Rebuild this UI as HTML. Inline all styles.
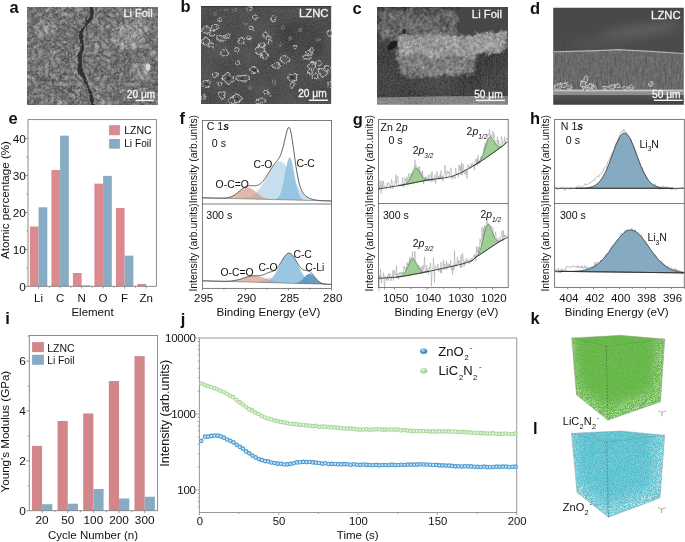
<!DOCTYPE html>
<html><head><meta charset="utf-8"><style>
html,body{margin:0;padding:0;background:#fff;width:685px;height:542px;overflow:hidden}
svg{display:block;will-change:transform}
text{font-family:"Liberation Sans",sans-serif}
</style></head><body>
<svg width="685" height="542" viewBox="0 0 685 542" font-family="Liberation Sans, sans-serif">
<defs>
<filter id="speck" x="0" y="0" width="100%" height="100%">
 <feTurbulence type="fractalNoise" baseFrequency="1.1" numOctaves="1" seed="4" result="n"/>
 <feColorMatrix in="n" type="matrix" values="0 0 0 0 1  0 0 0 0 1  0 0 0 0 1  1.6 0 0 0 -0.55" result="w"/>
 <feComposite in="w" in2="SourceGraphic" operator="in"/>
</filter>
<filter id="speck2" x="0" y="0" width="100%" height="100%">
 <feTurbulence type="fractalNoise" baseFrequency="1.3" numOctaves="1" seed="21" result="n"/>
 <feColorMatrix in="n" type="matrix" values="0 0 0 0 1  0 0 0 0 1  0 0 0 0 1  3 0 0 0 -1.25" result="w"/>
 <feComposite in="w" in2="SourceGraphic" operator="in"/>
</filter>
<linearGradient id="fadeK" x1="0" y1="0" x2="0" y2="1"><stop offset="0" stop-color="#fff" stop-opacity="0.05"/><stop offset="0.7" stop-color="#fff" stop-opacity="0.2"/><stop offset="1" stop-color="#fff" stop-opacity="0.9"/></linearGradient>
<filter id="texA" x="0" y="0" width="100%" height="100%" color-interpolation-filters="sRGB">
 <feTurbulence type="turbulence" baseFrequency="0.16" numOctaves="4" seed="3" result="n1"/>
 <feTurbulence type="fractalNoise" baseFrequency="0.5" numOctaves="2" seed="8" result="n2"/>
 <feComposite in="n1" in2="n2" operator="arithmetic" k1="0" k2="0.7" k3="0.3" k4="0" result="n"/>
 <feColorMatrix in="n" type="matrix" values="1 0 0 0 0  1 0 0 0 0  1 0 0 0 0  0 0 0 0 1" result="g"/>
 <feComposite in="SourceGraphic" in2="g" operator="arithmetic" k1="0" k2="1" k3="0.72" k4="-0.255" result="c"/>
 <feComposite in="c" in2="SourceGraphic" operator="in"/>
</filter><filter id="texB" x="0" y="0" width="100%" height="100%" color-interpolation-filters="sRGB">
 <feTurbulence type="fractalNoise" baseFrequency="0.5" numOctaves="2" seed="5" result="n1"/>
 <feTurbulence type="fractalNoise" baseFrequency="0.05" numOctaves="1" seed="6" result="n2"/>
 <feComposite in="n1" in2="n2" operator="arithmetic" k1="0" k2="0.6" k3="0.4" k4="0" result="n"/>
 <feColorMatrix in="n" type="matrix" values="1 0 0 0 0  1 0 0 0 0  1 0 0 0 0  0 0 0 0 1" result="g"/>
 <feComposite in="SourceGraphic" in2="g" operator="arithmetic" k1="0" k2="1" k3="0.22" k4="-0.1100" result="c"/>
 <feComposite in="c" in2="SourceGraphic" operator="in"/>
</filter><filter id="texC" x="0" y="0" width="100%" height="100%" color-interpolation-filters="sRGB">
 <feTurbulence type="fractalNoise" baseFrequency="0.3" numOctaves="3" seed="9" result="n1"/>
 <feTurbulence type="fractalNoise" baseFrequency="0.1" numOctaves="2" seed="12" result="n2"/>
 <feComposite in="n1" in2="n2" operator="arithmetic" k1="0" k2="0.65" k3="0.35" k4="0" result="n"/>
 <feColorMatrix in="n" type="matrix" values="1 0 0 0 0  1 0 0 0 0  1 0 0 0 0  0 0 0 0 1" result="g"/>
 <feComposite in="SourceGraphic" in2="g" operator="arithmetic" k1="0" k2="1" k3="0.55" k4="-0.2750" result="c"/>
 <feComposite in="c" in2="SourceGraphic" operator="in"/>
</filter><filter id="texCd" x="0" y="0" width="100%" height="100%" color-interpolation-filters="sRGB">
 <feTurbulence type="fractalNoise" baseFrequency="0.6" numOctaves="1" seed="13" result="n1"/>
 <feTurbulence type="fractalNoise" baseFrequency="0.03" numOctaves="1" seed="14" result="n2"/>
 <feComposite in="n1" in2="n2" operator="arithmetic" k1="0" k2="0.7" k3="0.3" k4="0" result="n"/>
 <feColorMatrix in="n" type="matrix" values="1 0 0 0 0  1 0 0 0 0  1 0 0 0 0  0 0 0 0 1" result="g"/>
 <feComposite in="SourceGraphic" in2="g" operator="arithmetic" k1="0" k2="1" k3="0.4" k4="-0.2000" result="c"/>
 <feComposite in="c" in2="SourceGraphic" operator="in"/>
</filter><filter id="texD" x="0" y="0" width="100%" height="100%" color-interpolation-filters="sRGB">
 <feTurbulence type="fractalNoise" baseFrequency="0.4" numOctaves="2" seed="11" result="n1"/>
 <feTurbulence type="fractalNoise" baseFrequency="0.08" numOctaves="2" seed="15" result="n2"/>
 <feComposite in="n1" in2="n2" operator="arithmetic" k1="0" k2="0.6" k3="0.4" k4="0" result="n"/>
 <feColorMatrix in="n" type="matrix" values="1 0 0 0 0  1 0 0 0 0  1 0 0 0 0  0 0 0 0 1" result="g"/>
 <feComposite in="SourceGraphic" in2="g" operator="arithmetic" k1="0" k2="1" k3="0.5" k4="-0.2500" result="c"/>
 <feComposite in="c" in2="SourceGraphic" operator="in"/>
</filter>
<filter id="wig" x="-5%" y="-5%" width="110%" height="110%" color-interpolation-filters="sRGB"><feTurbulence type="fractalNoise" baseFrequency="0.45" numOctaves="2" seed="17" result="t"/><feDisplacementMap in="SourceGraphic" in2="t" scale="3.2" xChannelSelector="R" yChannelSelector="G"/></filter>
<filter id="wig2" x="-5%" y="-5%" width="110%" height="110%" color-interpolation-filters="sRGB"><feTurbulence type="fractalNoise" baseFrequency="0.12" numOctaves="3" seed="23" result="t"/><feDisplacementMap in="SourceGraphic" in2="t" scale="9" xChannelSelector="R" yChannelSelector="G"/></filter>
<filter id="blur05" x="-20%" y="-20%" width="140%" height="140%"><feGaussianBlur stdDeviation="0.45"/></filter>
<filter id="blur1" x="-20%" y="-20%" width="140%" height="140%"><feGaussianBlur stdDeviation="0.8"/></filter>
<filter id="blur2" x="-30%" y="-30%" width="160%" height="160%"><feGaussianBlur stdDeviation="2"/></filter>
<filter id="blur3" x="-30%" y="-30%" width="160%" height="160%"><feGaussianBlur stdDeviation="3"/></filter>
<filter id="blur4" x="-50%" y="-50%" width="200%" height="200%"><feGaussianBlur stdDeviation="5"/></filter>
<clipPath id="cpa"><rect x="27" y="7" width="131" height="98"/></clipPath>
<clipPath id="cpb"><rect x="201" y="6" width="130.5" height="98"/></clipPath>
<clipPath id="cpc"><rect x="377" y="7" width="131" height="97.7"/></clipPath>
<clipPath id="cpd"><rect x="553.2" y="7.7" width="130.6" height="97.1"/></clipPath>
<filter id="cspk" x="0" y="0" width="100%" height="100%" color-interpolation-filters="sRGB">
 <feTurbulence type="fractalNoise" baseFrequency="0.8" numOctaves="1" seed="41" result="n"/>
 <feColorMatrix in="n" type="matrix" values="0 0 0 0 1  0 0 0 0 1  0 0 0 0 1  2.6 0 0 0 -1.35" result="w"/>
 <feComposite in="w" in2="SourceGraphic" operator="in"/>
</filter><filter id="texD2" x="0" y="0" width="100%" height="100%" color-interpolation-filters="sRGB">
 <feTurbulence type="fractalNoise" baseFrequency="0.7 0.09" numOctaves="2" seed="31" result="n1"/>
 <feTurbulence type="fractalNoise" baseFrequency="0.35" numOctaves="2" seed="32" result="n2"/>
 <feComposite in="n1" in2="n2" operator="arithmetic" k1="0" k2="0.6" k3="0.4" k4="0" result="n"/>
 <feColorMatrix in="n" type="matrix" values="1 0 0 0 0  1 0 0 0 0  1 0 0 0 0  0 0 0 0 1" result="g"/>
 <feComposite in="SourceGraphic" in2="g" operator="arithmetic" k1="0" k2="1" k3="0.3" k4="-0.15" result="c"/>
 <feComposite in="c" in2="SourceGraphic" operator="in"/>
</filter>
<linearGradient id="dtop" x1="0" y1="0" x2="0" y2="1"><stop offset="0" stop-color="#474747"/><stop offset="1" stop-color="#4b4b4b"/></linearGradient>
<linearGradient id="dbot" x1="0" y1="0" x2="0" y2="1"><stop offset="0" stop-color="#555"/><stop offset="0.5" stop-color="#474747"/><stop offset="1" stop-color="#3e3e3e"/></linearGradient></defs>
<text x="9.6" y="13" font-size="16.5" font-weight="bold" fill="#111" >a</text>
<text x="180.5" y="11.8" font-size="16.5" font-weight="bold" fill="#111" >b</text>
<text x="352.5" y="13.7" font-size="16.5" font-weight="bold" fill="#111" >c</text>
<text x="530" y="13.6" font-size="16.5" font-weight="bold" fill="#111" >d</text>
<text x="8.6" y="124.2" font-size="16.5" font-weight="bold" fill="#111" >e</text>
<text x="179.6" y="124" font-size="16.5" font-weight="bold" fill="#111" >f</text>
<text x="352.8" y="124.6" font-size="16.5" font-weight="bold" fill="#111" >g</text>
<text x="530" y="124.2" font-size="16.5" font-weight="bold" fill="#111" >h</text>
<text x="5.2" y="324.2" font-size="16.5" font-weight="bold" fill="#111" >i</text>
<text x="180.8" y="324.5" font-size="16.5" font-weight="bold" fill="#111" >j</text>
<text x="530.6" y="324" font-size="16.5" font-weight="bold" fill="#111" >k</text>
<text x="532.9" y="433.6" font-size="16.5" font-weight="bold" fill="#111" >l</text>
<rect x="29.90" y="226.48" width="8.7" height="59.82" fill="#db8a90"/>
<rect x="38.60" y="207.28" width="8.7" height="79.02" fill="#86abc3"/>
<text x="38.6" y="302" font-size="11.5" text-anchor="middle" fill="#111" >Li</text>
<line x1="38.60" y1="286.3" x2="38.60" y2="288.5" stroke="#808080" stroke-width="0.8"/>
<line x1="49.35" y1="286.3" x2="49.35" y2="287.8" stroke="#808080" stroke-width="0.8"/>
<rect x="51.40" y="169.99" width="8.7" height="116.31" fill="#db8a90"/>
<rect x="60.10" y="135.65" width="8.7" height="150.65" fill="#86abc3"/>
<text x="60.1" y="302" font-size="11.5" text-anchor="middle" fill="#111" >C</text>
<line x1="60.10" y1="286.3" x2="60.10" y2="288.5" stroke="#808080" stroke-width="0.8"/>
<line x1="70.85" y1="286.3" x2="70.85" y2="287.8" stroke="#808080" stroke-width="0.8"/>
<rect x="72.90" y="273.01" width="8.7" height="13.29" fill="#db8a90"/>
<rect x="81.60" y="285.38" width="8.7" height="0.92" fill="#86abc3"/>
<text x="81.6" y="302" font-size="11.5" text-anchor="middle" fill="#111" >N</text>
<line x1="81.60" y1="286.3" x2="81.60" y2="288.5" stroke="#808080" stroke-width="0.8"/>
<line x1="92.35" y1="286.3" x2="92.35" y2="287.8" stroke="#808080" stroke-width="0.8"/>
<rect x="94.40" y="183.65" width="8.7" height="102.65" fill="#db8a90"/>
<rect x="103.10" y="175.89" width="8.7" height="110.41" fill="#86abc3"/>
<text x="103.1" y="302" font-size="11.5" text-anchor="middle" fill="#111" >O</text>
<line x1="103.10" y1="286.3" x2="103.10" y2="288.5" stroke="#808080" stroke-width="0.8"/>
<line x1="113.85" y1="286.3" x2="113.85" y2="287.8" stroke="#808080" stroke-width="0.8"/>
<rect x="115.90" y="208.02" width="8.7" height="78.28" fill="#db8a90"/>
<rect x="124.60" y="255.65" width="8.7" height="30.65" fill="#86abc3"/>
<text x="124.6" y="302" font-size="11.5" text-anchor="middle" fill="#111" >F</text>
<line x1="124.60" y1="286.3" x2="124.60" y2="288.5" stroke="#808080" stroke-width="0.8"/>
<line x1="135.35" y1="286.3" x2="135.35" y2="287.8" stroke="#808080" stroke-width="0.8"/>
<rect x="137.40" y="283.90" width="8.7" height="2.40" fill="#db8a90"/>
<text x="146.1" y="302" font-size="11.5" text-anchor="middle" fill="#111" >Zn</text>
<line x1="146.10" y1="286.3" x2="146.10" y2="288.5" stroke="#808080" stroke-width="0.8"/>
<rect x="28" y="119.6" width="128.4" height="166.70000000000002" fill="none" stroke="#808080" stroke-width="0.9"/>
<line x1="25" y1="286.30" x2="28" y2="286.30" stroke="#808080" stroke-width="0.8"/>
<text x="25.8" y="290.5" font-size="11.8" text-anchor="end" fill="#111" >0</text>
<line x1="26.4" y1="267.84" x2="28" y2="267.84" stroke="#808080" stroke-width="0.8"/>
<line x1="25" y1="249.38" x2="28" y2="249.38" stroke="#808080" stroke-width="0.8"/>
<text x="25.8" y="253.575" font-size="11.8" text-anchor="end" fill="#111" >10</text>
<line x1="26.4" y1="230.91" x2="28" y2="230.91" stroke="#808080" stroke-width="0.8"/>
<line x1="25" y1="212.45" x2="28" y2="212.45" stroke="#808080" stroke-width="0.8"/>
<text x="25.8" y="216.64999999999998" font-size="11.8" text-anchor="end" fill="#111" >20</text>
<line x1="26.4" y1="193.99" x2="28" y2="193.99" stroke="#808080" stroke-width="0.8"/>
<line x1="25" y1="175.53" x2="28" y2="175.53" stroke="#808080" stroke-width="0.8"/>
<text x="25.8" y="179.725" font-size="11.8" text-anchor="end" fill="#111" >30</text>
<line x1="26.4" y1="157.06" x2="28" y2="157.06" stroke="#808080" stroke-width="0.8"/>
<line x1="25" y1="138.60" x2="28" y2="138.60" stroke="#808080" stroke-width="0.8"/>
<text x="25.8" y="142.79999999999998" font-size="11.8" text-anchor="end" fill="#111" >40</text>
<text x="92.5" y="316" font-size="11.5" text-anchor="middle" fill="#111" >Element</text>
<text transform="translate(8.9,200) rotate(-90)" font-size="11.6" text-anchor="middle" fill="#111">Atomic percentage (%)</text>
<rect x="109.1" y="125.2" width="10.8" height="10" fill="#db8a90"/>
<rect x="109.1" y="139" width="10.8" height="9.7" fill="#86abc3"/>
<text x="124.2" y="134.3" font-size="10.5" fill="#111" >LZNC</text>
<text x="124.2" y="146.6" font-size="10.2" fill="#111" >Li Foil</text>
<rect x="31.90" y="445.88" width="10.2" height="64.82" fill="#d3868a"/>
<rect x="42.10" y="504.22" width="10.2" height="6.48" fill="#86abc3"/>
<text x="42.1" y="524.2" font-size="11.8" text-anchor="middle" fill="#111" >20</text>
<line x1="42.10" y1="510.7" x2="42.10" y2="512.9" stroke="#808080" stroke-width="0.8"/>
<line x1="54.90" y1="510.7" x2="54.90" y2="512.2" stroke="#808080" stroke-width="0.8"/>
<rect x="57.55" y="420.95" width="10.2" height="89.75" fill="#d3868a"/>
<rect x="67.75" y="503.72" width="10.2" height="6.98" fill="#86abc3"/>
<text x="67.75" y="524.2" font-size="11.8" text-anchor="middle" fill="#111" >50</text>
<line x1="67.75" y1="510.7" x2="67.75" y2="512.9" stroke="#808080" stroke-width="0.8"/>
<line x1="80.55" y1="510.7" x2="80.55" y2="512.2" stroke="#808080" stroke-width="0.8"/>
<rect x="83.20" y="413.47" width="10.2" height="97.23" fill="#d3868a"/>
<rect x="93.40" y="489.01" width="10.2" height="21.69" fill="#86abc3"/>
<text x="93.4" y="524.2" font-size="11.8" text-anchor="middle" fill="#111" >100</text>
<line x1="93.40" y1="510.7" x2="93.40" y2="512.9" stroke="#808080" stroke-width="0.8"/>
<line x1="106.20" y1="510.7" x2="106.20" y2="512.2" stroke="#808080" stroke-width="0.8"/>
<rect x="108.85" y="381.06" width="10.2" height="129.64" fill="#d3868a"/>
<rect x="119.05" y="498.48" width="10.2" height="12.22" fill="#86abc3"/>
<text x="119.04999999999998" y="524.2" font-size="11.8" text-anchor="middle" fill="#111" >200</text>
<line x1="119.05" y1="510.7" x2="119.05" y2="512.9" stroke="#808080" stroke-width="0.8"/>
<line x1="131.85" y1="510.7" x2="131.85" y2="512.2" stroke="#808080" stroke-width="0.8"/>
<rect x="134.50" y="356.13" width="10.2" height="154.57" fill="#d3868a"/>
<rect x="144.70" y="496.74" width="10.2" height="13.96" fill="#86abc3"/>
<text x="144.7" y="524.2" font-size="11.8" text-anchor="middle" fill="#111" >300</text>
<line x1="144.70" y1="510.7" x2="144.70" y2="512.9" stroke="#808080" stroke-width="0.8"/>
<rect x="29.3" y="335.5" width="128.29999999999998" height="175.2" fill="none" stroke="#808080" stroke-width="0.9"/>
<line x1="26.3" y1="510.70" x2="29.3" y2="510.70" stroke="#808080" stroke-width="0.8"/>
<text x="25.8" y="514.9" font-size="11.8" text-anchor="end" fill="#111" >0</text>
<line x1="27.7" y1="485.77" x2="29.3" y2="485.77" stroke="#808080" stroke-width="0.8"/>
<line x1="26.3" y1="460.84" x2="29.3" y2="460.84" stroke="#808080" stroke-width="0.8"/>
<text x="25.8" y="465.03999999999996" font-size="11.8" text-anchor="end" fill="#111" >2</text>
<line x1="27.7" y1="435.91" x2="29.3" y2="435.91" stroke="#808080" stroke-width="0.8"/>
<line x1="26.3" y1="410.98" x2="29.3" y2="410.98" stroke="#808080" stroke-width="0.8"/>
<text x="25.8" y="415.18" font-size="11.8" text-anchor="end" fill="#111" >4</text>
<line x1="27.7" y1="386.05" x2="29.3" y2="386.05" stroke="#808080" stroke-width="0.8"/>
<line x1="26.3" y1="361.12" x2="29.3" y2="361.12" stroke="#808080" stroke-width="0.8"/>
<text x="25.8" y="365.32" font-size="11.8" text-anchor="end" fill="#111" >6</text>
<line x1="27.7" y1="336.19" x2="29.3" y2="336.19" stroke="#808080" stroke-width="0.8"/>
<text x="93" y="539" font-size="11.5" text-anchor="middle" fill="#111" >Cycle Number (n)</text>
<text transform="translate(8.7,431.6) rotate(-90)" font-size="11.6" text-anchor="middle" fill="#111">Young's Modulus (GPa)</text>
<rect x="32.1" y="342.1" width="11.8" height="10" fill="#d3868a"/>
<rect x="32.1" y="354.8" width="11.8" height="10" fill="#86abc3"/>
<text x="47.2" y="351.5" font-size="10.5" fill="#111" >LZNC</text>
<text x="47.2" y="363.8" font-size="10.3" fill="#111" >Li Foil</text>
<path d="M229.60,198.46 L230.10,198.47 L230.60,198.48 L231.10,198.49 L231.60,198.50 L232.10,198.51 L232.60,198.52 L233.10,198.52 L233.60,198.53 L234.10,198.53 L234.60,198.54 L235.10,198.54 L235.60,198.54 L236.10,198.55 L236.60,198.54 L237.10,198.54 L237.60,198.54 L238.10,198.53 L238.60,198.52 L239.10,198.51 L239.60,198.49 L240.10,198.47 L240.60,198.45 L241.10,198.42 L241.60,198.39 L242.10,198.36 L242.60,198.31 L243.10,198.27 L243.60,198.21 L244.10,198.15 L244.60,198.08 L245.10,198.00 L245.60,197.92 L246.10,197.82 L246.60,197.72 L247.10,197.60 L247.60,197.47 L248.10,197.32 L248.60,197.17 L249.10,197.00 L249.60,196.81 L250.10,196.61 L250.60,196.38 L251.10,196.15 L251.60,195.89 L252.10,195.61 L252.60,195.31 L253.10,194.99 L253.60,194.64 L254.10,194.28 L254.60,193.88 L255.10,193.47 L255.60,193.02 L256.10,192.55 L256.60,192.06 L257.10,191.54 L257.60,190.99 L258.10,190.41 L258.60,189.80 L259.10,189.17 L259.60,188.51 L260.10,187.83 L260.60,187.12 L261.10,186.38 L261.60,185.62 L262.10,184.83 L262.60,184.02 L263.10,183.19 L263.60,182.35 L264.10,181.48 L264.60,180.60 L265.10,179.71 L265.60,178.80 L266.10,177.89 L266.60,176.97 L267.10,176.05 L267.60,175.13 L268.10,174.21 L268.60,173.30 L269.10,172.40 L269.60,171.51 L270.10,170.64 L270.60,169.78 L271.10,168.95 L271.60,168.15 L272.10,167.37 L272.60,166.63 L273.10,165.92 L273.60,165.25 L274.10,164.63 L274.60,164.05 L275.10,163.52 L275.60,163.04 L276.10,162.61 L276.60,162.23 L277.10,161.91 L277.60,161.65 L278.10,161.45 L278.60,161.31 L279.10,161.23 L279.60,161.21 L280.10,161.26 L280.60,161.36 L281.10,161.53 L281.60,161.75 L282.10,162.04 L282.60,162.38 L283.10,162.78 L283.60,163.23 L284.10,163.74 L284.60,164.30 L285.10,164.90 L285.60,165.55 L286.10,166.24 L286.60,166.97 L287.10,167.74 L287.60,168.54 L288.10,169.37 L288.60,170.23 L289.10,171.11 L289.60,172.00 L290.10,172.92 L290.60,173.85 L291.10,174.78 L291.60,175.73 L292.10,176.67 L292.60,177.62 L293.10,178.56 L293.60,179.50 L294.10,180.43 L294.60,181.35 L295.10,182.25 L295.60,183.14 L296.10,184.01 L296.60,184.87 L297.10,185.70 L297.60,186.51 L298.10,187.29 L298.60,188.06 L299.10,188.79 L299.60,189.50 L300.10,190.19 L300.60,190.85 L301.10,191.48 L301.60,192.08 L302.10,192.65 L302.60,193.20 L303.10,193.72 L303.60,194.21 L304.10,194.68 L304.60,195.12 L305.10,195.54 L305.60,195.93 L306.10,196.30 L306.60,196.65 L307.10,196.97 L307.60,197.28 L308.10,197.56 L308.60,197.82 L309.10,198.07 L309.60,198.30 L310.10,198.51 L310.60,198.70 L311.10,198.89 L311.60,199.05 L312.10,199.21 L312.60,199.35 L313.10,199.48 L313.60,199.60 L314.10,199.71 L314.60,199.82 L315.10,199.91 L315.60,200.00 L316.10,200.08 L316.60,200.15 L317.10,200.22 L317.60,200.28 L318.10,200.33 L318.60,200.38 L319.10,200.43 L319.60,200.47 L320.10,200.52 L320.60,200.55 L321.10,200.59 L321.60,200.62 L322.10,200.65 L322.60,200.68 L323.10,200.70 L323.60,200.73 L324.10,200.75 L324.60,200.77 L325.10,200.79 L325.60,200.81 L326.10,200.83 L326.60,200.85 L327.10,200.86 L327.60,200.88 L328.10,200.90 L328.60,200.91 L329.10,200.93 L329.60,200.94 L329.60,200.95 L329.10,200.94 L328.60,200.93 L328.10,200.92 L327.60,200.90 L327.10,200.89 L326.60,200.88 L326.10,200.87 L325.60,200.85 L325.10,200.84 L324.60,200.83 L324.10,200.82 L323.60,200.80 L323.10,200.79 L322.60,200.78 L322.10,200.77 L321.60,200.75 L321.10,200.74 L320.60,200.73 L320.10,200.72 L319.60,200.71 L319.10,200.69 L318.60,200.68 L318.10,200.67 L317.60,200.66 L317.10,200.64 L316.60,200.63 L316.10,200.62 L315.60,200.61 L315.10,200.59 L314.60,200.58 L314.10,200.57 L313.60,200.56 L313.10,200.54 L312.60,200.53 L312.10,200.52 L311.60,200.51 L311.10,200.49 L310.60,200.48 L310.10,200.47 L309.60,200.46 L309.10,200.44 L308.60,200.43 L308.10,200.42 L307.60,200.41 L307.10,200.40 L306.60,200.38 L306.10,200.37 L305.60,200.36 L305.10,200.35 L304.60,200.33 L304.10,200.32 L303.60,200.31 L303.10,200.30 L302.60,200.28 L302.10,200.27 L301.60,200.26 L301.10,200.25 L300.60,200.23 L300.10,200.22 L299.60,200.21 L299.10,200.20 L298.60,200.18 L298.10,200.17 L297.60,200.16 L297.10,200.15 L296.60,200.13 L296.10,200.12 L295.60,200.11 L295.10,200.10 L294.60,200.09 L294.10,200.07 L293.60,200.06 L293.10,200.05 L292.60,200.04 L292.10,200.02 L291.60,200.01 L291.10,200.00 L290.60,199.99 L290.10,199.97 L289.60,199.96 L289.10,199.95 L288.60,199.94 L288.10,199.92 L287.60,199.91 L287.10,199.90 L286.60,199.89 L286.10,199.87 L285.60,199.86 L285.10,199.85 L284.60,199.84 L284.10,199.83 L283.60,199.81 L283.10,199.80 L282.60,199.79 L282.10,199.78 L281.60,199.76 L281.10,199.75 L280.60,199.74 L280.10,199.73 L279.60,199.71 L279.10,199.70 L278.60,199.69 L278.10,199.68 L277.60,199.66 L277.10,199.65 L276.60,199.64 L276.10,199.63 L275.60,199.61 L275.10,199.60 L274.60,199.59 L274.10,199.58 L273.60,199.56 L273.10,199.55 L272.60,199.54 L272.10,199.53 L271.60,199.52 L271.10,199.50 L270.60,199.49 L270.10,199.48 L269.60,199.47 L269.10,199.45 L268.60,199.44 L268.10,199.43 L267.60,199.42 L267.10,199.40 L266.60,199.39 L266.10,199.38 L265.60,199.37 L265.10,199.35 L264.60,199.34 L264.10,199.33 L263.60,199.32 L263.10,199.30 L262.60,199.29 L262.10,199.28 L261.60,199.27 L261.10,199.25 L260.60,199.24 L260.10,199.23 L259.60,199.22 L259.10,199.21 L258.60,199.19 L258.10,199.18 L257.60,199.17 L257.10,199.16 L256.60,199.14 L256.10,199.13 L255.60,199.12 L255.10,199.11 L254.60,199.09 L254.10,199.08 L253.60,199.07 L253.10,199.06 L252.60,199.04 L252.10,199.03 L251.60,199.02 L251.10,199.01 L250.60,198.99 L250.10,198.98 L249.60,198.97 L249.10,198.96 L248.60,198.95 L248.10,198.93 L247.60,198.92 L247.10,198.91 L246.60,198.90 L246.10,198.88 L245.60,198.87 L245.10,198.86 L244.60,198.85 L244.10,198.83 L243.60,198.82 L243.10,198.81 L242.60,198.80 L242.10,198.78 L241.60,198.77 L241.10,198.76 L240.60,198.75 L240.10,198.73 L239.60,198.72 L239.10,198.71 L238.60,198.70 L238.10,198.68 L237.60,198.67 L237.10,198.66 L236.60,198.65 L236.10,198.64 L235.60,198.62 L235.10,198.61 L234.60,198.60 L234.10,198.59 L233.60,198.57 L233.10,198.56 L232.60,198.55 L232.10,198.54 L231.60,198.52 L231.10,198.51 L230.60,198.50 L230.10,198.49 L229.60,198.47Z" fill="#c6deed" fill-opacity="1"/>
<path d="M270.90,199.48 L271.40,199.49 L271.90,199.49 L272.40,199.49 L272.90,199.48 L273.40,199.46 L273.90,199.42 L274.40,199.37 L274.90,199.30 L275.40,199.19 L275.90,199.05 L276.40,198.86 L276.90,198.60 L277.40,198.27 L277.90,197.85 L278.40,197.32 L278.90,196.66 L279.40,195.86 L279.90,194.89 L280.40,193.73 L280.90,192.38 L281.40,190.82 L281.90,189.05 L282.40,187.06 L282.90,184.87 L283.40,182.50 L283.90,179.97 L284.40,177.33 L284.90,174.62 L285.40,171.89 L285.90,169.22 L286.40,166.67 L286.90,164.31 L287.40,162.20 L287.90,160.42 L288.40,159.03 L288.90,158.06 L289.40,157.54 L289.90,157.51 L290.40,157.95 L290.90,158.86 L291.40,160.20 L291.90,161.93 L292.40,164.00 L292.90,166.34 L293.40,168.88 L293.90,171.56 L294.40,174.30 L294.90,177.05 L295.40,179.73 L295.90,182.31 L296.40,184.74 L296.90,187.00 L297.40,189.05 L297.90,190.89 L298.40,192.52 L298.90,193.93 L299.40,195.15 L299.90,196.18 L300.40,197.05 L300.90,197.76 L301.40,198.34 L301.90,198.80 L302.40,199.17 L302.90,199.47 L303.40,199.70 L303.90,199.87 L304.40,200.01 L304.90,200.11 L305.40,200.19 L305.90,200.25 L306.40,200.30 L306.90,200.34 L307.40,200.37 L307.90,200.39 L308.40,200.41 L308.40,200.43 L307.90,200.42 L307.40,200.40 L306.90,200.39 L306.40,200.38 L305.90,200.37 L305.40,200.35 L304.90,200.34 L304.40,200.33 L303.90,200.32 L303.40,200.30 L302.90,200.29 L302.40,200.28 L301.90,200.27 L301.40,200.25 L300.90,200.24 L300.40,200.23 L299.90,200.22 L299.40,200.20 L298.90,200.19 L298.40,200.18 L297.90,200.17 L297.40,200.15 L296.90,200.14 L296.40,200.13 L295.90,200.12 L295.40,200.11 L294.90,200.09 L294.40,200.08 L293.90,200.07 L293.40,200.06 L292.90,200.04 L292.40,200.03 L291.90,200.02 L291.40,200.01 L290.90,199.99 L290.40,199.98 L289.90,199.97 L289.40,199.96 L288.90,199.94 L288.40,199.93 L287.90,199.92 L287.40,199.91 L286.90,199.89 L286.40,199.88 L285.90,199.87 L285.40,199.86 L284.90,199.84 L284.40,199.83 L283.90,199.82 L283.40,199.81 L282.90,199.80 L282.40,199.78 L281.90,199.77 L281.40,199.76 L280.90,199.75 L280.40,199.73 L279.90,199.72 L279.40,199.71 L278.90,199.70 L278.40,199.68 L277.90,199.67 L277.40,199.66 L276.90,199.65 L276.40,199.63 L275.90,199.62 L275.40,199.61 L274.90,199.60 L274.40,199.58 L273.90,199.57 L273.40,199.56 L272.90,199.55 L272.40,199.54 L271.90,199.52 L271.40,199.51 L270.90,199.50Z" fill="#95c3df" fill-opacity="0.95"/>
<path d="M213.50,198.07 L214.00,198.08 L214.50,198.09 L215.00,198.10 L215.50,198.12 L216.00,198.13 L216.50,198.13 L217.00,198.14 L217.50,198.15 L218.00,198.16 L218.50,198.16 L219.00,198.17 L219.50,198.17 L220.00,198.17 L220.50,198.17 L221.00,198.17 L221.50,198.17 L222.00,198.16 L222.50,198.15 L223.00,198.13 L223.50,198.11 L224.00,198.08 L224.50,198.05 L225.00,198.01 L225.50,197.97 L226.00,197.92 L226.50,197.85 L227.00,197.78 L227.50,197.70 L228.00,197.61 L228.50,197.50 L229.00,197.38 L229.50,197.25 L230.00,197.10 L230.50,196.94 L231.00,196.76 L231.50,196.57 L232.00,196.35 L232.50,196.12 L233.00,195.87 L233.50,195.61 L234.00,195.33 L234.50,195.02 L235.00,194.71 L235.50,194.38 L236.00,194.03 L236.50,193.67 L237.00,193.30 L237.50,192.91 L238.00,192.52 L238.50,192.13 L239.00,191.73 L239.50,191.33 L240.00,190.94 L240.50,190.55 L241.00,190.17 L241.50,189.81 L242.00,189.45 L242.50,189.12 L243.00,188.81 L243.50,188.52 L244.00,188.27 L244.50,188.04 L245.00,187.84 L245.50,187.68 L246.00,187.56 L246.50,187.47 L247.00,187.43 L247.50,187.42 L248.00,187.45 L248.50,187.52 L249.00,187.63 L249.50,187.78 L250.00,187.97 L250.50,188.19 L251.00,188.44 L251.50,188.72 L252.00,189.03 L252.50,189.37 L253.00,189.73 L253.50,190.10 L254.00,190.49 L254.50,190.90 L255.00,191.31 L255.50,191.73 L256.00,192.15 L256.50,192.58 L257.00,193.00 L257.50,193.41 L258.00,193.82 L258.50,194.21 L259.00,194.60 L259.50,194.97 L260.00,195.33 L260.50,195.67 L261.00,195.99 L261.50,196.30 L262.00,196.59 L262.50,196.87 L263.00,197.12 L263.50,197.36 L264.00,197.58 L264.50,197.78 L265.00,197.97 L265.50,198.14 L266.00,198.30 L266.50,198.44 L267.00,198.57 L267.50,198.69 L268.00,198.80 L268.50,198.89 L269.00,198.98 L269.50,199.06 L270.00,199.13 L270.50,199.19 L271.00,199.25 L271.50,199.30 L272.00,199.34 L272.50,199.39 L273.00,199.42 L273.50,199.46 L274.00,199.49 L274.50,199.51 L275.00,199.54 L275.50,199.56 L276.00,199.58 L276.50,199.60 L277.00,199.62 L277.50,199.64 L278.00,199.66 L278.50,199.67 L279.00,199.69 L279.50,199.70 L280.00,199.72 L280.50,199.73 L281.00,199.74 L281.50,199.76 L281.50,199.76 L281.00,199.75 L280.50,199.74 L280.00,199.72 L279.50,199.71 L279.00,199.70 L278.50,199.69 L278.00,199.67 L277.50,199.66 L277.00,199.65 L276.50,199.64 L276.00,199.62 L275.50,199.61 L275.00,199.60 L274.50,199.59 L274.00,199.57 L273.50,199.56 L273.00,199.55 L272.50,199.54 L272.00,199.53 L271.50,199.51 L271.00,199.50 L270.50,199.49 L270.00,199.48 L269.50,199.46 L269.00,199.45 L268.50,199.44 L268.00,199.43 L267.50,199.41 L267.00,199.40 L266.50,199.39 L266.00,199.38 L265.50,199.36 L265.00,199.35 L264.50,199.34 L264.00,199.33 L263.50,199.31 L263.00,199.30 L262.50,199.29 L262.00,199.28 L261.50,199.26 L261.00,199.25 L260.50,199.24 L260.00,199.23 L259.50,199.22 L259.00,199.20 L258.50,199.19 L258.00,199.18 L257.50,199.17 L257.00,199.15 L256.50,199.14 L256.00,199.13 L255.50,199.12 L255.00,199.10 L254.50,199.09 L254.00,199.08 L253.50,199.07 L253.00,199.05 L252.50,199.04 L252.00,199.03 L251.50,199.02 L251.00,199.00 L250.50,198.99 L250.00,198.98 L249.50,198.97 L249.00,198.96 L248.50,198.94 L248.00,198.93 L247.50,198.92 L247.00,198.91 L246.50,198.89 L246.00,198.88 L245.50,198.87 L245.00,198.86 L244.50,198.84 L244.00,198.83 L243.50,198.82 L243.00,198.81 L242.50,198.79 L242.00,198.78 L241.50,198.77 L241.00,198.76 L240.50,198.74 L240.00,198.73 L239.50,198.72 L239.00,198.71 L238.50,198.69 L238.00,198.68 L237.50,198.67 L237.00,198.66 L236.50,198.65 L236.00,198.63 L235.50,198.62 L235.00,198.61 L234.50,198.60 L234.00,198.58 L233.50,198.57 L233.00,198.56 L232.50,198.55 L232.00,198.53 L231.50,198.52 L231.00,198.51 L230.50,198.50 L230.00,198.48 L229.50,198.47 L229.00,198.46 L228.50,198.45 L228.00,198.43 L227.50,198.42 L227.00,198.41 L226.50,198.40 L226.00,198.38 L225.50,198.37 L225.00,198.36 L224.50,198.35 L224.00,198.34 L223.50,198.32 L223.00,198.31 L222.50,198.30 L222.00,198.29 L221.50,198.27 L221.00,198.26 L220.50,198.25 L220.00,198.24 L219.50,198.22 L219.00,198.21 L218.50,198.20 L218.00,198.19 L217.50,198.17 L217.00,198.16 L216.50,198.15 L216.00,198.14 L215.50,198.12 L215.00,198.11 L214.50,198.10 L214.00,198.09 L213.50,198.08Z" fill="#d49a88" fill-opacity="0.7"/>
<line x1="202.4" y1="197.80" x2="331.5" y2="201.00" stroke="#555" stroke-width="0.6" opacity="0.8"/>
<path d="M202.40,197.80 L202.90,197.81 L203.40,197.82 L203.90,197.84 L204.40,197.85 L204.90,197.86 L205.40,197.87 L205.90,197.89 L206.40,197.90 L206.90,197.91 L207.40,197.92 L207.90,197.94 L208.40,197.95 L208.90,197.96 L209.40,197.97 L209.90,197.99 L210.40,198.00 L210.90,198.01 L211.40,198.02 L211.90,198.03 L212.40,198.05 L212.90,198.06 L213.40,198.07 L213.90,198.08 L214.40,198.09 L214.90,198.10 L215.40,198.11 L215.90,198.12 L216.40,198.13 L216.90,198.14 L217.40,198.15 L217.90,198.16 L218.40,198.16 L218.90,198.17 L219.40,198.17 L219.90,198.17 L220.40,198.17 L220.90,198.17 L221.40,198.17 L221.90,198.16 L222.40,198.15 L222.90,198.13 L223.40,198.11 L223.90,198.09 L224.40,198.06 L224.90,198.02 L225.40,197.98 L225.90,197.92 L226.40,197.86 L226.90,197.79 L227.40,197.71 L227.90,197.62 L228.40,197.51 L228.90,197.40 L229.40,197.27 L229.90,197.12 L230.40,196.96 L230.90,196.78 L231.40,196.58 L231.90,196.37 L232.40,196.14 L232.90,195.89 L233.40,195.62 L233.90,195.34 L234.40,195.03 L234.90,194.71 L235.40,194.37 L235.90,194.01 L236.40,193.64 L236.90,193.26 L237.40,192.86 L237.90,192.46 L238.40,192.04 L238.90,191.62 L239.40,191.20 L239.90,190.77 L240.40,190.35 L240.90,189.93 L241.40,189.52 L241.90,189.12 L242.40,188.73 L242.90,188.35 L243.40,188.00 L243.90,187.66 L244.40,187.35 L244.90,187.06 L245.40,186.80 L245.90,186.56 L246.40,186.36 L246.90,186.17 L247.40,186.02 L247.90,185.90 L248.40,185.80 L248.90,185.72 L249.40,185.67 L249.90,185.64 L250.40,185.63 L250.90,185.63 L251.40,185.64 L251.90,185.66 L252.40,185.69 L252.90,185.72 L253.40,185.75 L253.90,185.76 L254.40,185.77 L254.90,185.76 L255.40,185.74 L255.90,185.69 L256.40,185.61 L256.90,185.51 L257.40,185.37 L257.90,185.20 L258.40,185.00 L258.90,184.75 L259.40,184.46 L259.90,184.14 L260.40,183.77 L260.90,183.36 L261.40,182.90 L261.90,182.41 L262.40,181.87 L262.90,181.30 L263.40,180.69 L263.90,180.04 L264.40,179.36 L264.90,178.65 L265.40,177.91 L265.90,177.15 L266.40,176.37 L266.90,175.57 L267.40,174.76 L267.90,173.93 L268.40,173.10 L268.90,172.27 L269.40,171.44 L269.90,170.62 L270.40,169.81 L270.90,169.01 L271.40,168.22 L271.90,167.46 L272.40,166.71 L272.90,166.00 L273.40,165.30 L273.90,164.63 L274.40,163.99 L274.90,163.36 L275.40,162.75 L275.90,162.16 L276.40,161.56 L276.90,160.96 L277.40,160.34 L277.90,159.69 L278.40,158.98 L278.90,158.21 L279.40,157.35 L279.90,156.39 L280.40,155.31 L280.90,154.08 L281.40,152.71 L281.90,151.19 L282.40,149.51 L282.90,147.69 L283.40,145.74 L283.90,143.68 L284.40,141.56 L284.90,139.41 L285.40,137.27 L285.90,135.19 L286.40,133.18 L286.90,131.30 L287.40,129.65 L287.90,128.35 L288.40,127.57 L288.90,127.37 L289.40,127.75 L289.90,128.66 L290.40,130.11 L290.90,132.11 L291.40,134.65 L291.90,137.63 L292.40,140.89 L292.90,144.34 L293.40,147.90 L293.90,151.53 L294.40,155.20 L294.90,158.84 L295.40,162.42 L295.90,165.86 L296.40,169.14 L296.90,172.22 L297.40,175.08 L297.90,177.71 L298.40,180.09 L298.90,182.25 L299.40,184.17 L299.90,185.89 L300.40,187.40 L300.90,188.74 L301.40,189.92 L301.90,190.96 L302.40,191.88 L302.90,192.69 L303.40,193.41 L303.90,194.05 L304.40,194.63 L304.90,195.15 L305.40,195.62 L305.90,196.04 L306.40,196.43 L306.90,196.79 L307.40,197.12 L307.90,197.42 L308.40,197.70 L308.90,197.96 L309.40,198.20 L309.90,198.42 L310.40,198.62 L310.90,198.81 L311.40,198.99 L311.90,199.15 L312.40,199.30 L312.90,199.43 L313.40,199.56 L313.90,199.67 L314.40,199.78 L314.90,199.87 L315.40,199.96 L315.90,200.05 L316.40,200.12 L316.90,200.19 L317.40,200.25 L317.90,200.31 L318.40,200.36 L318.90,200.41 L319.40,200.46 L319.90,200.50 L320.40,200.54 L320.90,200.57 L321.40,200.61 L321.90,200.64 L322.40,200.66 L322.90,200.69 L323.40,200.72 L323.90,200.74 L324.40,200.76 L324.90,200.78 L325.40,200.80 L325.90,200.82 L326.40,200.84 L326.90,200.86 L327.40,200.87 L327.90,200.89 L328.40,200.90 L328.90,200.92 L329.40,200.93 L329.90,200.95 L330.40,200.96 L330.90,200.98 L331.40,200.99" fill="none" stroke="#2a2a2a" stroke-width="0.75"/>
<path d="M249.40,282.11 L249.90,282.12 L250.40,282.13 L250.90,282.15 L251.40,282.16 L251.90,282.17 L252.40,282.18 L252.90,282.19 L253.40,282.19 L253.90,282.20 L254.40,282.19 L254.90,282.19 L255.40,282.18 L255.90,282.16 L256.40,282.14 L256.90,282.10 L257.40,282.05 L257.90,281.99 L258.40,281.92 L258.90,281.82 L259.40,281.71 L259.90,281.58 L260.40,281.43 L260.90,281.25 L261.40,281.06 L261.90,280.84 L262.40,280.60 L262.90,280.34 L263.40,280.07 L263.90,279.78 L264.40,279.50 L264.90,279.21 L265.40,278.93 L265.90,278.66 L266.40,278.41 L266.90,278.19 L267.40,278.00 L267.90,277.85 L268.40,277.74 L268.90,277.68 L269.40,277.67 L269.90,277.71 L270.40,277.80 L270.90,277.93 L271.40,278.11 L271.90,278.33 L272.40,278.58 L272.90,278.85 L273.40,279.15 L273.90,279.46 L274.40,279.78 L274.90,280.09 L275.40,280.40 L275.90,280.70 L276.40,280.99 L276.90,281.25 L277.40,281.50 L277.90,281.73 L278.40,281.93 L278.90,282.11 L279.40,282.27 L279.90,282.41 L280.40,282.53 L280.90,282.63 L281.40,282.72 L281.90,282.80 L282.40,282.86 L282.90,282.91 L283.40,282.96 L283.90,283.00 L284.40,283.03 L284.90,283.06 L285.40,283.08 L285.90,283.11 L286.40,283.13 L286.90,283.15 L287.40,283.16 L287.90,283.18 L288.40,283.19 L288.90,283.21 L289.40,283.22 L289.40,283.23 L288.90,283.21 L288.40,283.20 L287.90,283.18 L287.40,283.17 L286.90,283.16 L286.40,283.14 L285.90,283.13 L285.40,283.11 L284.90,283.10 L284.40,283.09 L283.90,283.07 L283.40,283.06 L282.90,283.04 L282.40,283.03 L281.90,283.02 L281.40,283.00 L280.90,282.99 L280.40,282.98 L279.90,282.96 L279.40,282.95 L278.90,282.93 L278.40,282.92 L277.90,282.91 L277.40,282.89 L276.90,282.88 L276.40,282.86 L275.90,282.85 L275.40,282.84 L274.90,282.82 L274.40,282.81 L273.90,282.79 L273.40,282.78 L272.90,282.77 L272.40,282.75 L271.90,282.74 L271.40,282.72 L270.90,282.71 L270.40,282.70 L269.90,282.68 L269.40,282.67 L268.90,282.65 L268.40,282.64 L267.90,282.63 L267.40,282.61 L266.90,282.60 L266.40,282.58 L265.90,282.57 L265.40,282.56 L264.90,282.54 L264.40,282.53 L263.90,282.51 L263.40,282.50 L262.90,282.49 L262.40,282.47 L261.90,282.46 L261.40,282.45 L260.90,282.43 L260.40,282.42 L259.90,282.40 L259.40,282.39 L258.90,282.38 L258.40,282.36 L257.90,282.35 L257.40,282.33 L256.90,282.32 L256.40,282.31 L255.90,282.29 L255.40,282.28 L254.90,282.26 L254.40,282.25 L253.90,282.24 L253.40,282.22 L252.90,282.21 L252.40,282.19 L251.90,282.18 L251.40,282.17 L250.90,282.15 L250.40,282.14 L249.90,282.12 L249.40,282.11Z" fill="#c6deed" fill-opacity="1"/>
<path d="M253.10,282.20 L253.60,282.22 L254.10,282.23 L254.60,282.24 L255.10,282.25 L255.60,282.25 L256.10,282.26 L256.60,282.27 L257.10,282.27 L257.60,282.27 L258.10,282.27 L258.60,282.27 L259.10,282.27 L259.60,282.26 L260.10,282.24 L260.60,282.22 L261.10,282.20 L261.60,282.17 L262.10,282.13 L262.60,282.09 L263.10,282.03 L263.60,281.96 L264.10,281.89 L264.60,281.80 L265.10,281.69 L265.60,281.57 L266.10,281.43 L266.60,281.27 L267.10,281.09 L267.60,280.89 L268.10,280.66 L268.60,280.40 L269.10,280.12 L269.60,279.80 L270.10,279.46 L270.60,279.07 L271.10,278.66 L271.60,278.20 L272.10,277.70 L272.60,277.17 L273.10,276.59 L273.60,275.98 L274.10,275.32 L274.60,274.62 L275.10,273.88 L275.60,273.10 L276.10,272.29 L276.60,271.43 L277.10,270.55 L277.60,269.64 L278.10,268.70 L278.60,267.73 L279.10,266.76 L279.60,265.77 L280.10,264.77 L280.60,263.77 L281.10,262.79 L281.60,261.81 L282.10,260.85 L282.60,259.92 L283.10,259.03 L283.60,258.17 L284.10,257.37 L284.60,256.62 L285.10,255.93 L285.60,255.30 L286.10,254.76 L286.60,254.28 L287.10,253.89 L287.60,253.59 L288.10,253.37 L288.60,253.25 L289.10,253.22 L289.60,253.28 L290.10,253.43 L290.60,253.67 L291.10,254.01 L291.60,254.42 L292.10,254.92 L292.60,255.50 L293.10,256.15 L293.60,256.87 L294.10,257.65 L294.60,258.48 L295.10,259.36 L295.60,260.29 L296.10,261.24 L296.60,262.23 L297.10,263.23 L297.60,264.25 L298.10,265.27 L298.60,266.30 L299.10,267.31 L299.60,268.32 L300.10,269.31 L300.60,270.28 L301.10,271.22 L301.60,272.13 L302.10,273.01 L302.60,273.85 L303.10,274.66 L303.60,275.43 L304.10,276.16 L304.60,276.84 L305.10,277.49 L305.60,278.09 L306.10,278.65 L306.60,279.18 L307.10,279.66 L307.60,280.11 L308.10,280.52 L308.60,280.89 L309.10,281.24 L309.60,281.55 L310.10,281.83 L310.60,282.09 L311.10,282.32 L311.60,282.53 L312.10,282.71 L312.60,282.88 L313.10,283.03 L313.60,283.16 L314.10,283.28 L314.60,283.39 L315.10,283.48 L315.60,283.56 L316.10,283.64 L316.60,283.70 L317.10,283.76 L317.60,283.81 L318.10,283.86 L318.60,283.90 L319.10,283.94 L319.60,283.97 L320.10,284.00 L320.60,284.03 L321.10,284.06 L321.60,284.08 L322.10,284.10 L322.60,284.12 L323.10,284.14 L323.60,284.16 L324.10,284.18 L324.60,284.20 L325.10,284.21 L325.10,284.22 L324.60,284.21 L324.10,284.19 L323.60,284.18 L323.10,284.17 L322.60,284.15 L322.10,284.14 L321.60,284.12 L321.10,284.11 L320.60,284.10 L320.10,284.08 L319.60,284.07 L319.10,284.05 L318.60,284.04 L318.10,284.03 L317.60,284.01 L317.10,284.00 L316.60,283.98 L316.10,283.97 L315.60,283.96 L315.10,283.94 L314.60,283.93 L314.10,283.91 L313.60,283.90 L313.10,283.89 L312.60,283.87 L312.10,283.86 L311.60,283.85 L311.10,283.83 L310.60,283.82 L310.10,283.80 L309.60,283.79 L309.10,283.78 L308.60,283.76 L308.10,283.75 L307.60,283.73 L307.10,283.72 L306.60,283.71 L306.10,283.69 L305.60,283.68 L305.10,283.66 L304.60,283.65 L304.10,283.64 L303.60,283.62 L303.10,283.61 L302.60,283.59 L302.10,283.58 L301.60,283.57 L301.10,283.55 L300.60,283.54 L300.10,283.52 L299.60,283.51 L299.10,283.50 L298.60,283.48 L298.10,283.47 L297.60,283.45 L297.10,283.44 L296.60,283.43 L296.10,283.41 L295.60,283.40 L295.10,283.38 L294.60,283.37 L294.10,283.36 L293.60,283.34 L293.10,283.33 L292.60,283.32 L292.10,283.30 L291.60,283.29 L291.10,283.27 L290.60,283.26 L290.10,283.25 L289.60,283.23 L289.10,283.22 L288.60,283.20 L288.10,283.19 L287.60,283.18 L287.10,283.16 L286.60,283.15 L286.10,283.13 L285.60,283.12 L285.10,283.11 L284.60,283.09 L284.10,283.08 L283.60,283.06 L283.10,283.05 L282.60,283.04 L282.10,283.02 L281.60,283.01 L281.10,282.99 L280.60,282.98 L280.10,282.97 L279.60,282.95 L279.10,282.94 L278.60,282.92 L278.10,282.91 L277.60,282.90 L277.10,282.88 L276.60,282.87 L276.10,282.86 L275.60,282.84 L275.10,282.83 L274.60,282.81 L274.10,282.80 L273.60,282.79 L273.10,282.77 L272.60,282.76 L272.10,282.74 L271.60,282.73 L271.10,282.72 L270.60,282.70 L270.10,282.69 L269.60,282.67 L269.10,282.66 L268.60,282.65 L268.10,282.63 L267.60,282.62 L267.10,282.60 L266.60,282.59 L266.10,282.58 L265.60,282.56 L265.10,282.55 L264.60,282.53 L264.10,282.52 L263.60,282.51 L263.10,282.49 L262.60,282.48 L262.10,282.46 L261.60,282.45 L261.10,282.44 L260.60,282.42 L260.10,282.41 L259.60,282.40 L259.10,282.38 L258.60,282.37 L258.10,282.35 L257.60,282.34 L257.10,282.33 L256.60,282.31 L256.10,282.30 L255.60,282.28 L255.10,282.27 L254.60,282.26 L254.10,282.24 L253.60,282.23 L253.10,282.21Z" fill="#95c3df" fill-opacity="0.95"/>
<path d="M287.60,283.17 L288.10,283.18 L288.60,283.20 L289.10,283.21 L289.60,283.22 L290.10,283.23 L290.60,283.23 L291.10,283.24 L291.60,283.24 L292.10,283.24 L292.60,283.23 L293.10,283.22 L293.60,283.20 L294.10,283.17 L294.60,283.13 L295.10,283.08 L295.60,283.01 L296.10,282.92 L296.60,282.81 L297.10,282.69 L297.60,282.53 L298.10,282.34 L298.60,282.13 L299.10,281.88 L299.60,281.60 L300.10,281.27 L300.60,280.92 L301.10,280.52 L301.60,280.09 L302.10,279.63 L302.60,279.15 L303.10,278.63 L303.60,278.11 L304.10,277.57 L304.60,277.03 L305.10,276.51 L305.60,276.00 L306.10,275.52 L306.60,275.09 L307.10,274.70 L307.60,274.37 L308.10,274.11 L308.60,273.93 L309.10,273.82 L309.60,273.79 L310.10,273.84 L310.60,273.98 L311.10,274.20 L311.60,274.48 L312.10,274.84 L312.60,275.26 L313.10,275.72 L313.60,276.22 L314.10,276.76 L314.60,277.31 L315.10,277.88 L315.60,278.44 L316.10,279.00 L316.60,279.54 L317.10,280.05 L317.60,280.54 L318.10,281.00 L318.60,281.42 L319.10,281.80 L319.60,282.15 L320.10,282.47 L320.60,282.74 L321.10,282.99 L321.60,283.20 L322.10,283.38 L322.60,283.54 L323.10,283.67 L323.60,283.79 L324.10,283.88 L324.60,283.97 L325.10,284.03 L325.60,284.09 L326.10,284.14 L326.60,284.18 L327.10,284.21 L327.60,284.24 L328.10,284.27 L328.60,284.29 L329.10,284.31 L329.60,284.33 L330.10,284.35 L330.60,284.37 L331.10,284.38 L331.10,284.39 L330.60,284.37 L330.10,284.36 L329.60,284.35 L329.10,284.33 L328.60,284.32 L328.10,284.31 L327.60,284.29 L327.10,284.28 L326.60,284.26 L326.10,284.25 L325.60,284.24 L325.10,284.22 L324.60,284.21 L324.10,284.19 L323.60,284.18 L323.10,284.17 L322.60,284.15 L322.10,284.14 L321.60,284.12 L321.10,284.11 L320.60,284.10 L320.10,284.08 L319.60,284.07 L319.10,284.05 L318.60,284.04 L318.10,284.03 L317.60,284.01 L317.10,284.00 L316.60,283.98 L316.10,283.97 L315.60,283.96 L315.10,283.94 L314.60,283.93 L314.10,283.91 L313.60,283.90 L313.10,283.89 L312.60,283.87 L312.10,283.86 L311.60,283.85 L311.10,283.83 L310.60,283.82 L310.10,283.80 L309.60,283.79 L309.10,283.78 L308.60,283.76 L308.10,283.75 L307.60,283.73 L307.10,283.72 L306.60,283.71 L306.10,283.69 L305.60,283.68 L305.10,283.66 L304.60,283.65 L304.10,283.64 L303.60,283.62 L303.10,283.61 L302.60,283.59 L302.10,283.58 L301.60,283.57 L301.10,283.55 L300.60,283.54 L300.10,283.52 L299.60,283.51 L299.10,283.50 L298.60,283.48 L298.10,283.47 L297.60,283.45 L297.10,283.44 L296.60,283.43 L296.10,283.41 L295.60,283.40 L295.10,283.38 L294.60,283.37 L294.10,283.36 L293.60,283.34 L293.10,283.33 L292.60,283.32 L292.10,283.30 L291.60,283.29 L291.10,283.27 L290.60,283.26 L290.10,283.25 L289.60,283.23 L289.10,283.22 L288.60,283.20 L288.10,283.19 L287.60,283.18Z" fill="#5f97c2" fill-opacity="0.95"/>
<path d="M210.80,281.03 L211.30,281.05 L211.80,281.06 L212.30,281.07 L212.80,281.09 L213.30,281.10 L213.80,281.11 L214.30,281.12 L214.80,281.14 L215.30,281.15 L215.80,281.16 L216.30,281.17 L216.80,281.18 L217.30,281.20 L217.80,281.21 L218.30,281.22 L218.80,281.23 L219.30,281.24 L219.80,281.24 L220.30,281.25 L220.80,281.26 L221.30,281.26 L221.80,281.27 L222.30,281.27 L222.80,281.27 L223.30,281.28 L223.80,281.27 L224.30,281.27 L224.80,281.27 L225.30,281.26 L225.80,281.25 L226.30,281.24 L226.80,281.23 L227.30,281.21 L227.80,281.19 L228.30,281.17 L228.80,281.14 L229.30,281.11 L229.80,281.07 L230.30,281.03 L230.80,280.99 L231.30,280.94 L231.80,280.89 L232.30,280.83 L232.80,280.77 L233.30,280.70 L233.80,280.62 L234.30,280.54 L234.80,280.46 L235.30,280.37 L235.80,280.27 L236.30,280.17 L236.80,280.06 L237.30,279.94 L237.80,279.82 L238.30,279.69 L238.80,279.56 L239.30,279.42 L239.80,279.28 L240.30,279.13 L240.80,278.98 L241.30,278.82 L241.80,278.67 L242.30,278.50 L242.80,278.34 L243.30,278.18 L243.80,278.01 L244.30,277.85 L244.80,277.68 L245.30,277.52 L245.80,277.36 L246.30,277.20 L246.80,277.05 L247.30,276.90 L247.80,276.76 L248.30,276.62 L248.80,276.49 L249.30,276.37 L249.80,276.26 L250.30,276.16 L250.80,276.07 L251.30,275.98 L251.80,275.91 L252.30,275.86 L252.80,275.81 L253.30,275.78 L253.80,275.76 L254.30,275.75 L254.80,275.76 L255.30,275.78 L255.80,275.82 L256.30,275.86 L256.80,275.92 L257.30,276.00 L257.80,276.08 L258.30,276.18 L258.80,276.29 L259.30,276.41 L259.80,276.54 L260.30,276.68 L260.80,276.83 L261.30,276.98 L261.80,277.15 L262.30,277.32 L262.80,277.49 L263.30,277.68 L263.80,277.86 L264.30,278.05 L264.80,278.24 L265.30,278.43 L265.80,278.63 L266.30,278.82 L266.80,279.01 L267.30,279.20 L267.80,279.39 L268.30,279.58 L268.80,279.76 L269.30,279.94 L269.80,280.11 L270.30,280.28 L270.80,280.45 L271.30,280.61 L271.80,280.77 L272.30,280.92 L272.80,281.06 L273.30,281.20 L273.80,281.33 L274.30,281.45 L274.80,281.57 L275.30,281.69 L275.80,281.80 L276.30,281.90 L276.80,281.99 L277.30,282.09 L277.80,282.17 L278.30,282.25 L278.80,282.33 L279.30,282.40 L279.80,282.47 L280.30,282.53 L280.80,282.59 L281.30,282.64 L281.80,282.69 L282.30,282.74 L282.80,282.79 L283.30,282.83 L283.80,282.87 L284.30,282.91 L284.80,282.94 L285.30,282.97 L285.80,283.00 L286.30,283.03 L286.80,283.06 L287.30,283.08 L287.80,283.11 L288.30,283.13 L288.80,283.15 L289.30,283.18 L289.80,283.20 L290.30,283.22 L290.80,283.23 L291.30,283.25 L291.80,283.27 L292.30,283.29 L292.80,283.30 L293.30,283.32 L293.80,283.34 L294.30,283.35 L294.80,283.37 L295.30,283.38 L295.80,283.40 L296.30,283.41 L296.80,283.43 L297.30,283.44 L297.80,283.46 L298.30,283.47 L298.80,283.49 L298.80,283.49 L298.30,283.47 L297.80,283.46 L297.30,283.45 L296.80,283.43 L296.30,283.42 L295.80,283.40 L295.30,283.39 L294.80,283.38 L294.30,283.36 L293.80,283.35 L293.30,283.33 L292.80,283.32 L292.30,283.31 L291.80,283.29 L291.30,283.28 L290.80,283.27 L290.30,283.25 L289.80,283.24 L289.30,283.22 L288.80,283.21 L288.30,283.20 L287.80,283.18 L287.30,283.17 L286.80,283.15 L286.30,283.14 L285.80,283.13 L285.30,283.11 L284.80,283.10 L284.30,283.08 L283.80,283.07 L283.30,283.06 L282.80,283.04 L282.30,283.03 L281.80,283.01 L281.30,283.00 L280.80,282.99 L280.30,282.97 L279.80,282.96 L279.30,282.94 L278.80,282.93 L278.30,282.92 L277.80,282.90 L277.30,282.89 L276.80,282.87 L276.30,282.86 L275.80,282.85 L275.30,282.83 L274.80,282.82 L274.30,282.80 L273.80,282.79 L273.30,282.78 L272.80,282.76 L272.30,282.75 L271.80,282.74 L271.30,282.72 L270.80,282.71 L270.30,282.69 L269.80,282.68 L269.30,282.67 L268.80,282.65 L268.30,282.64 L267.80,282.62 L267.30,282.61 L266.80,282.60 L266.30,282.58 L265.80,282.57 L265.30,282.55 L264.80,282.54 L264.30,282.53 L263.80,282.51 L263.30,282.50 L262.80,282.48 L262.30,282.47 L261.80,282.46 L261.30,282.44 L260.80,282.43 L260.30,282.41 L259.80,282.40 L259.30,282.39 L258.80,282.37 L258.30,282.36 L257.80,282.34 L257.30,282.33 L256.80,282.32 L256.30,282.30 L255.80,282.29 L255.30,282.28 L254.80,282.26 L254.30,282.25 L253.80,282.23 L253.30,282.22 L252.80,282.21 L252.30,282.19 L251.80,282.18 L251.30,282.16 L250.80,282.15 L250.30,282.14 L249.80,282.12 L249.30,282.11 L248.80,282.09 L248.30,282.08 L247.80,282.07 L247.30,282.05 L246.80,282.04 L246.30,282.02 L245.80,282.01 L245.30,282.00 L244.80,281.98 L244.30,281.97 L243.80,281.95 L243.30,281.94 L242.80,281.93 L242.30,281.91 L241.80,281.90 L241.30,281.88 L240.80,281.87 L240.30,281.86 L239.80,281.84 L239.30,281.83 L238.80,281.82 L238.30,281.80 L237.80,281.79 L237.30,281.77 L236.80,281.76 L236.30,281.75 L235.80,281.73 L235.30,281.72 L234.80,281.70 L234.30,281.69 L233.80,281.68 L233.30,281.66 L232.80,281.65 L232.30,281.63 L231.80,281.62 L231.30,281.61 L230.80,281.59 L230.30,281.58 L229.80,281.56 L229.30,281.55 L228.80,281.54 L228.30,281.52 L227.80,281.51 L227.30,281.49 L226.80,281.48 L226.30,281.47 L225.80,281.45 L225.30,281.44 L224.80,281.42 L224.30,281.41 L223.80,281.40 L223.30,281.38 L222.80,281.37 L222.30,281.35 L221.80,281.34 L221.30,281.33 L220.80,281.31 L220.30,281.30 L219.80,281.29 L219.30,281.27 L218.80,281.26 L218.30,281.24 L217.80,281.23 L217.30,281.22 L216.80,281.20 L216.30,281.19 L215.80,281.17 L215.30,281.16 L214.80,281.15 L214.30,281.13 L213.80,281.12 L213.30,281.10 L212.80,281.09 L212.30,281.08 L211.80,281.06 L211.30,281.05 L210.80,281.03Z" fill="#d49a88" fill-opacity="0.7"/>
<line x1="202.4" y1="280.80" x2="331.5" y2="284.40" stroke="#555" stroke-width="0.6" opacity="0.8"/>
<path d="M202.40,280.80 L202.90,280.81 L203.40,280.83 L203.90,280.84 L204.40,280.86 L204.90,280.87 L205.40,280.88 L205.90,280.90 L206.40,280.91 L206.90,280.92 L207.40,280.94 L207.90,280.95 L208.40,280.97 L208.90,280.98 L209.40,280.99 L209.90,281.01 L210.40,281.02 L210.90,281.03 L211.40,281.05 L211.90,281.06 L212.40,281.07 L212.90,281.09 L213.40,281.10 L213.90,281.11 L214.40,281.13 L214.90,281.14 L215.40,281.15 L215.90,281.16 L216.40,281.18 L216.90,281.19 L217.40,281.20 L217.90,281.21 L218.40,281.22 L218.90,281.23 L219.40,281.24 L219.90,281.25 L220.40,281.25 L220.90,281.26 L221.40,281.27 L221.90,281.27 L222.40,281.27 L222.90,281.27 L223.40,281.28 L223.90,281.27 L224.40,281.27 L224.90,281.27 L225.40,281.26 L225.90,281.25 L226.40,281.24 L226.90,281.22 L227.40,281.20 L227.90,281.18 L228.40,281.16 L228.90,281.13 L229.40,281.10 L229.90,281.07 L230.40,281.03 L230.90,280.98 L231.40,280.93 L231.90,280.88 L232.40,280.82 L232.90,280.75 L233.40,280.68 L233.90,280.61 L234.40,280.53 L234.90,280.44 L235.40,280.35 L235.90,280.25 L236.40,280.14 L236.90,280.03 L237.40,279.92 L237.90,279.79 L238.40,279.66 L238.90,279.53 L239.40,279.39 L239.90,279.25 L240.40,279.10 L240.90,278.95 L241.40,278.79 L241.90,278.63 L242.40,278.47 L242.90,278.31 L243.40,278.14 L243.90,277.98 L244.40,277.81 L244.90,277.65 L245.40,277.49 L245.90,277.33 L246.40,277.17 L246.90,277.02 L247.40,276.87 L247.90,276.73 L248.40,276.59 L248.90,276.47 L249.40,276.35 L249.90,276.23 L250.40,276.13 L250.90,276.04 L251.40,275.96 L251.90,275.89 L252.40,275.82 L252.90,275.77 L253.40,275.73 L253.90,275.70 L254.40,275.68 L254.90,275.67 L255.40,275.66 L255.90,275.66 L256.40,275.66 L256.90,275.67 L257.40,275.67 L257.90,275.67 L258.40,275.67 L258.90,275.65 L259.40,275.63 L259.90,275.59 L260.40,275.53 L260.90,275.46 L261.40,275.36 L261.90,275.25 L262.40,275.11 L262.90,274.95 L263.40,274.77 L263.90,274.57 L264.40,274.36 L264.90,274.14 L265.40,273.90 L265.90,273.67 L266.40,273.43 L266.90,273.20 L267.40,272.98 L267.90,272.78 L268.40,272.58 L268.90,272.40 L269.40,272.24 L269.90,272.09 L270.40,271.95 L270.90,271.82 L271.40,271.69 L271.90,271.55 L272.40,271.40 L272.90,271.24 L273.40,271.04 L273.90,270.81 L274.40,270.54 L274.90,270.23 L275.40,269.86 L275.90,269.44 L276.40,268.96 L276.90,268.42 L277.40,267.83 L277.90,267.18 L278.40,266.48 L278.90,265.74 L279.40,264.95 L279.90,264.14 L280.40,263.29 L280.90,262.44 L281.40,261.57 L281.90,260.70 L282.40,259.84 L282.90,259.00 L283.40,258.19 L283.90,257.41 L284.40,256.68 L284.90,256.00 L285.40,255.38 L285.90,254.82 L286.40,254.34 L286.90,253.93 L287.40,253.61 L287.90,253.37 L288.40,253.22 L288.90,253.16 L289.40,253.18 L289.90,253.30 L290.40,253.51 L290.90,253.80 L291.40,254.18 L291.90,254.63 L292.40,255.17 L292.90,255.77 L293.40,256.43 L293.90,257.15 L294.40,257.91 L294.90,258.72 L295.40,259.55 L295.90,260.40 L296.40,261.26 L296.90,262.13 L297.40,262.98 L297.90,263.82 L298.40,264.63 L298.90,265.40 L299.40,266.13 L299.90,266.80 L300.40,267.42 L300.90,267.98 L301.40,268.48 L301.90,268.91 L302.40,269.28 L302.90,269.58 L303.40,269.83 L303.90,270.02 L304.40,270.18 L304.90,270.29 L305.40,270.38 L305.90,270.46 L306.40,270.53 L306.90,270.61 L307.40,270.70 L307.90,270.82 L308.40,270.98 L308.90,271.18 L309.40,271.43 L309.90,271.74 L310.40,272.09 L310.90,272.50 L311.40,272.97 L311.90,273.48 L312.40,274.03 L312.90,274.62 L313.40,275.23 L313.90,275.87 L314.40,276.51 L314.90,277.16 L315.40,277.80 L315.90,278.42 L316.40,279.02 L316.90,279.59 L317.40,280.13 L317.90,280.64 L318.40,281.10 L318.90,281.53 L319.40,281.91 L319.90,282.26 L320.40,282.57 L320.90,282.83 L321.40,283.07 L321.90,283.27 L322.40,283.45 L322.90,283.60 L323.40,283.72 L323.90,283.83 L324.40,283.92 L324.90,284.00 L325.40,284.06 L325.90,284.11 L326.40,284.16 L326.90,284.20 L327.40,284.23 L327.90,284.26 L328.40,284.28 L328.90,284.30 L329.40,284.32 L329.90,284.34 L330.40,284.36 L330.90,284.38 L331.40,284.39" fill="none" stroke="#2a2a2a" stroke-width="0.75"/>
<rect x="202.4" y="120.5" width="129.10" height="167.90" fill="none" stroke="#6e6e6e" stroke-width="0.9"/>
<line x1="202.4" y1="204" x2="331.5" y2="204" stroke="#6e6e6e" stroke-width="0.9"/>
<line x1="202.40" y1="288.4" x2="202.40" y2="290.4" stroke="#6e6e6e" stroke-width="0.8"/>
<text x="203.6" y="301.6" font-size="11.5" text-anchor="middle" fill="#111" >295</text>
<line x1="245.43" y1="288.4" x2="245.43" y2="290.4" stroke="#6e6e6e" stroke-width="0.8"/>
<text x="246.63" y="301.6" font-size="11.5" text-anchor="middle" fill="#111" >290</text>
<line x1="288.47" y1="288.4" x2="288.47" y2="290.4" stroke="#6e6e6e" stroke-width="0.8"/>
<text x="289.67" y="301.6" font-size="11.5" text-anchor="middle" fill="#111" >285</text>
<line x1="331.50" y1="288.4" x2="331.50" y2="290.4" stroke="#6e6e6e" stroke-width="0.8"/>
<text x="332.7" y="301.6" font-size="11.5" text-anchor="middle" fill="#111" >280</text>
<line x1="223.92" y1="288.4" x2="223.92" y2="289.7" stroke="#6e6e6e" stroke-width="0.8"/>
<line x1="266.95" y1="288.4" x2="266.95" y2="289.7" stroke="#6e6e6e" stroke-width="0.8"/>
<line x1="309.98" y1="288.4" x2="309.98" y2="289.7" stroke="#6e6e6e" stroke-width="0.8"/>
<text x="268.4" y="315.7" font-size="11.6" text-anchor="middle" fill="#111" >Binding Energy (eV)</text>
<text transform="translate(196.80,159.10) rotate(-90)" font-size="10.4" text-anchor="middle" fill="#111">Intensity (arb.units)</text>
<text transform="translate(196.80,247.40) rotate(-90)" font-size="10.4" text-anchor="middle" fill="#111">Intensity (arb.units)</text>
<text x="206.7" y="129.9" font-size="10.6" fill="#111">C 1<tspan font-weight="bold" font-style="italic">s</tspan></text>
<text x="211.8" y="147" font-size="10.6" fill="#111" >0 s</text>
<text x="206.3" y="218.7" font-size="10.6" fill="#111" >300 s</text>
<text x="215.6" y="187.5" font-size="10.4" fill="#111" >O-C=O</text>
<text x="253.4" y="168.2" font-size="10.4" fill="#111" >C-O</text>
<text x="296.4" y="166.6" font-size="10.4" fill="#111" >C-C</text>
<text x="220.5" y="275.9" font-size="10.4" fill="#111" >O-C=O</text>
<text x="258.5" y="270.6" font-size="10.4" fill="#111" >C-O</text>
<text x="293.4" y="258.1" font-size="10.4" fill="#111" >C-C</text>
<text x="305.2" y="271" font-size="10.4" fill="#111" >C-Li</text>
<path d="M379.00,186.04 L379.50,190.10 L380.00,180.51 L380.50,185.93 L381.00,193.33 L381.50,188.06 L382.00,181.34 L382.50,188.82 L383.00,181.11 L383.50,180.87 L384.00,186.94 L384.50,185.81 L385.00,186.80 L385.50,186.98 L386.00,187.39 L386.50,189.23 L387.00,183.29 L387.50,185.16 L388.00,184.06 L388.50,182.45 L389.00,182.82 L389.50,185.90 L390.00,185.23 L390.50,188.93 L391.00,184.61 L391.50,179.46 L392.00,180.38 L392.50,187.18 L393.00,188.93 L393.50,185.62 L394.00,186.30 L394.50,182.53 L395.00,181.38 L395.50,182.61 L396.00,174.50 L396.50,184.76 L397.00,178.26 L397.50,176.32 L398.00,176.40 L398.50,186.64 L399.00,185.24 L399.50,184.84 L400.00,185.00 L400.50,184.99 L401.00,186.12 L401.50,184.74 L402.00,185.58 L402.50,177.50 L403.00,178.88 L403.50,187.50 L404.00,183.48 L404.50,184.27 L405.00,177.74 L405.50,180.62 L406.00,178.92 L406.50,184.05 L407.00,176.65 L407.50,179.41 L408.00,183.95 L408.50,176.01 L409.00,173.16 L409.50,179.42 L410.00,177.65 L410.50,176.07 L411.00,173.44 L411.50,174.35 L412.00,177.47 L412.50,173.04 L413.00,169.02 L413.50,168.21 L414.00,167.46 L414.50,168.90 L415.00,159.76 L415.50,168.39 L416.00,165.29 L416.50,168.55 L417.00,174.06 L417.50,168.20 L418.00,166.98 L418.50,168.13 L419.00,172.11 L419.50,166.42 L420.00,173.38 L420.50,176.18 L421.00,171.56 L421.50,175.30 L422.00,177.47 L422.50,170.57 L423.00,176.07 L423.50,183.97 L424.00,178.93 L424.50,177.34 L425.00,180.35 L425.50,176.55 L426.00,180.34 L426.50,176.91 L427.00,178.44 L427.50,179.72 L428.00,179.65 L428.50,174.90 L429.00,181.56 L429.50,179.95 L430.00,177.66 L430.50,174.17 L431.00,174.86 L431.50,182.14 L432.00,171.48 L432.50,181.56 L433.00,178.47 L433.50,178.44 L434.00,180.56 L434.50,181.55 L435.00,174.79 L435.50,183.69 L436.00,181.18 L436.50,176.06 L437.00,171.23 L437.50,179.19 L438.00,176.65 L438.50,179.12 L439.00,176.38 L439.50,179.62 L440.00,174.43 L440.50,179.02 L441.00,170.44 L441.50,179.47 L442.00,175.62 L442.50,176.04 L443.00,181.43 L443.50,176.12 L444.00,175.33 L444.50,172.07 L445.00,164.90 L445.50,173.88 L446.00,175.61 L446.50,177.92 L447.00,170.73 L447.50,173.42 L448.00,172.52 L448.50,172.80 L449.00,171.46 L449.50,175.98 L450.00,172.85 L450.50,168.84 L451.00,167.84 L451.50,171.76 L452.00,179.38 L452.50,176.33 L453.00,177.94 L453.50,175.77 L454.00,176.31 L454.50,177.37 L455.00,179.07 L455.50,167.79 L456.00,170.10 L456.50,174.76 L457.00,174.18 L457.50,174.99 L458.00,172.94 L458.50,177.29 L459.00,164.92 L459.50,170.33 L460.00,165.55 L460.50,168.41 L461.00,174.90 L461.50,162.66 L462.00,175.25 L462.50,171.24 L463.00,163.87 L463.50,172.54 L464.00,173.15 L464.50,174.33 L465.00,169.51 L465.50,168.92 L466.00,174.46 L466.50,170.92 L467.00,178.77 L467.50,170.21 L468.00,164.34 L468.50,167.46 L469.00,166.21 L469.50,167.66 L470.00,168.82 L470.50,166.63 L471.00,164.23 L471.50,167.28 L472.00,162.73 L472.50,164.30 L473.00,164.00 L473.50,164.22 L474.00,164.65 L474.50,170.03 L475.00,164.09 L475.50,159.53 L476.00,159.30 L476.50,163.96 L477.00,158.25 L477.50,165.71 L478.00,155.50 L478.50,161.63 L479.00,164.00 L479.50,161.09 L480.00,163.28 L480.50,160.50 L481.00,156.31 L481.50,158.02 L482.00,156.58 L482.50,156.37 L483.00,156.11 L483.50,150.38 L484.00,147.30 L484.50,150.65 L485.00,142.92 L485.50,145.37 L486.00,148.35 L486.50,141.69 L487.00,140.74 L487.50,138.91 L488.00,134.37 L488.50,134.62 L489.00,134.40 L489.50,129.11 L490.00,136.51 L490.50,134.57 L491.00,140.37 L491.50,136.80 L492.00,135.25 L492.50,131.05 L493.00,131.63 L493.50,138.06 L494.00,133.66 L494.50,136.87 L495.00,141.06 L495.50,142.55 L496.00,147.06 L496.50,146.70 L497.00,140.58 L497.50,137.09 L498.00,146.00 L498.50,139.99 L499.00,144.28 L499.50,143.98 L500.00,146.97 L500.50,145.82 L501.00,144.07 L501.50,136.19 L502.00,139.57 L502.50,144.38 L503.00,142.69 L503.50,142.14 L504.00,142.59 L504.50,136.68 L505.00,144.08 L505.50,142.33 L506.00,139.89 L506.50,138.34 L507.00,138.64 L507.50,140.00" fill="none" stroke="#a2a2a2" stroke-width="0.55"/>
<path d="M399.20,185.59 L399.70,185.50 L400.20,185.41 L400.70,185.31 L401.20,185.22 L401.70,185.11 L402.20,185.01 L402.70,184.89 L403.20,184.76 L403.70,184.61 L404.20,184.44 L404.70,184.24 L405.20,184.02 L405.70,183.75 L406.20,183.43 L406.70,183.05 L407.20,182.60 L407.70,182.08 L408.20,181.49 L408.70,180.80 L409.20,180.03 L409.70,179.17 L410.20,178.23 L410.70,177.23 L411.20,176.17 L411.70,175.08 L412.20,173.99 L412.70,172.92 L413.20,171.90 L413.70,170.97 L414.20,170.16 L414.70,169.49 L415.20,169.00 L415.70,168.68 L416.20,168.56 L416.70,168.63 L417.20,168.89 L417.70,169.33 L418.20,169.91 L418.70,170.62 L419.20,171.42 L419.70,172.28 L420.20,173.17 L420.70,174.06 L421.20,174.93 L421.70,175.75 L422.20,176.50 L422.70,177.18 L423.20,177.77 L423.70,178.28 L424.20,178.70 L424.70,179.04 L425.20,179.31 L425.70,179.51 L426.20,179.65 L426.70,179.74 L427.20,179.79 L427.70,179.81 L428.20,179.80 L428.70,179.78 L429.20,179.74 L429.70,179.69 L430.20,179.63 L430.70,179.57 L431.20,179.50 L431.70,179.43 L432.20,179.37 L432.70,179.31 L432.70,179.32 L432.20,179.38 L431.70,179.45 L431.20,179.52 L430.70,179.60 L430.20,179.68 L429.70,179.76 L429.20,179.84 L428.70,179.92 L428.20,180.00 L427.70,180.09 L427.20,180.19 L426.70,180.28 L426.20,180.37 L425.70,180.47 L425.20,180.56 L424.70,180.66 L424.20,180.75 L423.70,180.85 L423.20,180.95 L422.70,181.04 L422.20,181.14 L421.70,181.24 L421.20,181.34 L420.70,181.44 L420.20,181.54 L419.70,181.64 L419.20,181.74 L418.70,181.84 L418.20,181.94 L417.70,182.04 L417.20,182.14 L416.70,182.24 L416.20,182.35 L415.70,182.45 L415.20,182.55 L414.70,182.65 L414.20,182.75 L413.70,182.85 L413.20,182.95 L412.70,183.05 L412.20,183.15 L411.70,183.25 L411.20,183.35 L410.70,183.45 L410.20,183.55 L409.70,183.65 L409.20,183.75 L408.70,183.85 L408.20,183.95 L407.70,184.04 L407.20,184.14 L406.70,184.24 L406.20,184.33 L405.70,184.43 L405.20,184.52 L404.70,184.61 L404.20,184.71 L403.70,184.80 L403.20,184.89 L402.70,184.98 L402.20,185.07 L401.70,185.16 L401.20,185.24 L400.70,185.33 L400.20,185.42 L399.70,185.50 L399.20,185.59Z" fill="#9fce93" fill-opacity="1" stroke="#2f4f2f" stroke-width="0.5"/>
<path d="M472.50,166.31 L473.00,166.00 L473.50,165.70 L474.00,165.39 L474.50,165.07 L475.00,164.75 L475.50,164.43 L476.00,164.09 L476.50,163.74 L477.00,163.37 L477.50,162.97 L478.00,162.54 L478.50,162.07 L479.00,161.55 L479.50,160.97 L480.00,160.32 L480.50,159.59 L481.00,158.76 L481.50,157.83 L482.00,156.79 L482.50,155.65 L483.00,154.39 L483.50,153.03 L484.00,151.56 L484.50,150.02 L485.00,148.43 L485.50,146.80 L486.00,145.19 L486.50,143.61 L487.00,142.12 L487.50,140.74 L488.00,139.53 L488.50,138.51 L489.00,137.71 L489.50,137.14 L490.00,136.81 L490.50,136.73 L491.00,136.88 L491.50,137.25 L492.00,137.80 L492.50,138.51 L493.00,139.32 L493.50,140.21 L494.00,141.14 L494.50,142.07 L495.00,142.96 L495.50,143.80 L496.00,144.55 L496.50,145.21 L497.00,145.76 L497.50,146.20 L498.00,146.53 L498.50,146.75 L499.00,146.88 L499.50,146.92 L500.00,146.87 L500.50,146.76 L501.00,146.59 L501.50,146.36 L502.00,146.09 L502.50,145.78 L503.00,145.44 L503.50,145.08 L504.00,144.70 L504.50,144.29 L505.00,143.88 L505.50,143.45 L506.00,143.00 L506.50,142.56 L506.50,142.57 L506.00,143.02 L505.50,143.47 L505.00,143.91 L504.50,144.34 L504.00,144.77 L503.50,145.19 L503.00,145.60 L502.50,146.00 L502.00,146.39 L501.50,146.78 L501.00,147.17 L500.50,147.54 L500.00,147.91 L499.50,148.28 L499.00,148.64 L498.50,149.01 L498.00,149.37 L497.50,149.73 L497.00,150.09 L496.50,150.45 L496.00,150.81 L495.50,151.17 L495.00,151.53 L494.50,151.88 L494.00,152.24 L493.50,152.60 L493.00,152.95 L492.50,153.31 L492.00,153.66 L491.50,154.02 L491.00,154.37 L490.50,154.72 L490.00,155.07 L489.50,155.42 L489.00,155.77 L488.50,156.11 L488.00,156.46 L487.50,156.80 L487.00,157.14 L486.50,157.49 L486.00,157.83 L485.50,158.16 L485.00,158.50 L484.50,158.83 L484.00,159.17 L483.50,159.50 L483.00,159.83 L482.50,160.15 L482.00,160.47 L481.50,160.80 L481.00,161.12 L480.50,161.45 L480.00,161.76 L479.50,162.07 L479.00,162.37 L478.50,162.68 L478.00,162.99 L477.50,163.30 L477.00,163.60 L476.50,163.90 L476.00,164.20 L475.50,164.51 L475.00,164.81 L474.50,165.11 L474.00,165.41 L473.50,165.71 L473.00,166.01 L472.50,166.31Z" fill="#9fce93" fill-opacity="1" stroke="#2f4f2f" stroke-width="0.5"/>
<path d="M378.40,188.90 L380.26,188.61 L382.72,188.22 L385.64,187.77 L388.90,187.26 L392.36,186.71 L395.88,186.14 L399.34,185.57 L402.60,185.00 L405.73,184.42 L408.90,183.81 L412.10,183.17 L415.31,182.53 L418.54,181.87 L421.77,181.23 L424.99,180.60 L428.20,180.00 L431.41,179.48 L434.64,179.07 L437.88,178.69 L441.12,178.31 L444.34,177.88 L447.53,177.33 L450.69,176.62 L453.80,175.70 L456.87,174.55 L459.91,173.23 L462.91,171.75 L465.89,170.16 L468.84,168.48 L471.76,166.76 L474.65,165.02 L477.50,163.30 L480.40,161.51 L483.38,159.58 L486.37,157.58 L489.31,155.56 L492.12,153.58 L494.76,151.70 L497.14,149.99 L499.20,148.50 L500.94,147.21 L502.43,146.06 L503.69,145.03 L504.76,144.12 L505.65,143.33 L506.40,142.65 L507.04,142.08 L507.60,141.60" fill="none" stroke="#222" stroke-width="0.8"/>
<path d="M379.00,291.51 L379.50,275.18 L380.00,279.47 L380.50,268.98 L381.00,277.89 L381.50,283.08 L382.00,278.35 L382.50,278.87 L383.00,277.54 L383.50,272.76 L384.00,276.72 L384.50,289.95 L385.00,279.43 L385.50,275.99 L386.00,277.64 L386.50,278.00 L387.00,280.85 L387.50,275.88 L388.00,280.04 L388.50,273.66 L389.00,273.66 L389.50,277.88 L390.00,273.66 L390.50,281.01 L391.00,280.19 L391.50,278.98 L392.00,275.56 L392.50,277.88 L393.00,270.23 L393.50,280.79 L394.00,270.87 L394.50,270.48 L395.00,275.11 L395.50,274.31 L396.00,275.26 L396.50,265.63 L397.00,276.46 L397.50,274.29 L398.00,273.46 L398.50,279.52 L399.00,273.31 L399.50,272.49 L400.00,275.34 L400.50,275.84 L401.00,271.98 L401.50,273.90 L402.00,272.01 L402.50,274.35 L403.00,272.11 L403.50,273.44 L404.00,266.11 L404.50,268.48 L405.00,267.25 L405.50,271.42 L406.00,270.84 L406.50,268.50 L407.00,262.26 L407.50,265.25 L408.00,263.85 L408.50,265.21 L409.00,267.38 L409.50,257.02 L410.00,264.28 L410.50,259.72 L411.00,257.98 L411.50,257.44 L412.00,259.80 L412.50,251.69 L413.00,258.34 L413.50,258.35 L414.00,262.18 L414.50,256.60 L415.00,251.03 L415.50,260.97 L416.00,261.65 L416.50,268.61 L417.00,264.50 L417.50,265.55 L418.00,265.73 L418.50,266.48 L419.00,264.91 L419.50,270.29 L420.00,266.82 L420.50,271.57 L421.00,271.38 L421.50,266.92 L422.00,274.01 L422.50,267.15 L423.00,265.32 L423.50,269.95 L424.00,266.55 L424.50,256.90 L425.00,268.29 L425.50,272.56 L426.00,271.27 L426.50,265.06 L427.00,272.23 L427.50,269.11 L428.00,270.41 L428.50,274.40 L429.00,267.38 L429.50,269.26 L430.00,265.39 L430.50,262.70 L431.00,270.77 L431.50,286.15 L432.00,271.48 L432.50,269.69 L433.00,267.35 L433.50,258.04 L434.00,271.04 L434.50,282.38 L435.00,266.56 L435.50,265.44 L436.00,267.96 L436.50,267.94 L437.00,269.12 L437.50,267.11 L438.00,263.97 L438.50,271.69 L439.00,270.45 L439.50,268.14 L440.00,268.00 L440.50,272.78 L441.00,262.15 L441.50,273.10 L442.00,267.63 L442.50,266.70 L443.00,266.25 L443.50,259.83 L444.00,270.15 L444.50,264.94 L445.00,263.77 L445.50,268.02 L446.00,269.39 L446.50,260.91 L447.00,265.83 L447.50,268.77 L448.00,263.54 L448.50,266.65 L449.00,266.76 L449.50,264.10 L450.00,267.10 L450.50,260.07 L451.00,263.39 L451.50,270.15 L452.00,266.00 L452.50,274.70 L453.00,267.87 L453.50,264.83 L454.00,270.54 L454.50,250.70 L455.00,266.58 L455.50,265.57 L456.00,263.75 L456.50,266.43 L457.00,263.13 L457.50,257.28 L458.00,264.33 L458.50,260.75 L459.00,262.58 L459.50,260.61 L460.00,266.03 L460.50,267.46 L461.00,254.77 L461.50,267.79 L462.00,263.54 L462.50,252.88 L463.00,256.24 L463.50,262.45 L464.00,266.76 L464.50,261.92 L465.00,265.06 L465.50,260.34 L466.00,263.05 L466.50,258.29 L467.00,261.91 L467.50,259.93 L468.00,260.82 L468.50,262.89 L469.00,259.78 L469.50,263.79 L470.00,262.19 L470.50,259.51 L471.00,258.35 L471.50,260.73 L472.00,259.86 L472.50,258.81 L473.00,257.04 L473.50,256.41 L474.00,254.82 L474.50,257.64 L475.00,254.31 L475.50,258.84 L476.00,261.37 L476.50,246.54 L477.00,252.94 L477.50,250.87 L478.00,247.20 L478.50,253.85 L479.00,246.51 L479.50,249.67 L480.00,238.82 L480.50,241.53 L481.00,242.64 L481.50,245.99 L482.00,226.69 L482.50,238.77 L483.00,240.31 L483.50,228.23 L484.00,241.18 L484.50,225.20 L485.00,232.21 L485.50,226.43 L486.00,226.95 L486.50,223.21 L487.00,218.93 L487.50,226.23 L488.00,223.12 L488.50,225.38 L489.00,224.25 L489.50,224.73 L490.00,227.67 L490.50,227.12 L491.00,226.94 L491.50,226.18 L492.00,227.05 L492.50,228.41 L493.00,227.70 L493.50,234.92 L494.00,238.28 L494.50,235.86 L495.00,236.65 L495.50,231.81 L496.00,236.27 L496.50,238.43 L497.00,241.29 L497.50,242.73 L498.00,238.19 L498.50,238.12 L499.00,238.05 L499.50,238.90 L500.00,240.39 L500.50,238.18 L501.00,237.85 L501.50,232.78 L502.00,230.52 L502.50,238.16 L503.00,241.18 L503.50,230.56 L504.00,237.12 L504.50,235.05 L505.00,237.25 L505.50,234.82 L506.00,236.74 L506.50,238.17 L507.00,237.54 L507.50,235.88" fill="none" stroke="#a2a2a2" stroke-width="0.55"/>
<path d="M395.20,277.28 L395.70,277.23 L396.20,277.16 L396.70,277.10 L397.20,277.03 L397.70,276.96 L398.20,276.88 L398.70,276.79 L399.20,276.68 L399.70,276.55 L400.20,276.40 L400.70,276.22 L401.20,276.01 L401.70,275.76 L402.20,275.45 L402.70,275.08 L403.20,274.64 L403.70,274.13 L404.20,273.53 L404.70,272.85 L405.20,272.06 L405.70,271.17 L406.20,270.20 L406.70,269.15 L407.20,268.03 L407.70,266.87 L408.20,265.67 L408.70,264.49 L409.20,263.34 L409.70,262.26 L410.20,261.29 L410.70,260.45 L411.20,259.78 L411.70,259.29 L412.20,259.01 L412.70,258.94 L413.20,259.08 L413.70,259.41 L414.20,259.94 L414.70,260.62 L415.20,261.42 L415.70,262.33 L416.20,263.30 L416.70,264.31 L417.20,265.31 L417.70,266.29 L418.20,267.22 L418.70,268.07 L419.20,268.84 L419.70,269.52 L420.20,270.10 L420.70,270.59 L421.20,271.00 L421.70,271.32 L422.20,271.56 L422.70,271.73 L423.20,271.85 L423.70,271.92 L424.20,271.95 L424.70,271.95 L425.20,271.92 L425.70,271.87 L426.20,271.81 L426.70,271.73 L427.20,271.65 L427.70,271.56 L428.20,271.46 L428.70,271.37 L429.20,271.27 L429.20,271.27 L428.70,271.38 L428.20,271.48 L427.70,271.59 L427.20,271.69 L426.70,271.80 L426.20,271.90 L425.70,272.00 L425.20,272.11 L424.70,272.21 L424.20,272.31 L423.70,272.42 L423.20,272.52 L422.70,272.62 L422.20,272.73 L421.70,272.83 L421.20,272.93 L420.70,273.03 L420.20,273.13 L419.70,273.23 L419.20,273.34 L418.70,273.44 L418.20,273.54 L417.70,273.64 L417.20,273.73 L416.70,273.83 L416.20,273.93 L415.70,274.03 L415.20,274.13 L414.70,274.22 L414.20,274.32 L413.70,274.41 L413.20,274.51 L412.70,274.60 L412.20,274.69 L411.70,274.79 L411.20,274.88 L410.70,274.97 L410.20,275.06 L409.70,275.15 L409.20,275.24 L408.70,275.33 L408.20,275.42 L407.70,275.50 L407.20,275.59 L406.70,275.67 L406.20,275.76 L405.70,275.84 L405.20,275.92 L404.70,276.01 L404.20,276.08 L403.70,276.16 L403.20,276.24 L402.70,276.31 L402.20,276.39 L401.70,276.47 L401.20,276.54 L400.70,276.61 L400.20,276.68 L399.70,276.75 L399.20,276.82 L398.70,276.89 L398.20,276.95 L397.70,277.00 L397.20,277.06 L396.70,277.12 L396.20,277.18 L395.70,277.23 L395.20,277.28Z" fill="#9fce93" fill-opacity="1" stroke="#2f4f2f" stroke-width="0.5"/>
<path d="M470.70,261.24 L471.20,261.03 L471.70,260.75 L472.20,260.47 L472.70,260.12 L473.20,259.72 L473.70,259.20 L474.20,258.66 L474.70,258.10 L475.20,257.58 L475.70,257.03 L476.20,256.50 L476.70,255.93 L477.20,255.29 L477.70,254.59 L478.20,253.80 L478.70,252.91 L479.20,251.90 L479.70,250.76 L480.20,249.46 L480.70,248.02 L481.20,246.43 L481.70,244.70 L482.20,242.85 L482.70,240.88 L483.20,238.84 L483.70,236.77 L484.20,234.71 L484.70,232.70 L485.20,230.81 L485.70,229.09 L486.20,227.58 L486.70,226.33 L487.20,225.37 L487.70,224.74 L488.20,224.43 L488.70,224.46 L489.20,224.81 L489.70,225.44 L490.20,226.32 L490.70,227.41 L491.20,228.66 L491.70,230.01 L492.20,231.41 L492.70,232.81 L493.20,234.17 L493.70,235.44 L494.20,236.61 L494.70,237.65 L495.20,238.55 L495.70,239.30 L496.20,239.90 L496.70,240.36 L497.20,240.70 L497.70,240.92 L498.20,241.04 L498.70,241.07 L499.20,241.02 L499.70,240.92 L500.20,240.78 L500.70,240.60 L501.20,240.39 L501.70,240.17 L502.20,239.93 L502.70,239.69 L503.20,239.44 L503.70,239.19 L504.20,238.96 L504.70,238.72 L504.70,238.73 L504.20,238.97 L503.70,239.22 L503.20,239.49 L502.70,239.75 L502.20,240.03 L501.70,240.31 L501.20,240.60 L500.70,240.89 L500.20,241.19 L499.70,241.50 L499.20,241.80 L498.70,242.12 L498.20,242.44 L497.70,242.76 L497.20,243.08 L496.70,243.41 L496.20,243.73 L495.70,244.06 L495.20,244.39 L494.70,244.72 L494.20,245.05 L493.70,245.39 L493.20,245.72 L492.70,246.06 L492.20,246.39 L491.70,246.72 L491.20,247.06 L490.70,247.39 L490.20,247.73 L489.70,248.07 L489.20,248.40 L488.70,248.74 L488.20,249.07 L487.70,249.41 L487.20,249.75 L486.70,250.08 L486.20,250.42 L485.70,250.76 L485.20,251.09 L484.70,251.43 L484.20,251.77 L483.70,252.10 L483.20,252.44 L482.70,252.77 L482.20,253.11 L481.70,253.44 L481.20,253.77 L480.70,254.10 L480.20,254.43 L479.70,254.77 L479.20,255.09 L478.70,255.42 L478.20,255.74 L477.70,256.07 L477.20,256.41 L476.70,256.76 L476.20,257.11 L475.70,257.48 L475.20,257.90 L474.70,258.32 L474.20,258.82 L473.70,259.31 L473.20,259.79 L472.70,260.17 L472.20,260.50 L471.70,260.77 L471.20,261.04 L470.70,261.25Z" fill="#9fce93" fill-opacity="1" stroke="#2f4f2f" stroke-width="0.5"/>
<path d="M378.40,278.20 L379.91,278.12 L381.86,278.05 L384.17,277.97 L386.77,277.86 L389.60,277.72 L392.56,277.52 L395.58,277.25 L398.60,276.90 L401.61,276.48 L404.68,276.01 L407.85,275.48 L411.14,274.89 L414.59,274.25 L418.23,273.53 L422.09,272.75 L426.20,271.90 L430.84,270.93 L436.09,269.83 L441.71,268.64 L447.44,267.39 L453.05,266.14 L458.27,264.91 L462.87,263.75 L466.60,262.70 L469.30,261.81 L471.15,261.07 L472.37,260.41 L473.22,259.77 L473.92,259.10 L474.71,258.32 L475.82,257.37 L477.50,256.20 L479.79,254.71 L482.48,252.92 L485.43,250.94 L488.51,248.87 L491.56,246.81 L494.46,244.88 L497.05,243.18 L499.20,241.80 L500.94,240.74 L502.43,239.89 L503.69,239.22 L504.76,238.70 L505.65,238.29 L506.40,237.96 L507.04,237.67 L507.60,237.40" fill="none" stroke="#222" stroke-width="0.8"/>
<rect x="378.5" y="119.5" width="129.70" height="168.10" fill="none" stroke="#6e6e6e" stroke-width="0.9"/>
<line x1="378.5" y1="203.5" x2="508.2" y2="203.5" stroke="#6e6e6e" stroke-width="0.9"/>
<line x1="394.50" y1="287.6" x2="394.50" y2="289.6" stroke="#6e6e6e" stroke-width="0.8"/>
<text x="395.7" y="301.6" font-size="11.5" text-anchor="middle" fill="#111" >1050</text>
<line x1="427.20" y1="287.6" x2="427.20" y2="289.6" stroke="#6e6e6e" stroke-width="0.8"/>
<text x="428.4" y="301.6" font-size="11.5" text-anchor="middle" fill="#111" >1040</text>
<line x1="459.90" y1="287.6" x2="459.90" y2="289.6" stroke="#6e6e6e" stroke-width="0.8"/>
<text x="461.1" y="301.6" font-size="11.5" text-anchor="middle" fill="#111" >1030</text>
<line x1="492.60" y1="287.6" x2="492.60" y2="289.6" stroke="#6e6e6e" stroke-width="0.8"/>
<text x="493.8" y="301.6" font-size="11.5" text-anchor="middle" fill="#111" >1020</text>
<line x1="410.85" y1="287.6" x2="410.85" y2="288.90000000000003" stroke="#6e6e6e" stroke-width="0.8"/>
<line x1="443.55" y1="287.6" x2="443.55" y2="288.90000000000003" stroke="#6e6e6e" stroke-width="0.8"/>
<line x1="476.25" y1="287.6" x2="476.25" y2="288.90000000000003" stroke="#6e6e6e" stroke-width="0.8"/>
<text x="446.5" y="315.7" font-size="11.6" text-anchor="middle" fill="#111" >Binding Energy (eV)</text>
<text transform="translate(372.90,159.10) rotate(-90)" font-size="10.4" text-anchor="middle" fill="#111">Intensity (arb.units)</text>
<text transform="translate(372.90,247.40) rotate(-90)" font-size="10.4" text-anchor="middle" fill="#111">Intensity (arb.units)</text>
<text x="380.5" y="130.8" font-size="10.6" fill="#111">Zn 2<tspan font-style="italic">p</tspan></text>
<text x="388.4" y="143.6" font-size="10.6" fill="#111" >0 s</text>
<text x="382.9" y="218.7" font-size="10.6" fill="#111" >300 s</text>
<text x="412.8" y="154.4" font-size="10.4" fill="#111">2<tspan font-style="italic">p</tspan><tspan font-size="6.6" font-style="italic" dy="3.9">3/2</tspan></text>
<text x="466.6" y="135.1" font-size="10.4" fill="#111">2<tspan font-style="italic">p</tspan><tspan font-size="6.6" font-style="italic" dy="3.9">1/2</tspan></text>
<text x="412.8" y="247.3" font-size="10.4" fill="#111">2<tspan font-style="italic">p</tspan><tspan font-size="6.6" font-style="italic" dy="3.9">3/2</tspan></text>
<text x="480.4" y="217.7" font-size="10.4" fill="#111">2<tspan font-style="italic">p</tspan><tspan font-size="6.6" font-style="italic" dy="3.9">1/2</tspan></text>
<path d="M555.10,187.48 L555.90,186.57 L556.70,189.07 L557.50,189.68 L558.30,189.13 L559.10,189.03 L559.90,187.74 L560.70,187.66 L561.50,189.10 L562.30,187.48 L563.10,186.66 L563.90,187.40 L564.70,190.54 L565.50,190.02 L566.30,187.67 L567.10,187.62 L567.90,188.48 L568.70,187.59 L569.50,189.43 L570.30,188.17 L571.10,187.24 L571.90,189.37 L572.70,187.63 L573.50,188.32 L574.30,188.06 L575.10,187.73 L575.90,188.23 L576.70,187.23 L577.50,186.08 L578.30,185.63 L579.10,186.33 L579.90,186.62 L580.70,187.09 L581.50,186.94 L582.30,187.13 L583.10,186.46 L583.90,185.32 L584.70,185.04 L585.50,183.39 L586.30,184.73 L587.10,184.87 L587.90,184.43 L588.70,183.34 L589.50,182.76 L590.30,183.20 L591.10,181.79 L591.90,181.85 L592.70,181.09 L593.50,180.13 L594.30,180.46 L595.10,178.11 L595.90,177.63 L596.70,176.53 L597.50,175.82 L598.30,177.20 L599.10,176.62 L599.90,174.25 L600.70,173.89 L601.50,173.53 L602.30,172.24 L603.10,171.57 L603.90,168.25 L604.70,167.63 L605.50,167.34 L606.30,166.87 L607.10,164.23 L607.90,161.83 L608.70,160.66 L609.50,158.69 L610.30,156.74 L611.10,157.02 L611.90,153.22 L612.70,151.87 L613.50,151.84 L614.30,148.98 L615.10,146.22 L615.90,143.34 L616.70,142.23 L617.50,141.29 L618.30,138.40 L619.10,137.06 L619.90,134.27 L620.70,133.16 L621.50,131.37 L622.30,131.21 L623.10,131.68 L623.90,129.31 L624.70,130.96 L625.50,131.92 L626.30,132.06 L627.10,133.32 L627.90,135.45 L628.70,137.81 L629.50,137.97 L630.30,139.22 L631.10,139.18 L631.90,144.09 L632.70,144.32 L633.50,146.21 L634.30,147.31 L635.10,150.40 L635.90,151.64 L636.70,154.88 L637.50,157.43 L638.30,159.21 L639.10,161.58 L639.90,162.65 L640.70,166.73 L641.50,166.80 L642.30,167.62 L643.10,170.86 L643.90,172.02 L644.70,173.37 L645.50,175.43 L646.30,177.38 L647.10,177.31 L647.90,179.40 L648.70,181.87 L649.50,182.15 L650.30,182.26 L651.10,183.29 L651.90,183.76 L652.70,184.44 L653.50,185.69 L654.30,185.42 L655.10,183.76 L655.90,186.27 L656.70,185.80 L657.50,187.46 L658.30,186.56 L659.10,187.44 L659.90,189.44 L660.70,186.68 L661.50,186.73 L662.30,186.58 L663.10,185.77 L663.90,186.31 L664.70,188.39 L665.50,187.53 L666.30,186.46 L667.10,186.84 L667.90,188.76 L668.70,187.52 L669.50,187.91 L670.30,188.55 L671.10,189.48 L671.90,190.02 L672.70,189.21 L673.50,188.41 L674.30,188.45 L675.10,189.91 L675.90,189.58 L676.70,188.01 L677.50,188.71 L678.30,188.55 L679.10,188.34 L679.90,187.85 L680.70,187.10 L681.50,187.82 L682.30,186.91 L683.10,189.40" fill="none" stroke="#8c8c8c" stroke-width="0.55"/>
<path d="M575.70,188.28 L576.20,188.28 L576.70,188.27 L577.20,188.27 L577.70,188.26 L578.20,188.26 L578.70,188.25 L579.20,188.24 L579.70,188.23 L580.20,188.22 L580.70,188.21 L581.20,188.20 L581.70,188.18 L582.20,188.16 L582.70,188.14 L583.20,188.12 L583.70,188.09 L584.20,188.06 L584.70,188.03 L585.20,187.99 L585.70,187.95 L586.20,187.90 L586.70,187.85 L587.20,187.78 L587.70,187.72 L588.20,187.64 L588.70,187.56 L589.20,187.46 L589.70,187.36 L590.20,187.24 L590.70,187.11 L591.20,186.97 L591.70,186.81 L592.20,186.64 L592.70,186.45 L593.20,186.25 L593.70,186.02 L594.20,185.77 L594.70,185.51 L595.20,185.21 L595.70,184.90 L596.20,184.55 L596.70,184.18 L597.20,183.79 L597.70,183.36 L598.20,182.89 L598.70,182.40 L599.20,181.87 L599.70,181.31 L600.20,180.71 L600.70,180.07 L601.20,179.39 L601.70,178.67 L602.20,177.91 L602.70,177.12 L603.20,176.28 L603.70,175.40 L604.20,174.47 L604.70,173.51 L605.20,172.51 L605.70,171.46 L606.20,170.38 L606.70,169.26 L607.20,168.10 L607.70,166.91 L608.20,165.69 L608.70,164.44 L609.20,163.16 L609.70,161.85 L610.20,160.53 L610.70,159.19 L611.20,157.83 L611.70,156.46 L612.20,155.09 L612.70,153.72 L613.20,152.35 L613.70,150.99 L614.20,149.65 L614.70,148.32 L615.20,147.02 L615.70,145.74 L616.20,144.50 L616.70,143.30 L617.20,142.15 L617.70,141.04 L618.20,139.99 L618.70,139.00 L619.20,138.07 L619.70,137.21 L620.20,136.42 L620.70,135.71 L621.20,135.08 L621.70,134.53 L622.20,134.07 L622.70,133.70 L623.20,133.41 L623.70,133.22 L624.20,133.12 L624.70,133.11 L625.20,133.19 L625.70,133.37 L626.20,133.63 L626.70,133.99 L627.20,134.44 L627.70,134.97 L628.20,135.58 L628.70,136.28 L629.20,137.05 L629.70,137.89 L630.20,138.81 L630.70,139.79 L631.20,140.83 L631.70,141.92 L632.20,143.07 L632.70,144.26 L633.20,145.49 L633.70,146.76 L634.20,148.06 L634.70,149.38 L635.20,150.72 L635.70,152.08 L636.20,153.45 L636.70,154.82 L637.20,156.19 L637.70,157.56 L638.20,158.92 L638.70,160.26 L639.20,161.59 L639.70,162.90 L640.20,164.18 L640.70,165.44 L641.20,166.67 L641.70,167.87 L642.20,169.03 L642.70,170.16 L643.20,171.25 L643.70,172.30 L644.20,173.31 L644.70,174.28 L645.20,175.21 L645.70,176.10 L646.20,176.95 L646.70,177.76 L647.20,178.52 L647.70,179.25 L648.20,179.93 L648.70,180.58 L649.20,181.19 L649.70,181.76 L650.20,182.30 L650.70,182.80 L651.20,183.27 L651.70,183.70 L652.20,184.11 L652.70,184.48 L653.20,184.83 L653.70,185.15 L654.20,185.45 L654.70,185.72 L655.20,185.97 L655.70,186.20 L656.20,186.41 L656.70,186.60 L657.20,186.78 L657.70,186.94 L658.20,187.08 L658.70,187.21 L659.20,187.33 L659.70,187.44 L660.20,187.54 L660.70,187.62 L661.20,187.70 L661.70,187.77 L662.20,187.83 L662.70,187.89 L663.20,187.94 L663.70,187.98 L664.20,188.02 L664.70,188.06 L665.20,188.09 L665.70,188.12 L666.20,188.14 L666.70,188.16 L667.20,188.18 L667.70,188.20 L668.20,188.21 L668.70,188.22 L669.20,188.23 L669.70,188.24 L670.20,188.25 L670.70,188.26 L671.20,188.26 L671.70,188.27 L672.20,188.27 L672.70,188.28 L673.20,188.28 L673.20,188.30 L672.70,188.30 L672.20,188.30 L671.70,188.30 L671.20,188.30 L670.70,188.30 L670.20,188.30 L669.70,188.30 L669.20,188.30 L668.70,188.30 L668.20,188.30 L667.70,188.30 L667.20,188.30 L666.70,188.30 L666.20,188.30 L665.70,188.30 L665.20,188.30 L664.70,188.30 L664.20,188.30 L663.70,188.30 L663.20,188.30 L662.70,188.30 L662.20,188.30 L661.70,188.30 L661.20,188.30 L660.70,188.30 L660.20,188.30 L659.70,188.30 L659.20,188.30 L658.70,188.30 L658.20,188.30 L657.70,188.30 L657.20,188.30 L656.70,188.30 L656.20,188.30 L655.70,188.30 L655.20,188.30 L654.70,188.30 L654.20,188.30 L653.70,188.30 L653.20,188.30 L652.70,188.30 L652.20,188.30 L651.70,188.30 L651.20,188.30 L650.70,188.30 L650.20,188.30 L649.70,188.30 L649.20,188.30 L648.70,188.30 L648.20,188.30 L647.70,188.30 L647.20,188.30 L646.70,188.30 L646.20,188.30 L645.70,188.30 L645.20,188.30 L644.70,188.30 L644.20,188.30 L643.70,188.30 L643.20,188.30 L642.70,188.30 L642.20,188.30 L641.70,188.30 L641.20,188.30 L640.70,188.30 L640.20,188.30 L639.70,188.30 L639.20,188.30 L638.70,188.30 L638.20,188.30 L637.70,188.30 L637.20,188.30 L636.70,188.30 L636.20,188.30 L635.70,188.30 L635.20,188.30 L634.70,188.30 L634.20,188.30 L633.70,188.30 L633.20,188.30 L632.70,188.30 L632.20,188.30 L631.70,188.30 L631.20,188.30 L630.70,188.30 L630.20,188.30 L629.70,188.30 L629.20,188.30 L628.70,188.30 L628.20,188.30 L627.70,188.30 L627.20,188.30 L626.70,188.30 L626.20,188.30 L625.70,188.30 L625.20,188.30 L624.70,188.30 L624.20,188.30 L623.70,188.30 L623.20,188.30 L622.70,188.30 L622.20,188.30 L621.70,188.30 L621.20,188.30 L620.70,188.30 L620.20,188.30 L619.70,188.30 L619.20,188.30 L618.70,188.30 L618.20,188.30 L617.70,188.30 L617.20,188.30 L616.70,188.30 L616.20,188.30 L615.70,188.30 L615.20,188.30 L614.70,188.30 L614.20,188.30 L613.70,188.30 L613.20,188.30 L612.70,188.30 L612.20,188.30 L611.70,188.30 L611.20,188.30 L610.70,188.30 L610.20,188.30 L609.70,188.30 L609.20,188.30 L608.70,188.30 L608.20,188.30 L607.70,188.30 L607.20,188.30 L606.70,188.30 L606.20,188.30 L605.70,188.30 L605.20,188.30 L604.70,188.30 L604.20,188.30 L603.70,188.30 L603.20,188.30 L602.70,188.30 L602.20,188.30 L601.70,188.30 L601.20,188.30 L600.70,188.30 L600.20,188.30 L599.70,188.30 L599.20,188.30 L598.70,188.30 L598.20,188.30 L597.70,188.30 L597.20,188.30 L596.70,188.30 L596.20,188.30 L595.70,188.30 L595.20,188.30 L594.70,188.30 L594.20,188.30 L593.70,188.30 L593.20,188.30 L592.70,188.30 L592.20,188.30 L591.70,188.30 L591.20,188.30 L590.70,188.30 L590.20,188.30 L589.70,188.30 L589.20,188.30 L588.70,188.30 L588.20,188.30 L587.70,188.30 L587.20,188.30 L586.70,188.30 L586.20,188.30 L585.70,188.30 L585.20,188.30 L584.70,188.30 L584.20,188.30 L583.70,188.30 L583.20,188.30 L582.70,188.30 L582.20,188.30 L581.70,188.30 L581.20,188.30 L580.70,188.30 L580.20,188.30 L579.70,188.30 L579.20,188.30 L578.70,188.30 L578.20,188.30 L577.70,188.30 L577.20,188.30 L576.70,188.30 L576.20,188.30 L575.70,188.30Z" fill="#85aac2" fill-opacity="1" stroke="#2a2a2a" stroke-width="0.8"/>
<line x1="554.6" y1="188.3" x2="684.3" y2="188.3" stroke="#2a2a2a" stroke-width="0.8"/>
<path d="M555.10,271.77 L555.90,269.45 L556.70,272.77 L557.50,272.03 L558.30,268.29 L559.10,273.04 L559.90,271.56 L560.70,273.03 L561.50,268.56 L562.30,270.64 L563.10,270.27 L563.90,269.73 L564.70,269.41 L565.50,270.27 L566.30,266.66 L567.10,266.69 L567.90,266.19 L568.70,266.97 L569.50,266.62 L570.30,267.62 L571.10,267.24 L571.90,266.72 L572.70,265.62 L573.50,265.78 L574.30,267.49 L575.10,267.19 L575.90,266.32 L576.70,265.80 L577.50,268.31 L578.30,265.63 L579.10,267.38 L579.90,268.19 L580.70,266.52 L581.50,268.12 L582.30,265.78 L583.10,268.71 L583.90,267.81 L584.70,265.62 L585.50,268.66 L586.30,266.70 L587.10,269.56 L587.90,267.00 L588.70,267.61 L589.50,268.10 L590.30,267.15 L591.10,267.72 L591.90,266.42 L592.70,267.72 L593.50,266.51 L594.30,266.39 L595.10,262.10 L595.90,266.71 L596.70,264.72 L597.50,261.79 L598.30,263.62 L599.10,263.45 L599.90,263.54 L600.70,260.01 L601.50,262.65 L602.30,259.62 L603.10,262.09 L603.90,257.90 L604.70,258.05 L605.50,255.73 L606.30,253.77 L607.10,255.64 L607.90,254.35 L608.70,254.11 L609.50,252.14 L610.30,249.18 L611.10,246.65 L611.90,246.84 L612.70,245.69 L613.50,244.38 L614.30,245.07 L615.10,243.62 L615.90,241.75 L616.70,241.24 L617.50,239.77 L618.30,239.20 L619.10,238.91 L619.90,238.22 L620.70,235.17 L621.50,233.24 L622.30,236.24 L623.10,233.78 L623.90,234.38 L624.70,230.18 L625.50,231.34 L626.30,231.32 L627.10,229.00 L627.90,229.88 L628.70,231.24 L629.50,231.54 L630.30,232.12 L631.10,228.93 L631.90,228.31 L632.70,230.97 L633.50,231.77 L634.30,231.12 L635.10,229.59 L635.90,232.78 L636.70,233.35 L637.50,233.67 L638.30,233.01 L639.10,234.79 L639.90,236.24 L640.70,235.36 L641.50,234.61 L642.30,238.40 L643.10,239.60 L643.90,240.04 L644.70,242.25 L645.50,241.43 L646.30,243.20 L647.10,244.04 L647.90,246.32 L648.70,248.80 L649.50,247.54 L650.30,251.68 L651.10,252.14 L651.90,252.30 L652.70,253.14 L653.50,255.77 L654.30,254.30 L655.10,255.43 L655.90,255.21 L656.70,258.19 L657.50,260.27 L658.30,260.14 L659.10,260.88 L659.90,260.92 L660.70,262.21 L661.50,260.91 L662.30,264.87 L663.10,263.67 L663.90,263.43 L664.70,264.52 L665.50,265.01 L666.30,267.75 L667.10,268.54 L667.90,265.89 L668.70,269.31 L669.50,269.69 L670.30,268.18 L671.10,267.36 L671.90,268.66 L672.70,269.12 L673.50,270.68 L674.30,270.04 L675.10,268.11 L675.90,271.27 L676.70,269.18 L677.50,272.54 L678.30,269.96 L679.10,270.78 L679.90,270.71 L680.70,271.25 L681.50,273.75 L682.30,273.28 L683.10,273.05" fill="none" stroke="#8c8c8c" stroke-width="0.55"/>
<path d="M558.80,271.34 L559.30,271.34 L559.80,271.35 L560.30,271.35 L560.80,271.35 L561.30,271.36 L561.80,271.36 L562.30,271.36 L562.80,271.37 L563.30,271.37 L563.80,271.37 L564.30,271.37 L564.80,271.38 L565.30,271.38 L565.80,271.38 L566.30,271.38 L566.80,271.37 L567.30,271.37 L567.80,271.37 L568.30,271.37 L568.80,271.36 L569.30,271.36 L569.80,271.35 L570.30,271.35 L570.80,271.34 L571.30,271.33 L571.80,271.32 L572.30,271.30 L572.80,271.29 L573.30,271.27 L573.80,271.26 L574.30,271.24 L574.80,271.22 L575.30,271.19 L575.80,271.17 L576.30,271.14 L576.80,271.11 L577.30,271.07 L577.80,271.03 L578.30,270.99 L578.80,270.95 L579.30,270.90 L579.80,270.85 L580.30,270.79 L580.80,270.73 L581.30,270.67 L581.80,270.60 L582.30,270.52 L582.80,270.44 L583.30,270.36 L583.80,270.26 L584.30,270.17 L584.80,270.06 L585.30,269.95 L585.80,269.83 L586.30,269.70 L586.80,269.57 L587.30,269.43 L587.80,269.28 L588.30,269.12 L588.80,268.95 L589.30,268.77 L589.80,268.58 L590.30,268.38 L590.80,268.17 L591.30,267.95 L591.80,267.72 L592.30,267.48 L592.80,267.23 L593.30,266.96 L593.80,266.68 L594.30,266.39 L594.80,266.08 L595.30,265.77 L595.80,265.44 L596.30,265.09 L596.80,264.73 L597.30,264.36 L597.80,263.97 L598.30,263.57 L598.80,263.16 L599.30,262.73 L599.80,262.28 L600.30,261.82 L600.80,261.35 L601.30,260.86 L601.80,260.36 L602.30,259.84 L602.80,259.31 L603.30,258.76 L603.80,258.21 L604.30,257.64 L604.80,257.05 L605.30,256.45 L605.80,255.85 L606.30,255.23 L606.80,254.60 L607.30,253.95 L607.80,253.30 L608.30,252.64 L608.80,251.97 L609.30,251.30 L609.80,250.61 L610.30,249.92 L610.80,249.23 L611.30,248.53 L611.80,247.83 L612.30,247.13 L612.80,246.42 L613.30,245.72 L613.80,245.01 L614.30,244.31 L614.80,243.62 L615.30,242.92 L615.80,242.23 L616.30,241.55 L616.80,240.88 L617.30,240.22 L617.80,239.57 L618.30,238.93 L618.80,238.30 L619.30,237.69 L619.80,237.09 L620.30,236.51 L620.80,235.95 L621.30,235.41 L621.80,234.89 L622.30,234.39 L622.80,233.91 L623.30,233.46 L623.80,233.03 L624.30,232.62 L624.80,232.25 L625.30,231.90 L625.80,231.58 L626.30,231.28 L626.80,231.02 L627.30,230.79 L627.80,230.59 L628.30,230.41 L628.80,230.28 L629.30,230.17 L629.80,230.09 L630.30,230.05 L630.80,230.04 L631.30,230.06 L631.80,230.12 L632.30,230.20 L632.80,230.32 L633.30,230.48 L633.80,230.66 L634.30,230.87 L634.80,231.12 L635.30,231.39 L635.80,231.70 L636.30,232.03 L636.80,232.39 L637.30,232.78 L637.80,233.20 L638.30,233.64 L638.80,234.11 L639.30,234.60 L639.80,235.11 L640.30,235.64 L640.80,236.20 L641.30,236.77 L641.80,237.36 L642.30,237.97 L642.80,238.60 L643.30,239.24 L643.80,239.89 L644.30,240.55 L644.80,241.23 L645.30,241.91 L645.80,242.60 L646.30,243.30 L646.80,244.01 L647.30,244.72 L647.80,245.43 L648.30,246.15 L648.80,246.87 L649.30,247.58 L649.80,248.30 L650.30,249.01 L650.80,249.72 L651.30,250.43 L651.80,251.13 L652.30,251.83 L652.80,252.52 L653.30,253.20 L653.80,253.87 L654.30,254.53 L654.80,255.19 L655.30,255.83 L655.80,256.46 L656.30,257.08 L656.80,257.69 L657.30,258.29 L657.80,258.87 L658.30,259.44 L658.80,260.00 L659.30,260.54 L659.80,261.07 L660.30,261.59 L660.80,262.09 L661.30,262.57 L661.80,263.05 L662.30,263.50 L662.80,263.94 L663.30,264.37 L663.80,264.79 L664.30,265.19 L664.80,265.57 L665.30,265.94 L665.80,266.30 L666.30,266.64 L666.80,266.97 L667.30,267.29 L667.80,267.59 L668.30,267.88 L668.80,268.16 L669.30,268.43 L669.80,268.69 L670.30,268.93 L670.80,269.16 L671.30,269.38 L671.80,269.59 L672.30,269.79 L672.80,269.98 L673.30,270.17 L673.80,270.34 L674.30,270.50 L674.80,270.66 L675.30,270.80 L675.80,270.94 L676.30,271.07 L676.80,271.20 L677.30,271.31 L677.80,271.42 L678.30,271.53 L678.80,271.63 L679.30,271.72 L679.80,271.81 L680.30,271.89 L680.80,271.97 L681.30,272.04 L681.80,272.11 L682.30,272.17 L682.80,272.23 L683.30,272.29 L683.80,272.34 L684.30,272.39 L684.30,272.90 L683.80,272.89 L683.30,272.89 L682.80,272.88 L682.30,272.88 L681.80,272.87 L681.30,272.86 L680.80,272.86 L680.30,272.85 L679.80,272.84 L679.30,272.84 L678.80,272.83 L678.30,272.83 L677.80,272.82 L677.30,272.81 L676.80,272.81 L676.30,272.80 L675.80,272.80 L675.30,272.79 L674.80,272.78 L674.30,272.78 L673.80,272.77 L673.30,272.76 L672.80,272.76 L672.30,272.75 L671.80,272.75 L671.30,272.74 L670.80,272.73 L670.30,272.73 L669.80,272.72 L669.30,272.71 L668.80,272.71 L668.30,272.70 L667.80,272.70 L667.30,272.69 L666.80,272.68 L666.30,272.68 L665.80,272.67 L665.30,272.67 L664.80,272.66 L664.30,272.65 L663.80,272.65 L663.30,272.64 L662.80,272.63 L662.30,272.63 L661.80,272.62 L661.30,272.62 L660.80,272.61 L660.30,272.60 L659.80,272.60 L659.30,272.59 L658.80,272.59 L658.30,272.58 L657.80,272.57 L657.30,272.57 L656.80,272.56 L656.30,272.55 L655.80,272.55 L655.30,272.54 L654.80,272.54 L654.30,272.53 L653.80,272.52 L653.30,272.52 L652.80,272.51 L652.30,272.51 L651.80,272.50 L651.30,272.49 L650.80,272.49 L650.30,272.48 L649.80,272.47 L649.30,272.47 L648.80,272.46 L648.30,272.46 L647.80,272.45 L647.30,272.44 L646.80,272.44 L646.30,272.43 L645.80,272.43 L645.30,272.42 L644.80,272.41 L644.30,272.41 L643.80,272.40 L643.30,272.39 L642.80,272.39 L642.30,272.38 L641.80,272.38 L641.30,272.37 L640.80,272.36 L640.30,272.36 L639.80,272.35 L639.30,272.34 L638.80,272.34 L638.30,272.33 L637.80,272.33 L637.30,272.32 L636.80,272.31 L636.30,272.31 L635.80,272.30 L635.30,272.30 L634.80,272.29 L634.30,272.28 L633.80,272.28 L633.30,272.27 L632.80,272.26 L632.30,272.26 L631.80,272.25 L631.30,272.25 L630.80,272.24 L630.30,272.23 L629.80,272.23 L629.30,272.22 L628.80,272.22 L628.30,272.21 L627.80,272.20 L627.30,272.20 L626.80,272.19 L626.30,272.18 L625.80,272.18 L625.30,272.17 L624.80,272.17 L624.30,272.16 L623.80,272.15 L623.30,272.15 L622.80,272.14 L622.30,272.14 L621.80,272.13 L621.30,272.12 L620.80,272.12 L620.30,272.11 L619.80,272.10 L619.30,272.10 L618.80,272.09 L618.30,272.09 L617.80,272.08 L617.30,272.07 L616.80,272.07 L616.30,272.06 L615.80,272.05 L615.30,272.05 L614.80,272.04 L614.30,272.04 L613.80,272.03 L613.30,272.02 L612.80,272.02 L612.30,272.01 L611.80,272.01 L611.30,272.00 L610.80,271.99 L610.30,271.99 L609.80,271.98 L609.30,271.97 L608.80,271.97 L608.30,271.96 L607.80,271.96 L607.30,271.95 L606.80,271.94 L606.30,271.94 L605.80,271.93 L605.30,271.93 L604.80,271.92 L604.30,271.91 L603.80,271.91 L603.30,271.90 L602.80,271.89 L602.30,271.89 L601.80,271.88 L601.30,271.88 L600.80,271.87 L600.30,271.86 L599.80,271.86 L599.30,271.85 L598.80,271.85 L598.30,271.84 L597.80,271.83 L597.30,271.83 L596.80,271.82 L596.30,271.81 L595.80,271.81 L595.30,271.80 L594.80,271.80 L594.30,271.79 L593.80,271.78 L593.30,271.78 L592.80,271.77 L592.30,271.77 L591.80,271.76 L591.30,271.75 L590.80,271.75 L590.30,271.74 L589.80,271.73 L589.30,271.73 L588.80,271.72 L588.30,271.72 L587.80,271.71 L587.30,271.70 L586.80,271.70 L586.30,271.69 L585.80,271.68 L585.30,271.68 L584.80,271.67 L584.30,271.67 L583.80,271.66 L583.30,271.65 L582.80,271.65 L582.30,271.64 L581.80,271.64 L581.30,271.63 L580.80,271.62 L580.30,271.62 L579.80,271.61 L579.30,271.60 L578.80,271.60 L578.30,271.59 L577.80,271.59 L577.30,271.58 L576.80,271.57 L576.30,271.57 L575.80,271.56 L575.30,271.56 L574.80,271.55 L574.30,271.54 L573.80,271.54 L573.30,271.53 L572.80,271.52 L572.30,271.52 L571.80,271.51 L571.30,271.51 L570.80,271.50 L570.30,271.49 L569.80,271.49 L569.30,271.48 L568.80,271.48 L568.30,271.47 L567.80,271.46 L567.30,271.46 L566.80,271.45 L566.30,271.44 L565.80,271.44 L565.30,271.43 L564.80,271.43 L564.30,271.42 L563.80,271.41 L563.30,271.41 L562.80,271.40 L562.30,271.39 L561.80,271.39 L561.30,271.38 L560.80,271.38 L560.30,271.37 L559.80,271.36 L559.30,271.36 L558.80,271.35Z" fill="#85aac2" fill-opacity="1" stroke="#2a2a2a" stroke-width="0.8"/>
<line x1="554.6" y1="271.3" x2="684.3" y2="272.9" stroke="#2a2a2a" stroke-width="0.8"/>
<rect x="554.6" y="119.4" width="129.70" height="168.00" fill="none" stroke="#6e6e6e" stroke-width="0.9"/>
<line x1="554.6" y1="203.5" x2="684.3" y2="203.5" stroke="#6e6e6e" stroke-width="0.9"/>
<line x1="567.70" y1="287.4" x2="567.70" y2="289.4" stroke="#6e6e6e" stroke-width="0.8"/>
<text x="568.9" y="301.6" font-size="11.5" text-anchor="middle" fill="#111" >404</text>
<line x1="593.60" y1="287.4" x2="593.60" y2="289.4" stroke="#6e6e6e" stroke-width="0.8"/>
<text x="594.8" y="301.6" font-size="11.5" text-anchor="middle" fill="#111" >402</text>
<line x1="619.50" y1="287.4" x2="619.50" y2="289.4" stroke="#6e6e6e" stroke-width="0.8"/>
<text x="620.7" y="301.6" font-size="11.5" text-anchor="middle" fill="#111" >400</text>
<line x1="645.40" y1="287.4" x2="645.40" y2="289.4" stroke="#6e6e6e" stroke-width="0.8"/>
<text x="646.6" y="301.6" font-size="11.5" text-anchor="middle" fill="#111" >398</text>
<line x1="671.30" y1="287.4" x2="671.30" y2="289.4" stroke="#6e6e6e" stroke-width="0.8"/>
<text x="672.5" y="301.6" font-size="11.5" text-anchor="middle" fill="#111" >396</text>
<line x1="580.65" y1="287.4" x2="580.65" y2="288.7" stroke="#6e6e6e" stroke-width="0.8"/>
<line x1="606.55" y1="287.4" x2="606.55" y2="288.7" stroke="#6e6e6e" stroke-width="0.8"/>
<line x1="632.45" y1="287.4" x2="632.45" y2="288.7" stroke="#6e6e6e" stroke-width="0.8"/>
<line x1="658.35" y1="287.4" x2="658.35" y2="288.7" stroke="#6e6e6e" stroke-width="0.8"/>
<line x1="684.25" y1="287.4" x2="684.25" y2="288.7" stroke="#6e6e6e" stroke-width="0.8"/>
<text x="616.7" y="315.7" font-size="11.6" text-anchor="middle" fill="#111" >Binding Energy (eV)</text>
<text transform="translate(549.00,159.10) rotate(-90)" font-size="10.4" text-anchor="middle" fill="#111">Intensity (arb.units)</text>
<text transform="translate(549.00,247.40) rotate(-90)" font-size="10.4" text-anchor="middle" fill="#111">Intensity (arb.units)</text>
<text x="560.8" y="129.8" font-size="10.6" fill="#111">N 1<tspan font-weight="bold" font-style="italic">s</tspan></text>
<text x="565.8" y="144.2" font-size="10.6" fill="#111" >0 s</text>
<text x="559.9" y="218.7" font-size="10.6" fill="#111" >300 s</text>
<text x="639.5" y="147.5" font-size="10.5" fill="#111">Li<tspan font-size="6.6" dy="3.1">3</tspan><tspan dy="-3.1">N</tspan></text>
<text x="647.4" y="241.4" font-size="10.5" fill="#111">Li<tspan font-size="6.6" dy="3.1">3</tspan><tspan dy="-3.1">N</tspan></text>
<rect x="199.4" y="338" width="317.30" height="174.50" fill="none" stroke="#9a9a9a" stroke-width="1"/>
<line x1="197.6" y1="506.86" x2="199.4" y2="506.86" stroke="#9a9a9a" stroke-width="0.9"/>
<line x1="197.6" y1="501.77" x2="199.4" y2="501.77" stroke="#9a9a9a" stroke-width="0.9"/>
<line x1="197.6" y1="497.37" x2="199.4" y2="497.37" stroke="#9a9a9a" stroke-width="0.9"/>
<line x1="197.6" y1="493.48" x2="199.4" y2="493.48" stroke="#9a9a9a" stroke-width="0.9"/>
<line x1="196.20000000000002" y1="490.00" x2="199.4" y2="490.00" stroke="#9a9a9a" stroke-width="0.9"/>
<line x1="197.6" y1="467.12" x2="199.4" y2="467.12" stroke="#9a9a9a" stroke-width="0.9"/>
<line x1="197.6" y1="453.74" x2="199.4" y2="453.74" stroke="#9a9a9a" stroke-width="0.9"/>
<line x1="197.6" y1="444.24" x2="199.4" y2="444.24" stroke="#9a9a9a" stroke-width="0.9"/>
<line x1="197.6" y1="436.88" x2="199.4" y2="436.88" stroke="#9a9a9a" stroke-width="0.9"/>
<line x1="197.6" y1="430.86" x2="199.4" y2="430.86" stroke="#9a9a9a" stroke-width="0.9"/>
<line x1="197.6" y1="425.77" x2="199.4" y2="425.77" stroke="#9a9a9a" stroke-width="0.9"/>
<line x1="197.6" y1="421.37" x2="199.4" y2="421.37" stroke="#9a9a9a" stroke-width="0.9"/>
<line x1="197.6" y1="417.48" x2="199.4" y2="417.48" stroke="#9a9a9a" stroke-width="0.9"/>
<line x1="196.20000000000002" y1="414.00" x2="199.4" y2="414.00" stroke="#9a9a9a" stroke-width="0.9"/>
<line x1="197.6" y1="391.12" x2="199.4" y2="391.12" stroke="#9a9a9a" stroke-width="0.9"/>
<line x1="197.6" y1="377.74" x2="199.4" y2="377.74" stroke="#9a9a9a" stroke-width="0.9"/>
<line x1="197.6" y1="368.24" x2="199.4" y2="368.24" stroke="#9a9a9a" stroke-width="0.9"/>
<line x1="197.6" y1="360.88" x2="199.4" y2="360.88" stroke="#9a9a9a" stroke-width="0.9"/>
<line x1="197.6" y1="354.86" x2="199.4" y2="354.86" stroke="#9a9a9a" stroke-width="0.9"/>
<line x1="197.6" y1="349.77" x2="199.4" y2="349.77" stroke="#9a9a9a" stroke-width="0.9"/>
<line x1="197.6" y1="345.37" x2="199.4" y2="345.37" stroke="#9a9a9a" stroke-width="0.9"/>
<line x1="197.6" y1="341.48" x2="199.4" y2="341.48" stroke="#9a9a9a" stroke-width="0.9"/>
<line x1="196.20000000000002" y1="338.00" x2="199.4" y2="338.00" stroke="#9a9a9a" stroke-width="0.9"/>
<text x="195.6" y="342.1" font-size="11.5" text-anchor="end" fill="#111" letter-spacing="-0.3">10000</text>
<text x="195.6" y="418.1" font-size="11.5" text-anchor="end" fill="#111" letter-spacing="-0.3">1000</text>
<text x="195.6" y="494.1" font-size="11.5" text-anchor="end" fill="#111" letter-spacing="-0.3">100</text>
<line x1="199.40" y1="512.5" x2="199.40" y2="515.1" stroke="#9a9a9a" stroke-width="0.9"/>
<text x="199.8" y="525.3" font-size="11.3" text-anchor="middle" fill="#111" >0</text>
<line x1="239.06" y1="512.5" x2="239.06" y2="514.0" stroke="#9a9a9a" stroke-width="0.9"/>
<line x1="278.73" y1="512.5" x2="278.73" y2="515.1" stroke="#9a9a9a" stroke-width="0.9"/>
<text x="279.13" y="525.3" font-size="11.3" text-anchor="middle" fill="#111" >50</text>
<line x1="318.39" y1="512.5" x2="318.39" y2="514.0" stroke="#9a9a9a" stroke-width="0.9"/>
<line x1="358.05" y1="512.5" x2="358.05" y2="515.1" stroke="#9a9a9a" stroke-width="0.9"/>
<text x="358.45" y="525.3" font-size="11.3" text-anchor="middle" fill="#111" >100</text>
<line x1="397.71" y1="512.5" x2="397.71" y2="514.0" stroke="#9a9a9a" stroke-width="0.9"/>
<line x1="437.38" y1="512.5" x2="437.38" y2="515.1" stroke="#9a9a9a" stroke-width="0.9"/>
<text x="437.78" y="525.3" font-size="11.3" text-anchor="middle" fill="#111" >150</text>
<line x1="477.04" y1="512.5" x2="477.04" y2="514.0" stroke="#9a9a9a" stroke-width="0.9"/>
<line x1="516.70" y1="512.5" x2="516.70" y2="515.1" stroke="#9a9a9a" stroke-width="0.9"/>
<text x="517.1" y="525.3" font-size="11.3" text-anchor="middle" fill="#111" >200</text>
<text x="357.7" y="539.2" font-size="11.5" text-anchor="middle" fill="#111" >Time (s)</text>
<text transform="translate(169.2,413.3) rotate(-90)" font-size="12.6" text-anchor="middle" fill="#111">Intensity (arb.units)</text>
<g fill="#e6f3e0" stroke="#a9d99b" stroke-width="1.15"><circle cx="201.50" cy="383.52" r="1.75"/><circle cx="204.67" cy="384.82" r="1.75"/><circle cx="207.84" cy="386.08" r="1.75"/><circle cx="211.01" cy="387.03" r="1.75"/><circle cx="214.18" cy="388.18" r="1.75"/><circle cx="217.35" cy="389.28" r="1.75"/><circle cx="220.52" cy="390.71" r="1.75"/><circle cx="223.69" cy="392.03" r="1.75"/><circle cx="226.86" cy="393.79" r="1.75"/><circle cx="230.03" cy="395.70" r="1.75"/><circle cx="233.20" cy="397.13" r="1.75"/><circle cx="236.37" cy="399.76" r="1.75"/><circle cx="239.54" cy="402.32" r="1.75"/><circle cx="242.71" cy="404.48" r="1.75"/><circle cx="245.88" cy="406.75" r="1.75"/><circle cx="249.05" cy="409.13" r="1.75"/><circle cx="252.22" cy="410.40" r="1.75"/><circle cx="255.39" cy="412.56" r="1.75"/><circle cx="258.56" cy="413.97" r="1.75"/><circle cx="261.73" cy="415.97" r="1.75"/><circle cx="264.90" cy="417.52" r="1.75"/><circle cx="268.07" cy="418.50" r="1.75"/><circle cx="271.24" cy="419.28" r="1.75"/><circle cx="274.41" cy="420.47" r="1.75"/><circle cx="277.58" cy="421.16" r="1.75"/><circle cx="280.75" cy="421.92" r="1.75"/><circle cx="283.92" cy="422.41" r="1.75"/><circle cx="287.09" cy="423.09" r="1.75"/><circle cx="290.26" cy="423.71" r="1.75"/><circle cx="293.43" cy="423.91" r="1.75"/><circle cx="296.60" cy="424.21" r="1.75"/><circle cx="299.77" cy="424.93" r="1.75"/><circle cx="302.94" cy="424.75" r="1.75"/><circle cx="306.11" cy="425.41" r="1.75"/><circle cx="309.28" cy="425.52" r="1.75"/><circle cx="312.45" cy="426.08" r="1.75"/><circle cx="315.62" cy="425.93" r="1.75"/><circle cx="318.79" cy="426.81" r="1.75"/><circle cx="321.96" cy="426.64" r="1.75"/><circle cx="325.13" cy="426.68" r="1.75"/><circle cx="328.30" cy="427.07" r="1.75"/><circle cx="331.47" cy="427.39" r="1.75"/><circle cx="334.64" cy="427.34" r="1.75"/><circle cx="337.81" cy="427.84" r="1.75"/><circle cx="340.98" cy="428.05" r="1.75"/><circle cx="344.15" cy="428.46" r="1.75"/><circle cx="347.32" cy="428.44" r="1.75"/><circle cx="350.49" cy="428.62" r="1.75"/><circle cx="353.66" cy="428.82" r="1.75"/><circle cx="356.83" cy="429.38" r="1.75"/><circle cx="360.00" cy="429.68" r="1.75"/><circle cx="363.17" cy="429.50" r="1.75"/><circle cx="366.34" cy="429.35" r="1.75"/><circle cx="369.51" cy="429.76" r="1.75"/><circle cx="372.68" cy="429.46" r="1.75"/><circle cx="375.85" cy="429.30" r="1.75"/><circle cx="379.02" cy="429.21" r="1.75"/><circle cx="382.19" cy="429.63" r="1.75"/><circle cx="385.36" cy="429.64" r="1.75"/><circle cx="388.53" cy="429.53" r="1.75"/><circle cx="391.70" cy="429.47" r="1.75"/><circle cx="394.87" cy="429.64" r="1.75"/><circle cx="398.04" cy="429.58" r="1.75"/><circle cx="401.21" cy="430.31" r="1.75"/><circle cx="404.38" cy="430.12" r="1.75"/><circle cx="407.55" cy="430.56" r="1.75"/><circle cx="410.72" cy="430.91" r="1.75"/><circle cx="413.89" cy="431.09" r="1.75"/><circle cx="417.06" cy="430.98" r="1.75"/><circle cx="420.23" cy="430.96" r="1.75"/><circle cx="423.40" cy="431.22" r="1.75"/><circle cx="426.57" cy="430.99" r="1.75"/><circle cx="429.74" cy="431.55" r="1.75"/><circle cx="432.91" cy="431.27" r="1.75"/><circle cx="436.08" cy="431.67" r="1.75"/><circle cx="439.25" cy="431.31" r="1.75"/><circle cx="442.42" cy="431.45" r="1.75"/><circle cx="445.59" cy="431.42" r="1.75"/><circle cx="448.76" cy="431.60" r="1.75"/><circle cx="451.93" cy="431.51" r="1.75"/><circle cx="455.10" cy="431.48" r="1.75"/><circle cx="458.27" cy="432.10" r="1.75"/><circle cx="461.44" cy="431.94" r="1.75"/><circle cx="464.61" cy="432.09" r="1.75"/><circle cx="467.78" cy="432.31" r="1.75"/><circle cx="470.95" cy="432.62" r="1.75"/><circle cx="474.12" cy="432.74" r="1.75"/><circle cx="477.29" cy="433.03" r="1.75"/><circle cx="480.46" cy="433.16" r="1.75"/><circle cx="483.63" cy="433.05" r="1.75"/><circle cx="486.80" cy="433.54" r="1.75"/><circle cx="489.97" cy="433.57" r="1.75"/><circle cx="493.14" cy="433.10" r="1.75"/><circle cx="496.31" cy="433.72" r="1.75"/><circle cx="499.48" cy="433.86" r="1.75"/><circle cx="502.65" cy="433.85" r="1.75"/><circle cx="505.82" cy="433.48" r="1.75"/><circle cx="508.99" cy="434.04" r="1.75"/><circle cx="512.16" cy="433.97" r="1.75"/><circle cx="515.33" cy="433.62" r="1.75"/></g>
<g fill="#cfe3f3" stroke="#4a9bd5" stroke-width="1.15"><circle cx="201.3" cy="440.8" r="1.75"/><circle cx="204.90" cy="436.66" r="1.75"/><circle cx="208.07" cy="436.65" r="1.75"/><circle cx="211.24" cy="435.91" r="1.75"/><circle cx="214.41" cy="435.51" r="1.75"/><circle cx="217.58" cy="435.68" r="1.75"/><circle cx="220.75" cy="436.41" r="1.75"/><circle cx="223.92" cy="437.64" r="1.75"/><circle cx="227.09" cy="439.49" r="1.75"/><circle cx="230.26" cy="440.80" r="1.75"/><circle cx="233.43" cy="442.41" r="1.75"/><circle cx="236.60" cy="444.81" r="1.75"/><circle cx="239.77" cy="446.82" r="1.75"/><circle cx="242.94" cy="448.65" r="1.75"/><circle cx="246.11" cy="451.41" r="1.75"/><circle cx="249.28" cy="453.34" r="1.75"/><circle cx="252.45" cy="455.58" r="1.75"/><circle cx="255.62" cy="457.41" r="1.75"/><circle cx="258.79" cy="459.07" r="1.75"/><circle cx="261.96" cy="460.12" r="1.75"/><circle cx="265.13" cy="461.06" r="1.75"/><circle cx="268.30" cy="461.41" r="1.75"/><circle cx="271.47" cy="462.46" r="1.75"/><circle cx="274.64" cy="462.97" r="1.75"/><circle cx="277.81" cy="463.64" r="1.75"/><circle cx="280.98" cy="463.85" r="1.75"/><circle cx="284.15" cy="464.46" r="1.75"/><circle cx="287.32" cy="464.32" r="1.75"/><circle cx="290.49" cy="463.90" r="1.75"/><circle cx="293.66" cy="463.20" r="1.75"/><circle cx="296.83" cy="462.39" r="1.75"/><circle cx="300.00" cy="462.24" r="1.75"/><circle cx="303.17" cy="461.80" r="1.75"/><circle cx="306.34" cy="462.08" r="1.75"/><circle cx="309.51" cy="461.95" r="1.75"/><circle cx="312.68" cy="462.36" r="1.75"/><circle cx="315.85" cy="462.64" r="1.75"/><circle cx="319.02" cy="463.02" r="1.75"/><circle cx="322.19" cy="463.60" r="1.75"/><circle cx="325.36" cy="463.28" r="1.75"/><circle cx="328.53" cy="464.04" r="1.75"/><circle cx="331.70" cy="463.90" r="1.75"/><circle cx="334.87" cy="464.04" r="1.75"/><circle cx="338.04" cy="464.18" r="1.75"/><circle cx="341.21" cy="464.37" r="1.75"/><circle cx="344.38" cy="464.13" r="1.75"/><circle cx="347.55" cy="464.26" r="1.75"/><circle cx="350.72" cy="464.75" r="1.75"/><circle cx="353.89" cy="464.25" r="1.75"/><circle cx="357.06" cy="464.74" r="1.75"/><circle cx="360.23" cy="464.82" r="1.75"/><circle cx="363.40" cy="464.46" r="1.75"/><circle cx="366.57" cy="464.92" r="1.75"/><circle cx="369.74" cy="465.02" r="1.75"/><circle cx="372.91" cy="465.23" r="1.75"/><circle cx="376.08" cy="464.84" r="1.75"/><circle cx="379.25" cy="465.32" r="1.75"/><circle cx="382.42" cy="465.01" r="1.75"/><circle cx="385.59" cy="465.00" r="1.75"/><circle cx="388.76" cy="465.29" r="1.75"/><circle cx="391.93" cy="464.67" r="1.75"/><circle cx="395.10" cy="465.12" r="1.75"/><circle cx="398.27" cy="465.00" r="1.75"/><circle cx="401.44" cy="464.73" r="1.75"/><circle cx="404.61" cy="465.02" r="1.75"/><circle cx="407.78" cy="464.59" r="1.75"/><circle cx="410.95" cy="464.59" r="1.75"/><circle cx="414.12" cy="464.56" r="1.75"/><circle cx="417.29" cy="464.68" r="1.75"/><circle cx="420.46" cy="464.27" r="1.75"/><circle cx="423.63" cy="464.45" r="1.75"/><circle cx="426.80" cy="464.50" r="1.75"/><circle cx="429.97" cy="464.70" r="1.75"/><circle cx="433.14" cy="465.04" r="1.75"/><circle cx="436.31" cy="464.84" r="1.75"/><circle cx="439.48" cy="465.41" r="1.75"/><circle cx="442.65" cy="465.32" r="1.75"/><circle cx="445.82" cy="465.58" r="1.75"/><circle cx="448.99" cy="465.60" r="1.75"/><circle cx="452.16" cy="465.91" r="1.75"/><circle cx="455.33" cy="466.37" r="1.75"/><circle cx="458.50" cy="466.26" r="1.75"/><circle cx="461.67" cy="466.47" r="1.75"/><circle cx="464.84" cy="466.25" r="1.75"/><circle cx="468.01" cy="466.34" r="1.75"/><circle cx="471.18" cy="466.43" r="1.75"/><circle cx="474.35" cy="466.72" r="1.75"/><circle cx="477.52" cy="466.84" r="1.75"/><circle cx="480.69" cy="467.02" r="1.75"/><circle cx="483.86" cy="466.56" r="1.75"/><circle cx="487.03" cy="467.10" r="1.75"/><circle cx="490.20" cy="467.26" r="1.75"/><circle cx="493.37" cy="467.04" r="1.75"/><circle cx="496.54" cy="466.68" r="1.75"/><circle cx="499.71" cy="466.82" r="1.75"/><circle cx="502.88" cy="466.56" r="1.75"/><circle cx="506.05" cy="466.61" r="1.75"/><circle cx="509.22" cy="467.03" r="1.75"/><circle cx="512.39" cy="466.71" r="1.75"/><circle cx="515.56" cy="466.65" r="1.75"/></g>
<defs><radialGradient id="gb" cx="0.4" cy="0.35" r="0.7"><stop offset="0" stop-color="#bfe0f6"/><stop offset="0.5" stop-color="#4a9bd5"/><stop offset="1" stop-color="#2f7fbf"/></radialGradient><radialGradient id="gg" cx="0.4" cy="0.35" r="0.7"><stop offset="0" stop-color="#eef8ea"/><stop offset="0.5" stop-color="#aedb9f"/><stop offset="1" stop-color="#94c985"/></radialGradient></defs>
<ellipse cx="423.7" cy="351.2" rx="3.6" ry="2.7" fill="url(#gb)"/>
<ellipse cx="423.7" cy="370.7" rx="3.6" ry="2.7" fill="url(#gg)"/>
<text x="438.3" y="355.5" font-size="13" fill="#111">ZnO<tspan font-size="7.6" dx="0.9" dy="4.2">2</tspan><tspan font-size="8" dx="0.9" dy="-10.2">-</tspan></text>
<text x="438.6" y="375.3" font-size="13" fill="#111">LiC<tspan font-size="7.6" dx="0.8" dy="4.2">2</tspan><tspan dy="-4.2">N</tspan><tspan font-size="7.6" dx="0.5" dy="4.2">2</tspan><tspan font-size="8" dx="1.8" dy="-10.2">-</tspan></text>
<mask id="mk" maskUnits="userSpaceOnUse" x="540" y="300" width="145" height="242"><polygon points="571.7,337.9 621,335.3 664.8,339.1 660.5,401.8 607.9,420.2 576.4,394.8" fill="#fff"/><polygon points="574.1,329.6 617.5,327.1 656.1,330.7 652.3,390.3 606.0,407.8 578.3,383.6" fill="#000" filter="url(#blur4)"/></mask>
<polygon points="571.7,337.9 621,335.3 664.8,339.1 660.5,401.8 607.9,420.2 576.4,394.8" fill="#5fb43f"/>
<g opacity="0.25"><polygon points="571.7,337.9 621,335.3 664.8,339.1 660.5,401.8 607.9,420.2 576.4,394.8" fill="#000" filter="url(#speck)"/></g>
<g mask="url(#mk)" opacity="0.75"><polygon points="571.7,337.9 621,335.3 664.8,339.1 660.5,401.8 607.9,420.2 576.4,394.8" fill="#000" filter="url(#speck2)"/></g>
<polyline points="571.7,337.9 621,335.3 664.8,339.1 660.5,401.8 607.9,420.2 576.4,394.8 571.7,337.9" fill="none" stroke="#9a9a9a" stroke-width="0.5" opacity="0.8"/>
<polyline points="571.7,337.9 606.2,346.2 664.8,339.1" fill="none" stroke="#555" stroke-width="0.5" stroke-dasharray="1.5,1.5" opacity="0.7"/>
<line x1="606.2" y1="346.2" x2="607.9" y2="420.2" stroke="#444" stroke-width="0.55" stroke-dasharray="2,1.2" opacity="0.8"/>
<g stroke-width="0.6"><line x1="662.2" y1="412.3" x2="658.2" y2="410.8" stroke="#5a5"/><line x1="662.2" y1="412.3" x2="666.2" y2="410.8" stroke="#d55"/><line x1="662.2" y1="412.3" x2="661.7" y2="416.3" stroke="#55d"/></g>
<text x="562.8" y="424.6" font-size="11" fill="#111">LiC<tspan font-size="7.4" dx="0.3" dy="3.9">2</tspan><tspan dy="-3.9">N</tspan><tspan font-size="7.4" dx="0.2" dy="3.9">2</tspan><tspan font-size="7" dx="0.8" dy="-9">-</tspan></text>
<mask id="ml" maskUnits="userSpaceOnUse" x="540" y="300" width="145" height="242"><polygon points="571.5,433.3 620.4,430.9 664.7,435.2 660,497.9 608.4,517.3 577,492.4" fill="#fff"/><polygon points="574.0,425.0 617.0,422.7 656.0,426.8 651.8,486.4 606.4,504.8 578.8,481.2" fill="#000" filter="url(#blur4)"/></mask>
<polygon points="571.5,433.3 620.4,430.9 664.7,435.2 660,497.9 608.4,517.3 577,492.4" fill="#4cbbcc"/>
<g opacity="0.55"><polygon points="571.5,433.3 620.4,430.9 664.7,435.2 660,497.9 608.4,517.3 577,492.4" fill="#000" filter="url(#speck)"/></g>
<g mask="url(#ml)" opacity="0.8"><polygon points="571.5,433.3 620.4,430.9 664.7,435.2 660,497.9 608.4,517.3 577,492.4" fill="#000" filter="url(#speck2)"/></g>
<polyline points="571.5,433.3 620.4,430.9 664.7,435.2 660,497.9 608.4,517.3 577,492.4 571.5,433.3" fill="none" stroke="#9a9a9a" stroke-width="0.5" opacity="0.8"/>
<polyline points="571.5,433.3 606.7,442.1 664.7,435.2" fill="none" stroke="#555" stroke-width="0.5" stroke-dasharray="1.5,1.5" opacity="0.7"/>
<line x1="606.7" y1="442.1" x2="608.4" y2="517.3" stroke="#444" stroke-width="0.55" stroke-dasharray="2,1.2" opacity="0.8"/>
<g stroke-width="0.6"><line x1="661.9" y1="509" x2="657.9" y2="507.5" stroke="#5a5"/><line x1="661.9" y1="509" x2="665.9" y2="507.5" stroke="#d55"/><line x1="661.9" y1="509" x2="661.4" y2="513" stroke="#55d"/></g>
<text x="562.8" y="510.8" font-size="11" fill="#111">ZnO<tspan font-size="7.4" dx="0.3" dy="3.9">2</tspan><tspan font-size="7" dx="0.8" dy="-9">-</tspan></text>
<g clip-path="url(#cpa)">
<g filter="url(#texA)"><rect x="27" y="7" width="131" height="98" fill="#6c6c6c"/>
<ellipse cx="128" cy="38" rx="16" ry="10" fill="#8a8a8a" filter="url(#blur3)"/>
<ellipse cx="140" cy="25" rx="10" ry="8" fill="#858585" filter="url(#blur3)"/>
<ellipse cx="45" cy="30" rx="14" ry="10" fill="#7a7a7a" filter="url(#blur3)"/>
<ellipse cx="142" cy="72" rx="10" ry="8" fill="#7e7e7e" filter="url(#blur3)"/>
<ellipse cx="60" cy="88" rx="16" ry="10" fill="#6a6a6a" filter="url(#blur3)"/>
<ellipse cx="110" cy="60" rx="12" ry="10" fill="#6c6c6c" filter="url(#blur3)"/>
<ellipse cx="40" cy="60" rx="10" ry="12" fill="#707070" filter="url(#blur3)"/>
<ellipse cx="100" cy="95" rx="14" ry="8" fill="#6e6e6e" filter="url(#blur3)"/>
</g>
<g filter="url(#wig)"><path d="M88.00,6.00 L88.51,7.51 L89.26,9.69 L89.96,12.02 L90.30,14.00 L90.18,15.46 L89.76,16.69 L89.17,17.82 L88.50,19.00 L87.75,20.25 L86.88,21.50 L85.94,22.75 L85.00,24.00 L84.02,25.24 L82.98,26.47 L81.97,27.71 L81.10,29.00 L80.33,30.29 L79.62,31.59 L79.08,32.97 L78.80,34.50 L78.91,36.25 L79.32,38.16 L79.83,40.11 L80.20,42.00 L80.47,43.81 L80.71,45.59 L80.83,47.33 L80.70,49.00 L80.15,50.50 L79.30,51.88 L78.45,53.31 L77.90,55.00 L77.83,57.07 L78.04,59.40 L78.30,61.78 L78.40,64.00 L78.11,66.03 L77.61,67.96 L77.26,69.82 L77.40,71.60 L78.27,73.26 L79.64,74.81 L81.17,76.36 L82.50,78.00 L83.59,79.76 L84.61,81.58 L85.54,83.46 L86.40,85.40 L87.16,87.32 L87.83,89.24 L88.44,91.32 L89.00,93.70 L89.55,96.78 L90.06,100.37 L90.50,103.70 L90.80,106.00 L94.50,106.00 L94.21,103.70 L93.82,100.37 L93.29,96.78 L92.60,93.70 L91.64,91.32 L90.46,89.24 L89.28,87.32 L88.30,85.40 L87.63,83.46 L87.14,81.58 L86.71,79.76 L86.20,78.00 L85.56,76.36 L84.87,74.81 L84.19,73.26 L83.60,71.60 L83.09,69.82 L82.64,67.96 L82.26,66.03 L82.00,64.00 L81.84,61.78 L81.78,59.40 L81.83,57.07 L82.00,55.00 L82.40,53.31 L82.98,51.88 L83.55,50.50 L83.90,49.00 L83.94,47.33 L83.79,45.59 L83.57,43.81 L83.40,42.00 L83.25,40.11 L83.08,38.16 L82.97,36.25 L83.00,34.50 L83.17,32.97 L83.44,31.59 L83.84,30.29 L84.40,29.00 L85.17,27.71 L86.11,26.47 L87.15,25.24 L88.20,24.00 L89.34,22.75 L90.58,21.50 L91.72,20.25 L92.60,19.00 L93.14,17.82 L93.44,16.69 L93.57,15.46 L93.60,14.00 L93.47,12.02 L93.16,9.69 L92.83,7.51 L92.60,6.00Z" fill="#333" filter="url(#blur05)"/></g>
<path d="M85.8,17 L86.5,24 L86.8,31" stroke="#3a3a3a" stroke-width="1.6" fill="none" filter="url(#blur05)"/>
<path d="M93.60,6.00 L93.83,7.51 L94.16,9.69 L94.47,12.02 L94.60,14.00 L94.57,15.46 L94.44,16.69 L94.14,17.82 L93.60,19.00 L92.72,20.25 L91.58,21.50 L90.34,22.75 L89.20,24.00 L88.15,25.24 L87.11,26.47 L86.17,27.71 L85.40,29.00 L84.84,30.29 L84.44,31.59 L84.17,32.97 L84.00,34.50 L83.97,36.25 L84.08,38.16 L84.25,40.11 L84.40,42.00 L84.57,43.81 L84.79,45.59 L84.94,47.33 L84.90,49.00 L84.55,50.50 L83.98,51.88 L83.40,53.31 L83.00,55.00 L82.83,57.07 L82.78,59.40 L82.84,61.78 L83.00,64.00 L83.26,66.03 L83.64,67.96 L84.09,69.82 L84.60,71.60 L85.19,73.26 L85.87,74.81 L86.56,76.36 L87.20,78.00 L87.71,79.76 L88.14,81.58 L88.63,83.46 L89.30,85.40 L90.28,87.32 L91.46,89.24 L92.64,91.32 L93.60,93.70 L94.29,96.78 L94.82,100.37 L95.21,103.70 L95.50,106.00" stroke="#a0a0a0" stroke-width="0.8" fill="none" opacity="0.7"/>
<ellipse cx="148" cy="67" rx="2.5" ry="3.5" fill="#d8d8d8" filter="url(#blur05)"/>
<path d="M112,30 Q120,26 128,30 Q134,36 130,40" stroke="#c0c0c0" stroke-width="1" fill="none" opacity="0.7"/>
</g>
<text x="152.6" y="16.6" font-size="10.9" text-anchor="end" fill="#f4f4f4" stroke="#f4f4f4" stroke-width="0.3">Li Foil</text>
<text x="155.3" y="97.6" font-size="10.2" text-anchor="end" fill="#f4f4f4" stroke="#f4f4f4" stroke-width="0.3">20 μm</text>
<rect x="135.5" y="99.7" width="18.4" height="1.4" fill="#f4f4f4"/>
<g clip-path="url(#cpb)">
<g filter="url(#texB)"><rect x="201" y="6" width="130.5" height="98" fill="#505050"/>
<ellipse cx="300" cy="40" rx="25" ry="20" fill="#474747" filter="url(#blur4)"/></g>
<rect x="201" y="6" width="130.5" height="1.2" fill="#383838"/>
<g filter="url(#wig)">
<path d="M209.52,32.64 L208.80,32.96 L207.88,33.15 L206.90,33.22 L206.00,33.20 L205.17,33.10 L204.35,32.91 L203.60,32.63 L202.97,32.27 L202.47,31.80 L202.07,31.22 L201.80,30.61 L201.70,30.00 L201.76,29.38 L201.99,28.72 L202.35,28.11 L202.84,27.63 L203.49,27.28 L204.29,27.03 L205.16,26.88 L206.00,26.83 L206.82,26.88 L207.67,27.04 L208.46,27.30 L209.14,27.65 L209.70,28.12 L210.18,28.71 L210.53,29.36 L210.69,30.00 L210.65,30.69 L210.43,31.43 L210.05,32.12Z" fill="#5a5a5a" stroke="#dedede" stroke-width="1.0" stroke-opacity="0.9"/>
<path d="M214.33,35.33 L213.91,35.63 L213.31,35.80 L212.64,35.89 L212.00,35.92 L211.33,35.93 L210.62,35.88 L209.98,35.74 L209.54,35.46 L209.39,34.96 L209.44,34.31 L209.58,33.61 L209.72,33.00 L209.80,32.49 L209.90,32.02 L210.05,31.61 L210.28,31.28 L210.61,31.08 L211.02,30.97 L211.49,30.91 L212.00,30.83 L212.62,30.68 L213.34,30.50 L214.01,30.41 L214.47,30.53 L214.65,30.96 L214.64,31.60 L214.55,32.33 L214.48,33.00 L214.51,33.63 L214.55,34.28 L214.53,34.88Z" fill="#525252" stroke="#dedede" stroke-width="1.0" stroke-opacity="0.9"/>
<path d="M217.32,29.32 L216.81,29.58 L216.23,29.70 L215.62,29.74 L215.00,29.76 L214.35,29.81 L213.65,29.83 L213.00,29.77 L212.47,29.53 L212.06,29.05 L211.74,28.39 L211.53,27.66 L211.48,27.00 L211.63,26.38 L211.94,25.76 L212.35,25.21 L212.80,24.80 L213.30,24.55 L213.87,24.44 L214.45,24.41 L215.00,24.44 L215.49,24.51 L215.95,24.64 L216.41,24.85 L216.87,25.13 L217.42,25.50 L218.01,25.96 L218.51,26.47 L218.75,27.00 L218.64,27.59 L218.29,28.25 L217.82,28.86Z" fill="#525252" stroke="#dedede" stroke-width="1.0" stroke-opacity="0.9"/>
<path d="M208.52,43.52 L207.99,43.98 L207.37,44.38 L206.70,44.68 L206.00,44.83 L205.25,44.84 L204.43,44.73 L203.63,44.47 L202.93,44.07 L202.25,43.44 L201.57,42.62 L201.08,41.75 L200.96,41.00 L201.37,40.41 L202.19,39.90 L203.13,39.42 L203.93,38.93 L204.51,38.31 L205.02,37.62 L205.50,37.07 L206.00,36.84 L206.52,37.07 L207.04,37.64 L207.56,38.33 L208.05,38.95 L208.58,39.46 L209.14,39.95 L209.59,40.46 L209.81,41.00 L209.73,41.63 L209.43,42.31 L209.00,42.96Z" fill="#5a5a5a" stroke="#dedede" stroke-width="1.0" stroke-opacity="0.9"/>
<path d="M213.52,46.68 L213.08,46.89 L212.44,47.01 L211.70,47.07 L211.00,47.09 L210.29,47.10 L209.53,47.07 L208.84,46.97 L208.35,46.77 L208.08,46.41 L207.97,45.93 L207.99,45.42 L208.10,45.00 L208.33,44.69 L208.69,44.44 L209.10,44.22 L209.50,44.00 L209.85,43.74 L210.20,43.48 L210.57,43.26 L211.00,43.14 L211.56,43.12 L212.21,43.17 L212.81,43.31 L213.24,43.51 L213.41,43.80 L213.40,44.17 L213.34,44.59 L213.31,45.00 L213.42,45.44 L213.58,45.91 L213.65,46.34Z" fill="#525252" stroke="#dedede" stroke-width="1.0" stroke-opacity="0.9"/>
<path d="M223.64,40.73 L222.87,40.99 L221.90,41.07 L220.90,41.04 L220.00,40.96 L219.21,40.83 L218.46,40.62 L217.80,40.35 L217.32,40.01 L217.06,39.59 L216.97,39.09 L216.97,38.55 L216.96,38.00 L216.85,37.39 L216.73,36.73 L216.71,36.13 L216.93,35.69 L217.50,35.48 L218.32,35.41 L219.22,35.44 L220.00,35.52 L220.60,35.63 L221.14,35.80 L221.66,36.04 L222.24,36.32 L223.00,36.66 L223.87,37.04 L224.63,37.49 L225.05,38.00 L225.05,38.67 L224.75,39.46 L224.25,40.20Z" fill="#5a5a5a" stroke="#dedede" stroke-width="1.0" stroke-opacity="0.9"/>
<path d="M229.49,36.99 L229.18,37.34 L228.81,37.74 L228.40,38.07 L228.00,38.22 L227.61,38.10 L227.22,37.80 L226.81,37.43 L226.36,37.09 L225.75,36.82 L225.02,36.54 L224.41,36.27 L224.16,36.00 L224.42,35.74 L225.04,35.49 L225.78,35.22 L226.40,34.94 L226.85,34.55 L227.24,34.10 L227.61,33.72 L228.00,33.56 L228.44,33.71 L228.89,34.07 L229.32,34.52 L229.65,34.90 L229.88,35.20 L230.03,35.47 L230.11,35.74 L230.13,36.00 L230.07,36.25 L229.93,36.49 L229.74,36.73Z" fill="#525252" stroke="#dedede" stroke-width="1.0" stroke-opacity="0.9"/>
<path d="M243.80,43.40 L243.32,43.60 L242.60,43.63 L241.77,43.57 L241.00,43.54 L240.23,43.58 L239.42,43.64 L238.69,43.62 L238.18,43.42 L237.95,42.96 L237.93,42.30 L238.02,41.60 L238.16,41.00 L238.32,40.56 L238.56,40.20 L238.85,39.85 L239.19,39.45 L239.57,38.92 L239.99,38.31 L240.46,37.79 L241.00,37.51 L241.70,37.54 L242.53,37.79 L243.29,38.17 L243.79,38.61 L243.92,39.11 L243.79,39.72 L243.59,40.37 L243.49,41.00 L243.60,41.65 L243.80,42.34 L243.93,42.96Z" fill="#525252" stroke="#dedede" stroke-width="1.0" stroke-opacity="0.9"/>
<path d="M250.61,39.61 L250.26,39.70 L249.85,39.65 L249.41,39.56 L249.00,39.50 L248.59,39.53 L248.18,39.60 L247.80,39.62 L247.48,39.52 L247.20,39.25 L246.96,38.85 L246.80,38.41 L246.75,38.00 L246.84,37.64 L247.05,37.29 L247.33,36.94 L247.62,36.62 L247.93,36.26 L248.29,35.88 L248.66,35.59 L249.00,35.48 L249.31,35.64 L249.61,35.99 L249.91,36.42 L250.21,36.79 L250.56,37.09 L250.94,37.38 L251.26,37.67 L251.43,38.00 L251.38,38.41 L251.19,38.89 L250.92,39.32Z" fill="#525252" stroke="#dedede" stroke-width="1.0" stroke-opacity="0.9"/>
<path d="M252.60,29.60 L252.23,29.68 L251.80,29.63 L251.37,29.52 L251.00,29.41 L250.71,29.34 L250.47,29.26 L250.25,29.15 L250.00,29.00 L249.68,28.81 L249.31,28.58 L249.00,28.31 L248.82,28.00 L248.80,27.58 L248.89,27.08 L249.07,26.62 L249.32,26.32 L249.66,26.23 L250.11,26.29 L250.58,26.41 L251.00,26.50 L251.34,26.54 L251.65,26.56 L251.95,26.61 L252.25,26.75 L252.63,26.98 L253.04,27.29 L253.39,27.64 L253.56,28.00 L253.49,28.42 L253.26,28.89 L252.94,29.32Z" fill="#525252" stroke="#dedede" stroke-width="1.0" stroke-opacity="0.9"/>
<path d="M250.70,10.13 L250.28,10.50 L249.87,10.92 L249.45,11.27 L249.00,11.43 L248.46,11.35 L247.85,11.09 L247.29,10.74 L246.90,10.40 L246.72,10.08 L246.70,9.72 L246.75,9.35 L246.79,9.00 L246.79,8.66 L246.79,8.31 L246.86,7.99 L247.05,7.70 L247.41,7.43 L247.91,7.18 L248.47,6.99 L249.00,6.91 L249.52,6.97 L250.06,7.14 L250.58,7.38 L251.04,7.64 L251.51,7.94 L251.96,8.29 L252.30,8.66 L252.41,9.00 L252.20,9.29 L251.75,9.57 L251.20,9.84Z" fill="#525252" stroke="#dedede" stroke-width="1.0" stroke-opacity="0.9"/>
<path d="M256.39,18.11 L256.05,18.47 L255.71,18.87 L255.36,19.20 L255.00,19.36 L254.60,19.26 L254.17,18.99 L253.75,18.63 L253.38,18.30 L253.02,18.00 L252.68,17.68 L252.41,17.35 L252.28,17.00 L252.33,16.61 L252.50,16.18 L252.77,15.78 L253.09,15.48 L253.50,15.28 L254.00,15.16 L254.52,15.10 L255.00,15.10 L255.44,15.16 L255.87,15.28 L256.28,15.46 L256.65,15.68 L257.02,15.97 L257.39,16.31 L257.67,16.67 L257.77,17.00 L257.60,17.29 L257.24,17.56 L256.79,17.83Z" fill="#525252" stroke="#dedede" stroke-width="1.0" stroke-opacity="0.9"/>
<path d="M267.24,36.79 L266.78,37.05 L266.19,37.23 L265.57,37.33 L265.00,37.34 L264.48,37.24 L263.96,37.03 L263.51,36.76 L263.16,36.47 L262.94,36.14 L262.82,35.75 L262.78,35.35 L262.81,35.00 L262.94,34.72 L263.15,34.48 L263.42,34.24 L263.70,33.96 L263.98,33.55 L264.28,33.07 L264.62,32.65 L265.00,32.43 L265.47,32.49 L266.01,32.73 L266.54,33.07 L266.98,33.41 L267.33,33.76 L267.62,34.16 L267.83,34.57 L267.93,35.00 L267.91,35.46 L267.78,35.96 L267.56,36.43Z" fill="#525252" stroke="#dedede" stroke-width="1.0" stroke-opacity="0.9"/>
<path d="M262.54,52.54 L261.95,53.08 L261.36,53.60 L260.72,54.01 L260.00,54.25 L259.11,54.33 L258.09,54.28 L257.12,54.06 L256.36,53.64 L255.83,52.93 L255.44,51.97 L255.23,50.94 L255.20,50.00 L255.42,49.15 L255.84,48.31 L256.40,47.56 L257.00,47.00 L257.67,46.66 L258.44,46.49 L259.24,46.44 L260.00,46.46 L260.71,46.53 L261.41,46.67 L262.08,46.92 L262.71,47.29 L263.37,47.84 L264.06,48.54 L264.58,49.29 L264.79,50.00 L264.54,50.67 L263.95,51.33 L263.23,51.97Z" fill="#5a5a5a" stroke="#dedede" stroke-width="1.0" stroke-opacity="0.9"/>
<path d="M266.96,57.62 L266.50,58.21 L266.01,58.79 L265.52,59.24 L265.00,59.44 L264.44,59.35 L263.84,59.02 L263.26,58.55 L262.75,58.00 L262.27,57.37 L261.80,56.62 L261.45,55.81 L261.29,55.00 L261.37,54.11 L261.64,53.15 L262.03,52.27 L262.49,51.65 L263.05,51.35 L263.73,51.28 L264.41,51.36 L265.00,51.52 L265.43,51.77 L265.76,52.14 L266.09,52.57 L266.49,53.02 L267.08,53.46 L267.79,53.94 L268.41,54.45 L268.70,55.00 L268.55,55.63 L268.09,56.32 L267.51,57.01Z" fill="#525252" stroke="#dedede" stroke-width="1.0" stroke-opacity="0.9"/>
<path d="M264.02,46.35 L263.63,46.61 L263.13,46.84 L262.58,47.01 L262.00,47.10 L261.37,47.11 L260.69,47.05 L260.02,46.90 L259.48,46.68 L259.01,46.34 L258.60,45.88 L258.33,45.40 L258.30,45.00 L258.62,44.71 L259.21,44.47 L259.89,44.24 L260.46,43.97 L260.87,43.61 L261.21,43.18 L261.56,42.80 L262.00,42.60 L262.62,42.61 L263.35,42.77 L264.04,43.02 L264.52,43.32 L264.72,43.68 L264.74,44.12 L264.66,44.58 L264.57,45.00 L264.51,45.37 L264.43,45.73 L264.28,46.06Z" fill="#525252" stroke="#dedede" stroke-width="1.0" stroke-opacity="0.9"/>
<path d="M227.58,55.21 L227.01,55.45 L226.37,55.54 L225.70,55.57 L225.00,55.59 L224.24,55.67 L223.41,55.76 L222.63,55.76 L222.00,55.57 L221.53,55.10 L221.15,54.43 L220.92,53.69 L220.86,53.00 L220.99,52.37 L221.31,51.75 L221.75,51.16 L222.25,50.64 L222.85,50.15 L223.57,49.69 L224.32,49.35 L225.00,49.26 L225.60,49.48 L226.17,49.96 L226.71,50.54 L227.25,51.07 L227.86,51.54 L228.51,52.01 L229.03,52.50 L229.27,53.00 L229.13,53.58 L228.71,54.20 L228.15,54.78Z" fill="#525252" stroke="#dedede" stroke-width="1.0" stroke-opacity="0.9"/>
<path d="M238.46,51.82 L238.19,52.22 L237.80,52.59 L237.38,52.87 L237.00,52.95 L236.69,52.76 L236.40,52.36 L236.12,51.88 L235.84,51.45 L235.51,51.10 L235.16,50.77 L234.87,50.42 L234.70,50.00 L234.68,49.44 L234.78,48.79 L234.96,48.18 L235.22,47.77 L235.58,47.64 L236.05,47.68 L236.54,47.81 L237.00,47.90 L237.43,47.91 L237.86,47.90 L238.24,47.94 L238.50,48.12 L238.61,48.47 L238.60,48.96 L238.54,49.49 L238.50,50.00 L238.53,50.48 L238.57,50.96 L238.57,51.42Z" fill="#525252" stroke="#dedede" stroke-width="1.0" stroke-opacity="0.9"/>
<path d="M227.04,11.04 L226.81,11.16 L226.54,11.22 L226.26,11.24 L226.00,11.24 L225.76,11.20 L225.53,11.14 L225.31,11.04 L225.10,10.90 L224.85,10.73 L224.60,10.51 L224.39,10.26 L224.27,10.00 L224.28,9.69 L224.38,9.33 L224.55,9.00 L224.75,8.75 L225.02,8.61 L225.36,8.53 L225.70,8.50 L226.00,8.54 L226.23,8.64 L226.42,8.81 L226.60,9.01 L226.80,9.20 L227.04,9.39 L227.32,9.58 L227.55,9.78 L227.66,10.00 L227.62,10.26 L227.47,10.56 L227.26,10.83Z" fill="#525252" stroke="#dedede" stroke-width="0.7" stroke-opacity="0.55"/>
<path d="M236.23,11.23 L235.97,11.33 L235.65,11.33 L235.32,11.29 L235.00,11.26 L234.70,11.26 L234.41,11.26 L234.14,11.22 L233.89,11.11 L233.65,10.91 L233.41,10.63 L233.23,10.31 L233.14,10.00 L233.17,9.66 L233.29,9.29 L233.47,8.95 L233.69,8.69 L233.97,8.55 L234.32,8.48 L234.67,8.46 L235.00,8.48 L235.29,8.54 L235.56,8.64 L235.81,8.78 L236.05,8.95 L236.28,9.17 L236.51,9.43 L236.69,9.71 L236.78,10.00 L236.75,10.32 L236.63,10.68 L236.45,11.01Z" fill="#525252" stroke="#dedede" stroke-width="0.7" stroke-opacity="0.55"/>
<path d="M215.86,14.86 L215.66,15.01 L215.44,15.12 L215.22,15.20 L215.00,15.22 L214.78,15.19 L214.57,15.12 L214.35,15.00 L214.14,14.86 L213.90,14.68 L213.63,14.47 L213.42,14.23 L213.32,14.00 L213.38,13.76 L213.56,13.50 L213.80,13.25 L214.03,13.03 L214.25,12.83 L214.50,12.64 L214.75,12.50 L215.00,12.44 L215.26,12.49 L215.52,12.62 L215.78,12.80 L216.00,13.00 L216.20,13.22 L216.40,13.48 L216.54,13.75 L216.58,14.00 L216.50,14.24 L216.31,14.47 L216.08,14.69Z" fill="#525252" stroke="#dedede" stroke-width="0.7" stroke-opacity="0.55"/>
<path d="M221.12,21.12 L220.87,21.25 L220.62,21.33 L220.33,21.38 L220.00,21.45 L219.55,21.60 L219.01,21.78 L218.51,21.90 L218.16,21.84 L218.01,21.52 L217.99,21.01 L218.06,20.46 L218.15,20.00 L218.28,19.68 L218.47,19.41 L218.69,19.17 L218.92,18.92 L219.15,18.61 L219.40,18.28 L219.68,18.00 L220.00,17.84 L220.40,17.83 L220.87,17.92 L221.32,18.10 L221.66,18.34 L221.87,18.69 L222.00,19.13 L222.05,19.60 L222.02,20.00 L221.89,20.34 L221.66,20.64 L221.39,20.90Z" fill="#525252" stroke="#dedede" stroke-width="1.0" stroke-opacity="0.9"/>
<path d="M275.25,21.25 L274.83,21.51 L274.25,21.66 L273.60,21.72 L273.00,21.72 L272.41,21.69 L271.79,21.60 L271.24,21.42 L270.85,21.15 L270.69,20.71 L270.69,20.13 L270.77,19.53 L270.86,19.00 L270.95,18.59 L271.07,18.25 L271.24,17.90 L271.47,17.47 L271.76,16.86 L272.11,16.12 L272.52,15.47 L273.00,15.12 L273.64,15.15 L274.40,15.46 L275.11,15.91 L275.59,16.41 L275.73,16.98 L275.65,17.65 L275.49,18.35 L275.38,19.00 L275.39,19.63 L275.44,20.25 L275.43,20.82Z" fill="#525252" stroke="#dedede" stroke-width="1.0" stroke-opacity="0.9"/>
<path d="M284.10,29.10 L283.88,29.22 L283.61,29.27 L283.30,29.28 L283.00,29.29 L282.68,29.32 L282.32,29.35 L282.00,29.34 L281.76,29.24 L281.63,29.02 L281.58,28.70 L281.57,28.34 L281.57,28.00 L281.54,27.65 L281.51,27.27 L281.54,26.93 L281.66,26.66 L281.90,26.47 L282.25,26.34 L282.64,26.27 L283.00,26.26 L283.35,26.30 L283.70,26.39 L284.02,26.54 L284.26,26.74 L284.41,27.00 L284.48,27.33 L284.50,27.68 L284.49,28.00 L284.45,28.31 L284.38,28.62 L284.26,28.90Z" fill="#525252" stroke="#dedede" stroke-width="0.7" stroke-opacity="0.55"/>
<path d="M269.51,39.51 L269.12,39.68 L268.74,39.77 L268.37,39.81 L268.00,39.81 L267.61,39.79 L267.22,39.74 L266.85,39.63 L266.55,39.45 L266.32,39.16 L266.13,38.79 L266.01,38.38 L265.98,38.00 L266.05,37.64 L266.21,37.28 L266.43,36.94 L266.67,36.67 L266.95,36.48 L267.27,36.34 L267.62,36.24 L268.00,36.17 L268.43,36.10 L268.91,36.03 L269.39,36.03 L269.83,36.17 L270.27,36.51 L270.73,36.99 L271.08,37.52 L271.20,38.00 L270.98,38.43 L270.53,38.85 L269.99,39.22Z" fill="#525252" stroke="#dedede" stroke-width="1.0" stroke-opacity="0.9"/>
<path d="M271.38,43.38 L271.07,43.73 L270.73,44.09 L270.38,44.39 L270.00,44.54 L269.54,44.50 L269.01,44.33 L268.54,44.07 L268.24,43.76 L268.17,43.38 L268.27,42.93 L268.43,42.45 L268.52,42.00 L268.50,41.58 L268.44,41.16 L268.41,40.79 L268.50,40.50 L268.78,40.30 L269.18,40.17 L269.62,40.11 L270.00,40.12 L270.30,40.23 L270.55,40.42 L270.81,40.66 L271.09,40.91 L271.47,41.15 L271.90,41.42 L272.27,41.70 L272.44,42.00 L272.36,42.33 L272.08,42.69 L271.72,43.04Z" fill="#525252" stroke="#dedede" stroke-width="1.0" stroke-opacity="0.9"/>
<path d="M331.51,34.81 L331.13,35.22 L330.77,35.63 L330.40,35.95 L330.00,36.12 L329.53,36.10 L329.03,35.93 L328.53,35.66 L328.08,35.30 L327.66,34.83 L327.25,34.25 L326.94,33.61 L326.82,33.00 L326.93,32.37 L327.23,31.72 L327.63,31.12 L328.05,30.66 L328.49,30.39 L329.00,30.23 L329.51,30.18 L330.00,30.19 L330.45,30.26 L330.89,30.41 L331.31,30.64 L331.71,30.94 L332.17,31.37 L332.66,31.91 L333.05,32.47 L333.19,33.00 L332.99,33.48 L332.54,33.95 L331.99,34.40Z" fill="#525252" stroke="#dedede" stroke-width="1.0" stroke-opacity="0.9"/>
<path d="M296.81,48.36 L296.48,48.60 L295.99,48.80 L295.46,48.93 L295.00,48.94 L294.64,48.79 L294.31,48.50 L294.04,48.17 L293.82,47.88 L293.68,47.65 L293.60,47.43 L293.56,47.22 L293.55,47.00 L293.56,46.76 L293.58,46.52 L293.65,46.29 L293.79,46.09 L294.01,45.94 L294.30,45.80 L294.64,45.70 L295.00,45.63 L295.45,45.58 L295.96,45.55 L296.44,45.57 L296.76,45.68 L296.84,45.92 L296.77,46.26 L296.65,46.64 L296.59,47.00 L296.67,47.35 L296.80,47.72 L296.89,48.07Z" fill="#525252" stroke="#dedede" stroke-width="1.0" stroke-opacity="0.9"/>
<path d="M311.13,54.70 L310.67,54.77 L310.13,54.67 L309.55,54.53 L309.00,54.46 L308.45,54.52 L307.88,54.65 L307.35,54.73 L306.93,54.66 L306.61,54.37 L306.37,53.94 L306.23,53.45 L306.19,53.00 L306.27,52.60 L306.46,52.19 L306.74,51.81 L307.08,51.46 L307.50,51.10 L308.01,50.75 L308.54,50.48 L309.00,50.42 L309.36,50.63 L309.66,51.06 L309.95,51.55 L310.30,51.96 L310.78,52.24 L311.34,52.47 L311.84,52.71 L312.11,53.00 L312.08,53.42 L311.86,53.93 L311.52,54.40Z" fill="#525252" stroke="#dedede" stroke-width="1.0" stroke-opacity="0.9"/>
<path d="M313.63,51.63 L313.34,51.95 L312.92,52.24 L312.44,52.45 L312.00,52.53 L311.57,52.43 L311.13,52.20 L310.73,51.89 L310.44,51.56 L310.28,51.21 L310.22,50.82 L310.23,50.40 L310.24,50.00 L310.25,49.61 L310.27,49.21 L310.34,48.83 L310.51,48.51 L310.80,48.21 L311.20,47.93 L311.63,47.74 L312.00,47.69 L312.31,47.86 L312.60,48.19 L312.86,48.58 L313.08,48.92 L313.25,49.19 L313.39,49.44 L313.49,49.69 L313.57,50.00 L313.66,50.39 L313.73,50.83 L313.75,51.26Z" fill="#525252" stroke="#dedede" stroke-width="1.0" stroke-opacity="0.9"/>
<path d="M310.02,58.51 L309.39,58.71 L308.64,58.83 L307.83,58.90 L307.00,58.94 L306.09,58.97 L305.10,58.98 L304.18,58.92 L303.50,58.75 L303.13,58.41 L302.97,57.96 L302.94,57.46 L302.99,57.00 L303.10,56.59 L303.29,56.18 L303.59,55.80 L304.02,55.51 L304.61,55.31 L305.33,55.18 L306.14,55.10 L307.00,55.04 L307.99,54.96 L309.11,54.89 L310.15,54.89 L310.91,55.04 L311.34,55.41 L311.53,55.93 L311.55,56.50 L311.47,57.00 L311.29,57.43 L310.97,57.85 L310.54,58.22Z" fill="#5a5a5a" stroke="#dedede" stroke-width="1.0" stroke-opacity="0.9"/>
<ellipse cx="307.5" cy="57.5" rx="1.8" ry="0.9" fill="#333"/>
<path d="M279.20,68.40 L278.62,68.60 L277.75,68.63 L276.80,68.56 L276.00,68.45 L275.43,68.30 L274.97,68.09 L274.51,67.83 L273.96,67.53 L273.15,67.20 L272.17,66.82 L271.34,66.41 L270.97,66.00 L271.25,65.58 L271.98,65.15 L272.87,64.70 L273.65,64.23 L274.23,63.67 L274.77,63.04 L275.34,62.50 L276.00,62.22 L276.88,62.26 L277.91,62.53 L278.85,62.94 L279.45,63.41 L279.56,63.97 L279.33,64.63 L279.01,65.33 L278.83,66.00 L278.94,66.67 L279.17,67.36 L279.33,67.97Z" fill="#5a5a5a" stroke="#dedede" stroke-width="1.0" stroke-opacity="0.9"/>
<path d="M287.22,62.22 L286.63,62.75 L286.07,63.29 L285.54,63.71 L285.00,63.87 L284.48,63.69 L283.97,63.25 L283.44,62.69 L282.86,62.14 L282.08,61.67 L281.18,61.18 L280.39,60.63 L279.97,60.00 L280.02,59.18 L280.39,58.22 L280.95,57.30 L281.59,56.59 L282.33,56.13 L283.22,55.83 L284.15,55.68 L285.00,55.69 L285.75,55.88 L286.45,56.24 L287.12,56.72 L287.75,57.25 L288.45,57.87 L289.18,58.59 L289.74,59.32 L289.93,60.00 L289.59,60.60 L288.85,61.18 L287.98,61.71Z" fill="#5a5a5a" stroke="#dedede" stroke-width="1.0" stroke-opacity="0.9"/>
<path d="M296.22,80.38 L295.43,80.75 L294.33,80.93 L293.12,80.97 L292.00,80.95 L290.93,80.87 L289.84,80.72 L288.88,80.46 L288.19,80.05 L287.88,79.42 L287.83,78.61 L287.94,77.76 L288.07,77.00 L288.19,76.32 L288.37,75.67 L288.65,75.09 L289.05,74.64 L289.63,74.37 L290.34,74.22 L291.14,74.14 L292.00,74.06 L293.00,73.90 L294.15,73.70 L295.21,73.62 L295.99,73.81 L296.38,74.36 L296.52,75.18 L296.53,76.11 L296.52,77.00 L296.59,77.90 L296.67,78.85 L296.59,79.73Z" fill="#5a5a5a" stroke="#dedede" stroke-width="1.0" stroke-opacity="0.9"/>
<ellipse cx="292.5" cy="77.5" rx="1.8" ry="1.4" fill="#333"/>
<path d="M293.11,86.67 L292.85,87.24 L292.57,87.89 L292.29,88.43 L292.00,88.67 L291.69,88.48 L291.36,87.98 L291.05,87.37 L290.78,86.82 L290.54,86.36 L290.32,85.90 L290.16,85.45 L290.11,85.00 L290.19,84.55 L290.38,84.10 L290.63,83.68 L290.88,83.32 L291.12,83.01 L291.38,82.76 L291.67,82.55 L292.00,82.41 L292.42,82.30 L292.90,82.21 L293.36,82.24 L293.70,82.45 L293.92,82.93 L294.05,83.62 L294.10,84.36 L294.06,85.00 L293.92,85.47 L293.68,85.87 L293.39,86.25Z" fill="#525252" stroke="#dedede" stroke-width="1.0" stroke-opacity="0.9"/>
<path d="M314.26,68.26 L313.77,68.81 L313.21,69.35 L312.61,69.79 L312.00,69.98 L311.39,69.86 L310.75,69.51 L310.11,69.03 L309.48,68.52 L308.74,67.96 L307.92,67.30 L307.27,66.63 L307.03,66.00 L307.38,65.45 L308.14,64.94 L309.05,64.42 L309.83,63.83 L310.42,63.00 L310.96,62.01 L311.48,61.19 L312.00,60.85 L312.54,61.22 L313.08,62.07 L313.60,63.08 L314.08,63.92 L314.56,64.51 L315.05,65.01 L315.44,65.49 L315.60,66.00 L315.49,66.57 L315.17,67.15 L314.73,67.73Z" fill="#5a5a5a" stroke="#dedede" stroke-width="1.0" stroke-opacity="0.9"/>
<path d="M320.34,65.34 L319.81,65.54 L319.21,65.58 L318.59,65.53 L318.00,65.48 L317.42,65.46 L316.84,65.43 L316.31,65.32 L315.91,65.09 L315.64,64.68 L315.47,64.14 L315.39,63.54 L315.38,63.00 L315.47,62.50 L315.64,62.00 L315.88,61.55 L316.19,61.19 L316.57,60.92 L317.02,60.72 L317.51,60.59 L318.00,60.54 L318.48,60.55 L318.98,60.63 L319.47,60.79 L319.95,61.05 L320.48,61.43 L321.04,61.91 L321.50,62.45 L321.71,63.00 L321.61,63.61 L321.28,64.28 L320.82,64.90Z" fill="#525252" stroke="#dedede" stroke-width="1.0" stroke-opacity="0.9"/>
<path d="M325.67,75.67 L324.87,76.27 L323.88,76.76 L322.86,77.03 L322.00,77.02 L321.34,76.58 L320.78,75.80 L320.30,74.91 L319.85,74.15 L319.43,73.59 L319.05,73.11 L318.73,72.61 L318.51,72.00 L318.33,71.12 L318.20,70.08 L318.22,69.12 L318.50,68.50 L319.13,68.37 L320.05,68.58 L321.06,68.88 L322.00,69.06 L322.85,68.97 L323.70,68.76 L324.50,68.63 L325.21,68.79 L325.87,69.33 L326.49,70.15 L326.96,71.08 L327.18,72.00 L327.10,72.94 L326.78,73.95 L326.28,74.91Z" fill="#5a5a5a" stroke="#dedede" stroke-width="1.0" stroke-opacity="0.9"/>
<path d="M317.73,78.73 L317.24,78.79 L316.53,78.58 L315.73,78.29 L315.00,78.13 L314.30,78.22 L313.59,78.44 L312.95,78.60 L312.49,78.51 L312.25,78.07 L312.16,77.38 L312.19,76.64 L312.29,76.00 L312.45,75.50 L312.69,75.04 L313.00,74.65 L313.34,74.34 L313.69,74.14 L314.07,74.04 L314.51,73.98 L315.00,73.90 L315.63,73.72 L316.37,73.49 L317.06,73.36 L317.54,73.46 L317.74,73.88 L317.74,74.53 L317.66,75.28 L317.63,76.00 L317.72,76.75 L317.86,77.56 L317.90,78.28Z" fill="#525252" stroke="#dedede" stroke-width="1.0" stroke-opacity="0.9"/>
<path d="M328.72,69.72 L328.34,70.08 L327.94,70.42 L327.50,70.70 L327.00,70.88 L326.34,70.98 L325.56,71.00 L324.84,70.91 L324.35,70.65 L324.19,70.14 L324.25,69.45 L324.39,68.69 L324.51,68.00 L324.52,67.37 L324.52,66.74 L324.58,66.18 L324.79,65.79 L325.22,65.59 L325.80,65.54 L326.44,65.58 L327.00,65.65 L327.47,65.73 L327.91,65.85 L328.32,66.03 L328.71,66.29 L329.14,66.64 L329.57,67.07 L329.91,67.55 L330.05,68.00 L329.91,68.44 L329.58,68.90 L329.14,69.33Z" fill="#525252" stroke="#dedede" stroke-width="1.0" stroke-opacity="0.9"/>
<path d="M311.59,74.39 L311.24,74.59 L310.82,74.63 L310.38,74.56 L310.00,74.45 L309.68,74.32 L309.40,74.12 L309.15,73.88 L308.94,73.59 L308.78,73.26 L308.65,72.88 L308.56,72.46 L308.50,72.00 L308.43,71.45 L308.37,70.82 L308.38,70.21 L308.49,69.74 L308.77,69.41 L309.17,69.16 L309.61,69.02 L310.00,69.01 L310.33,69.15 L310.64,69.43 L310.93,69.79 L311.22,70.17 L311.55,70.56 L311.90,71.01 L312.18,71.49 L312.32,72.00 L312.29,72.61 L312.13,73.31 L311.88,73.94Z" fill="#525252" stroke="#dedede" stroke-width="1.0" stroke-opacity="0.9"/>
<path d="M275.13,83.89 L274.92,84.22 L274.64,84.51 L274.32,84.72 L274.00,84.81 L273.67,84.78 L273.32,84.64 L272.99,84.41 L272.74,84.10 L272.57,83.66 L272.46,83.10 L272.41,82.51 L272.43,82.00 L272.53,81.57 L272.70,81.17 L272.92,80.82 L273.13,80.55 L273.33,80.37 L273.53,80.27 L273.75,80.21 L274.00,80.15 L274.31,80.04 L274.66,79.92 L274.98,79.87 L275.21,79.99 L275.30,80.34 L275.30,80.86 L275.27,81.45 L275.24,82.00 L275.24,82.50 L275.26,83.01 L275.23,83.49Z" fill="#525252" stroke="#dedede" stroke-width="0.7" stroke-opacity="0.55"/>
<path d="M331.60,87.40 L331.30,87.52 L330.89,87.43 L330.44,87.28 L330.00,87.20 L329.55,87.31 L329.07,87.50 L328.63,87.62 L328.32,87.52 L328.18,87.09 L328.15,86.44 L328.18,85.70 L328.20,85.00 L328.17,84.33 L328.13,83.63 L328.15,82.98 L328.30,82.44 L328.62,82.00 L329.07,81.64 L329.56,81.40 L330.00,81.34 L330.39,81.53 L330.78,81.91 L331.13,82.40 L331.41,82.89 L331.61,83.37 L331.76,83.89 L331.85,84.44 L331.89,85.00 L331.90,85.64 L331.88,86.35 L331.78,86.98Z" fill="#525252" stroke="#dedede" stroke-width="1.0" stroke-opacity="0.9"/>
<path d="M239.76,64.76 L239.47,64.93 L239.01,64.99 L238.49,64.99 L238.00,64.97 L237.52,64.98 L237.02,64.97 L236.58,64.91 L236.27,64.73 L236.14,64.39 L236.13,63.92 L236.20,63.43 L236.28,63.00 L236.37,62.67 L236.50,62.40 L236.66,62.13 L236.85,61.85 L237.10,61.49 L237.38,61.09 L237.69,60.75 L238.00,60.60 L238.34,60.71 L238.72,60.99 L239.06,61.36 L239.30,61.70 L239.41,62.00 L239.42,62.31 L239.40,62.64 L239.42,63.00 L239.54,63.44 L239.71,63.95 L239.82,64.42Z" fill="#525252" stroke="#dedede" stroke-width="1.0" stroke-opacity="0.9"/>
<path d="M256.94,72.28 L256.35,72.78 L255.57,73.26 L254.74,73.60 L254.00,73.70 L253.39,73.44 L252.84,72.92 L252.31,72.29 L251.76,71.74 L251.10,71.30 L250.37,70.90 L249.76,70.48 L249.45,70.00 L249.51,69.42 L249.85,68.77 L250.35,68.13 L250.92,67.61 L251.59,67.17 L252.40,66.79 L253.24,66.53 L254.00,66.47 L254.69,66.67 L255.35,67.09 L255.95,67.60 L256.46,68.09 L256.88,68.54 L257.22,69.00 L257.46,69.49 L257.59,70.00 L257.61,70.57 L257.52,71.17 L257.30,71.76Z" fill="#5a5a5a" stroke="#dedede" stroke-width="1.0" stroke-opacity="0.9"/>
<ellipse cx="254.5" cy="70.5" rx="1.6" ry="1.2" fill="#333"/>
<path d="M232.21,82.21 L231.33,82.96 L230.21,83.60 L229.04,84.02 L228.00,84.10 L227.12,83.71 L226.31,82.94 L225.56,82.02 L224.84,81.16 L224.06,80.38 L223.26,79.60 L222.63,78.80 L222.37,78.00 L222.59,77.17 L223.18,76.32 L223.95,75.48 L224.72,74.72 L225.49,73.91 L226.34,73.08 L227.20,72.45 L228.00,72.25 L228.69,72.65 L229.32,73.50 L229.94,74.51 L230.60,75.40 L231.44,76.05 L232.38,76.63 L233.19,77.25 L233.64,78.00 L233.66,78.99 L233.38,80.15 L232.87,81.28Z" fill="#5a5a5a" stroke="#dedede" stroke-width="1.0" stroke-opacity="0.9"/>
<ellipse cx="228.5" cy="78.5" rx="1.8" ry="1.8" fill="#333"/>
<path d="M247.40,80.70 L246.27,80.97 L244.85,81.07 L243.35,81.05 L242.00,80.99 L240.79,80.89 L239.64,80.72 L238.59,80.47 L237.72,80.14 L237.01,79.69 L236.43,79.15 L236.04,78.57 L235.89,78.00 L236.02,77.41 L236.39,76.78 L236.95,76.22 L237.66,75.83 L238.54,75.70 L239.60,75.75 L240.78,75.85 L242.00,75.86 L243.36,75.68 L244.87,75.41 L246.30,75.21 L247.43,75.28 L248.25,75.73 L248.85,76.44 L249.22,77.24 L249.34,78.00 L249.21,78.73 L248.83,79.50 L248.22,80.19Z" fill="#5a5a5a" stroke="#dedede" stroke-width="1.0" stroke-opacity="0.9"/>
<ellipse cx="242.5" cy="78.5" rx="2.1" ry="1.0" fill="#333"/>
<path d="M208.58,86.58 L208.03,86.95 L207.38,87.21 L206.69,87.37 L206.00,87.43 L205.33,87.40 L204.65,87.29 L203.97,87.06 L203.29,86.71 L202.49,86.16 L201.61,85.45 L200.90,84.69 L200.64,84.00 L201.03,83.37 L201.87,82.76 L202.87,82.20 L203.72,81.72 L204.31,81.33 L204.83,81.02 L205.36,80.78 L206.00,80.59 L206.88,80.40 L207.91,80.22 L208.88,80.19 L209.56,80.44 L209.88,81.09 L209.95,82.05 L209.88,83.09 L209.75,84.00 L209.59,84.75 L209.34,85.46 L209.00,86.08Z" fill="#5a5a5a" stroke="#dedede" stroke-width="1.0" stroke-opacity="0.9"/>
<ellipse cx="206.5" cy="84.5" rx="1.6" ry="1.6" fill="#333"/>
<path d="M216.26,76.26 L215.99,76.65 L215.69,77.08 L215.37,77.45 L215.00,77.65 L214.55,77.63 L214.04,77.45 L213.55,77.17 L213.15,76.85 L212.87,76.46 L212.66,76.00 L212.52,75.50 L212.47,75.00 L212.48,74.47 L212.57,73.89 L212.75,73.37 L213.02,73.02 L213.41,72.90 L213.91,72.95 L214.46,73.05 L215.00,73.10 L215.58,73.00 L216.21,72.84 L216.78,72.74 L217.16,72.84 L217.31,73.23 L217.29,73.83 L217.17,74.47 L217.04,75.00 L216.90,75.37 L216.72,75.68 L216.50,75.95Z" fill="#525252" stroke="#dedede" stroke-width="1.0" stroke-opacity="0.9"/>
<path d="M221.03,85.03 L220.77,85.21 L220.53,85.36 L220.28,85.48 L220.00,85.55 L219.66,85.59 L219.27,85.60 L218.89,85.55 L218.59,85.41 L218.35,85.14 L218.16,84.77 L218.03,84.37 L218.00,84.00 L218.09,83.66 L218.27,83.32 L218.52,83.01 L218.77,82.77 L219.05,82.62 L219.35,82.52 L219.68,82.47 L220.00,82.45 L220.34,82.44 L220.69,82.46 L221.03,82.52 L221.33,82.67 L221.65,82.93 L221.96,83.28 L222.19,83.66 L222.26,84.00 L222.10,84.29 L221.77,84.57 L221.37,84.81Z" fill="#525252" stroke="#dedede" stroke-width="1.0" stroke-opacity="0.9"/>
<path d="M224.61,97.61 L224.12,98.18 L223.42,98.74 L222.66,99.15 L222.00,99.26 L221.46,98.95 L220.97,98.33 L220.50,97.60 L220.05,96.95 L219.55,96.46 L219.03,96.01 L218.59,95.54 L218.35,95.00 L218.33,94.28 L218.47,93.45 L218.75,92.69 L219.16,92.16 L219.72,91.97 L220.45,92.01 L221.23,92.14 L222.00,92.20 L222.81,92.11 L223.67,91.94 L224.44,91.87 L224.96,92.04 L225.13,92.57 L225.04,93.35 L224.86,94.21 L224.74,95.00 L224.76,95.70 L224.82,96.39 L224.82,97.03Z" fill="#525252" stroke="#dedede" stroke-width="1.0" stroke-opacity="0.9"/>
<path d="M239.30,101.64 L238.52,102.07 L237.73,102.41 L236.90,102.66 L236.00,102.81 L234.92,102.89 L233.72,102.89 L232.59,102.75 L231.74,102.40 L231.24,101.75 L230.96,100.84 L230.87,99.87 L230.92,99.00 L231.15,98.28 L231.55,97.61 L232.08,96.98 L232.69,96.35 L233.39,95.63 L234.20,94.87 L235.08,94.24 L236.00,93.94 L237.02,94.05 L238.13,94.46 L239.21,95.06 L240.12,95.70 L240.93,96.43 L241.66,97.30 L242.18,98.19 L242.31,99.00 L241.93,99.74 L241.15,100.45 L240.19,101.10Z" fill="#5a5a5a" stroke="#dedede" stroke-width="1.0" stroke-opacity="0.9"/>
<ellipse cx="236.5" cy="99.5" rx="1.8" ry="1.4" fill="#333"/>
<path d="M233.79,102.79 L233.41,103.12 L232.97,103.40 L232.49,103.61 L232.00,103.70 L231.50,103.68 L230.98,103.56 L230.46,103.34 L229.96,103.04 L229.41,102.64 L228.83,102.13 L228.36,101.58 L228.13,101.00 L228.22,100.38 L228.54,99.70 L229.00,99.04 L229.49,98.49 L230.04,98.04 L230.67,97.64 L231.34,97.36 L232.00,97.26 L232.68,97.36 L233.41,97.63 L234.06,98.02 L234.52,98.48 L234.76,99.03 L234.83,99.70 L234.80,100.39 L234.71,101.00 L234.58,101.52 L234.37,102.00 L234.11,102.42Z" fill="#525252" stroke="#dedede" stroke-width="1.0" stroke-opacity="0.9"/>
<path d="M263.07,102.55 L262.54,102.97 L262.09,103.41 L261.61,103.79 L261.00,104.03 L260.16,104.13 L259.16,104.13 L258.18,104.00 L257.39,103.70 L256.79,103.17 L256.29,102.44 L255.98,101.67 L255.96,101.00 L256.34,100.47 L257.04,100.00 L257.86,99.57 L258.60,99.20 L259.20,98.84 L259.77,98.52 L260.36,98.27 L261.00,98.14 L261.75,98.13 L262.57,98.22 L263.36,98.41 L264.05,98.71 L264.69,99.18 L265.31,99.79 L265.74,100.44 L265.83,101.00 L265.45,101.44 L264.69,101.83 L263.82,102.19Z" fill="#5a5a5a" stroke="#dedede" stroke-width="1.0" stroke-opacity="0.9"/>
<path d="M204.44,98.80 L204.15,98.94 L203.78,98.95 L203.38,98.90 L203.00,98.85 L202.64,98.87 L202.27,98.88 L201.93,98.85 L201.64,98.70 L201.39,98.37 L201.17,97.92 L201.02,97.43 L200.99,97.00 L201.13,96.64 L201.39,96.31 L201.70,96.01 L201.99,95.74 L202.22,95.52 L202.45,95.33 L202.69,95.18 L203.00,95.04 L203.44,94.88 L203.97,94.70 L204.47,94.62 L204.81,94.73 L204.95,95.13 L204.96,95.74 L204.90,96.41 L204.84,97.00 L204.79,97.52 L204.73,98.04 L204.62,98.48Z" fill="#525252" stroke="#dedede" stroke-width="1.0" stroke-opacity="0.9"/>
<path d="M267.78,93.78 L267.42,94.00 L266.96,94.11 L266.47,94.16 L266.00,94.16 L265.55,94.13 L265.10,94.05 L264.68,93.90 L264.32,93.68 L264.03,93.34 L263.78,92.92 L263.61,92.45 L263.54,92.00 L263.59,91.52 L263.74,91.01 L263.97,90.55 L264.26,90.26 L264.63,90.20 L265.08,90.31 L265.56,90.46 L266.00,90.56 L266.42,90.52 L266.83,90.44 L267.21,90.38 L267.53,90.47 L267.82,90.73 L268.06,91.12 L268.24,91.56 L268.33,92.00 L268.32,92.46 L268.22,92.96 L268.04,93.43Z" fill="#525252" stroke="#dedede" stroke-width="1.0" stroke-opacity="0.9"/>
<path d="M246.17,25.17 L245.95,25.29 L245.65,25.32 L245.31,25.31 L245.00,25.30 L244.72,25.29 L244.43,25.27 L244.16,25.21 L243.91,25.09 L243.66,24.88 L243.40,24.60 L243.20,24.30 L243.12,24.00 L243.19,23.70 L243.37,23.37 L243.61,23.08 L243.86,22.86 L244.12,22.75 L244.41,22.71 L244.71,22.71 L245.00,22.72 L245.29,22.73 L245.59,22.75 L245.87,22.81 L246.07,22.93 L246.20,23.13 L246.26,23.40 L246.28,23.70 L246.29,24.00 L246.31,24.31 L246.32,24.65 L246.29,24.95Z" fill="#525252" stroke="#dedede" stroke-width="0.7" stroke-opacity="0.55"/>
<path d="M301.35,31.35 L301.09,31.44 L300.73,31.44 L300.34,31.37 L300.00,31.31 L299.73,31.25 L299.49,31.18 L299.27,31.08 L299.06,30.94 L298.84,30.74 L298.61,30.50 L298.43,30.24 L298.37,30.00 L298.46,29.79 L298.68,29.58 L298.94,29.38 L299.18,29.18 L299.37,28.96 L299.56,28.73 L299.76,28.54 L300.00,28.42 L300.33,28.38 L300.72,28.40 L301.09,28.49 L301.35,28.65 L301.47,28.91 L301.49,29.25 L301.46,29.64 L301.44,30.00 L301.46,30.37 L301.48,30.76 L301.46,31.11Z" fill="#525252" stroke="#dedede" stroke-width="0.7" stroke-opacity="0.55"/>
<path d="M290.91,38.91 L290.71,39.10 L290.49,39.27 L290.25,39.41 L290.00,39.47 L289.72,39.46 L289.41,39.38 L289.12,39.25 L288.92,39.08 L288.81,38.85 L288.78,38.57 L288.79,38.27 L288.82,38.00 L288.86,37.77 L288.94,37.54 L289.04,37.34 L289.18,37.18 L289.35,37.04 L289.55,36.94 L289.78,36.87 L290.00,36.83 L290.23,36.83 L290.48,36.87 L290.72,36.95 L290.93,37.07 L291.13,37.25 L291.32,37.49 L291.46,37.75 L291.51,38.00 L291.45,38.24 L291.31,38.48 L291.11,38.71Z" fill="#525252" stroke="#dedede" stroke-width="0.7" stroke-opacity="0.55"/>
<path d="M318.93,40.93 L318.72,41.07 L318.48,41.18 L318.23,41.25 L318.00,41.27 L317.79,41.22 L317.59,41.11 L317.39,40.96 L317.20,40.80 L316.99,40.63 L316.76,40.45 L316.57,40.24 L316.46,40.00 L316.43,39.69 L316.46,39.33 L316.56,38.99 L316.72,38.72 L316.98,38.56 L317.31,38.45 L317.67,38.40 L318.00,38.40 L318.31,38.45 L318.61,38.56 L318.89,38.71 L319.11,38.89 L319.26,39.13 L319.36,39.42 L319.41,39.72 L319.42,40.00 L319.36,40.26 L319.25,40.51 L319.10,40.74Z" fill="#525252" stroke="#dedede" stroke-width="0.7" stroke-opacity="0.55"/>
<path d="M280.87,45.87 L280.66,46.11 L280.45,46.38 L280.23,46.59 L280.00,46.69 L279.74,46.64 L279.46,46.48 L279.19,46.26 L278.96,46.04 L278.78,45.81 L278.62,45.55 L278.51,45.27 L278.46,45.00 L278.48,44.71 L278.56,44.39 L278.69,44.10 L278.87,43.87 L279.10,43.71 L279.40,43.59 L279.71,43.53 L280.00,43.53 L280.25,43.59 L280.50,43.71 L280.73,43.88 L280.94,44.06 L281.17,44.27 L281.39,44.51 L281.57,44.76 L281.64,45.00 L281.55,45.22 L281.35,45.44 L281.10,45.66Z" fill="#525252" stroke="#dedede" stroke-width="0.7" stroke-opacity="0.55"/>
<path d="M300.88,90.88 L300.70,91.09 L300.48,91.29 L300.24,91.44 L300.00,91.51 L299.75,91.47 L299.49,91.35 L299.23,91.18 L299.01,90.99 L298.80,90.77 L298.60,90.51 L298.46,90.24 L298.42,90.00 L298.53,89.79 L298.75,89.60 L299.02,89.42 L299.25,89.25 L299.43,89.07 L299.60,88.89 L299.78,88.74 L300.00,88.63 L300.32,88.57 L300.69,88.55 L301.05,88.59 L301.29,88.71 L301.39,88.96 L301.38,89.30 L301.33,89.68 L301.27,90.00 L301.21,90.26 L301.13,90.48 L301.02,90.69Z" fill="#525252" stroke="#dedede" stroke-width="0.7" stroke-opacity="0.55"/>
<path d="M251.10,89.10 L250.88,89.27 L250.60,89.40 L250.28,89.48 L250.00,89.49 L249.76,89.43 L249.53,89.29 L249.31,89.11 L249.08,88.92 L248.78,88.72 L248.45,88.48 L248.17,88.24 L248.06,88.00 L248.17,87.77 L248.44,87.53 L248.78,87.29 L249.07,87.07 L249.31,86.82 L249.55,86.55 L249.78,86.34 L250.00,86.26 L250.23,86.36 L250.45,86.60 L250.66,86.90 L250.84,87.16 L250.99,87.37 L251.12,87.57 L251.21,87.77 L251.26,88.00 L251.29,88.27 L251.28,88.58 L251.22,88.87Z" fill="#525252" stroke="#dedede" stroke-width="0.7" stroke-opacity="0.55"/>
<path d="M271.30,96.30 L271.06,96.43 L270.71,96.49 L270.32,96.49 L270.00,96.45 L269.76,96.34 L269.57,96.17 L269.39,95.98 L269.22,95.78 L269.03,95.60 L268.84,95.41 L268.68,95.22 L268.60,95.00 L268.61,94.75 L268.69,94.48 L268.81,94.22 L268.98,93.98 L269.19,93.74 L269.46,93.51 L269.74,93.34 L270.00,93.29 L270.23,93.40 L270.45,93.64 L270.65,93.93 L270.81,94.19 L270.93,94.39 L271.00,94.57 L271.06,94.76 L271.11,95.00 L271.20,95.32 L271.30,95.69 L271.36,96.04Z" fill="#525252" stroke="#dedede" stroke-width="0.7" stroke-opacity="0.55"/>
</g>
</g>
<text x="328.5" y="17.1" font-size="11.3" text-anchor="end" fill="#f4f4f4" stroke="#f4f4f4" stroke-width="0.3">LZNC</text>
<text x="326.7" y="97.1" font-size="10.2" text-anchor="end" fill="#f4f4f4" stroke="#f4f4f4" stroke-width="0.3">20 μm</text>
<rect x="308.9" y="99.5" width="19" height="1.5" fill="#f4f4f4"/>
<g clip-path="url(#cpc)">
<g filter="url(#texCd)"><rect x="377" y="7" width="131" height="98" fill="#434343"/>
<path d="M377,97.5 Q440,95.5 508,96 L508,105 L377,105 Z" fill="#848484" filter="url(#blur05)"/>
</g>
<g filter="url(#texC)"><g filter="url(#wig2)">
<path d="M377,7 L460,7 L459,20 L462,38 L430,39 L400,41 L377,44 Z" fill="#686868" filter="url(#blur2)"/>
<path d="M410,7 L445,7 L442,14 L428,16 L415,13 Z" fill="#4e4e4e" filter="url(#blur2)"/>
<path d="M392,48 L483,47 L474,76 L440,79 L400,78 Z" fill="#7a7a7a" filter="url(#blur2)"/>
<path d="M396,37 L430,34 L462,36 L472,33 L490,31 L508,30 L508,51 L480,55 L440,56 L398,56 Z" fill="#949494" filter="url(#blur1)"/>
</g></g>
<g filter="url(#wig2)"><path d="M458,5 L510,5 L510,30 L490,31 L472,33 L462,36 L459,22 Z" fill="#464646" filter="url(#blur1)"/></g>
<g opacity="0.55" filter="url(#wig2)"><path d="M398,36 L430,33 L462,35 L490,30 L508,29 L508,50 L480,54 L440,55 L400,55 Z" fill="#000" filter="url(#cspk)"/><path d="M404,55 L478,53 L472,74 L412,76 Z" fill="#000" filter="url(#cspk)" opacity="0.6"/></g>
<ellipse cx="392.5" cy="45.5" rx="6" ry="3.2" fill="#1f1f1f" transform="rotate(-42 392.5 45.5)" filter="url(#blur05)"/>
<ellipse cx="404" cy="31.5" rx="2.2" ry="2.6" fill="#2e2e2e" filter="url(#blur05)"/>
<line x1="407.0" y1="83.8" x2="407.3" y2="91.1" stroke="#5a5a5a" stroke-width="0.7" opacity="0.5"/>
<line x1="421.5" y1="80.1" x2="421.7" y2="94.3" stroke="#5a5a5a" stroke-width="0.7" opacity="0.5"/>
<line x1="487.6" y1="75.0" x2="487.7" y2="95.2" stroke="#5a5a5a" stroke-width="0.7" opacity="0.5"/>
<line x1="473.9" y1="82.6" x2="473.9" y2="95.5" stroke="#5a5a5a" stroke-width="0.7" opacity="0.5"/>
<line x1="469.4" y1="83.5" x2="469.0" y2="96.1" stroke="#5a5a5a" stroke-width="0.7" opacity="0.5"/>
<line x1="378.6" y1="73.4" x2="378.6" y2="93.5" stroke="#5a5a5a" stroke-width="0.7" opacity="0.5"/>
<line x1="502.2" y1="68.0" x2="502.1" y2="95.5" stroke="#5a5a5a" stroke-width="0.7" opacity="0.5"/>
<line x1="490.6" y1="69.0" x2="490.5" y2="93.2" stroke="#5a5a5a" stroke-width="0.7" opacity="0.5"/>
<line x1="437.1" y1="82.3" x2="436.9" y2="92.7" stroke="#5a5a5a" stroke-width="0.7" opacity="0.5"/>
<line x1="449.6" y1="80.3" x2="449.5" y2="95.5" stroke="#5a5a5a" stroke-width="0.7" opacity="0.5"/>
<line x1="487.6" y1="66.0" x2="487.5" y2="91.3" stroke="#5a5a5a" stroke-width="0.7" opacity="0.5"/>
<line x1="417.2" y1="78.9" x2="417.3" y2="94.1" stroke="#5a5a5a" stroke-width="0.7" opacity="0.5"/>
<line x1="389.3" y1="77.8" x2="389.2" y2="95.9" stroke="#5a5a5a" stroke-width="0.7" opacity="0.5"/>
<line x1="486.1" y1="78.8" x2="485.8" y2="93.0" stroke="#5a5a5a" stroke-width="0.7" opacity="0.5"/>
<line x1="495.5" y1="52.3" x2="495.0" y2="94.0" stroke="#5a5a5a" stroke-width="0.7" opacity="0.5"/>
<line x1="442.2" y1="83.5" x2="442.4" y2="93.8" stroke="#5a5a5a" stroke-width="0.7" opacity="0.5"/>
<line x1="506.8" y1="66.5" x2="506.8" y2="94.8" stroke="#5a5a5a" stroke-width="0.7" opacity="0.5"/>
<line x1="428.2" y1="80.1" x2="428.3" y2="92.5" stroke="#5a5a5a" stroke-width="0.7" opacity="0.5"/>
<line x1="500.3" y1="70.9" x2="500.3" y2="90.7" stroke="#5a5a5a" stroke-width="0.7" opacity="0.5"/>
<line x1="426.3" y1="80.4" x2="426.4" y2="94.0" stroke="#5a5a5a" stroke-width="0.7" opacity="0.5"/>
<line x1="491.5" y1="79.0" x2="491.5" y2="93.1" stroke="#5a5a5a" stroke-width="0.7" opacity="0.5"/>
<line x1="458.6" y1="84.0" x2="458.4" y2="93.7" stroke="#5a5a5a" stroke-width="0.7" opacity="0.5"/>
<line x1="483.2" y1="56.8" x2="483.1" y2="96.8" stroke="#5a5a5a" stroke-width="0.7" opacity="0.5"/>
<line x1="484.6" y1="66.4" x2="484.2" y2="96.3" stroke="#5a5a5a" stroke-width="0.7" opacity="0.5"/>
<line x1="467.0" y1="82.9" x2="467.5" y2="96.2" stroke="#5a5a5a" stroke-width="0.7" opacity="0.5"/>
<line x1="432.3" y1="78.9" x2="432.1" y2="93.6" stroke="#5a5a5a" stroke-width="0.7" opacity="0.5"/>
<line x1="443.1" y1="79.1" x2="442.8" y2="94.4" stroke="#5a5a5a" stroke-width="0.7" opacity="0.5"/>
<line x1="455.8" y1="80.1" x2="456.3" y2="94.5" stroke="#5a5a5a" stroke-width="0.7" opacity="0.5"/>
<line x1="383.5" y1="63.5" x2="383.7" y2="92.1" stroke="#5a5a5a" stroke-width="0.7" opacity="0.5"/>
<line x1="467.1" y1="78.0" x2="466.9" y2="95.9" stroke="#5a5a5a" stroke-width="0.7" opacity="0.5"/>
<line x1="453.6" y1="82.0" x2="453.3" y2="93.5" stroke="#5a5a5a" stroke-width="0.7" opacity="0.5"/>
<line x1="449.4" y1="79.6" x2="449.5" y2="93.7" stroke="#5a5a5a" stroke-width="0.7" opacity="0.5"/>
<line x1="506.6" y1="68.1" x2="506.5" y2="90.9" stroke="#5a5a5a" stroke-width="0.7" opacity="0.5"/>
<line x1="398.2" y1="82.6" x2="397.8" y2="90.7" stroke="#5a5a5a" stroke-width="0.7" opacity="0.5"/>
<line x1="400.0" y1="81.1" x2="400.3" y2="94.3" stroke="#5a5a5a" stroke-width="0.7" opacity="0.5"/>
<line x1="482.1" y1="53.7" x2="481.6" y2="95.4" stroke="#5a5a5a" stroke-width="0.7" opacity="0.5"/>
<line x1="419.6" y1="82.3" x2="419.5" y2="91.2" stroke="#5a5a5a" stroke-width="0.7" opacity="0.5"/>
<line x1="412.4" y1="78.6" x2="412.8" y2="94.1" stroke="#5a5a5a" stroke-width="0.7" opacity="0.5"/>
<line x1="423.0" y1="80.7" x2="422.9" y2="90.4" stroke="#5a5a5a" stroke-width="0.7" opacity="0.5"/>
<line x1="492.9" y1="68.3" x2="493.3" y2="93.1" stroke="#5a5a5a" stroke-width="0.7" opacity="0.5"/>
</g>
<text x="502" y="17.8" font-size="11.3" text-anchor="end" fill="#f4f4f4" stroke="#f4f4f4" stroke-width="0.3">Li Foil</text>
<text x="502.7" y="97.6" font-size="10.2" text-anchor="end" fill="#f4f4f4" stroke="#f4f4f4" stroke-width="0.3">50 μm</text>
<rect x="475.8" y="99.7" width="29.2" height="1.4" fill="#f4f4f4"/>
<g clip-path="url(#cpd)">
<rect x="553" y="7" width="132" height="46" fill="url(#dtop)"/>
<ellipse cx="640" cy="31" rx="42" ry="6.5" fill="#5e5e5e" filter="url(#blur4)" transform="rotate(-9 640 31)"/>
<ellipse cx="600" cy="42" rx="30" ry="5" fill="#535353" filter="url(#blur4)"/>
<g filter="url(#texD2)">
<path d="M553,51.5 Q590,51 618,49.3 Q650,51 685,53.3 L685,92 L553,92 Z" fill="#696969"/>
</g>
<path d="M553,51.8 Q590,51 618,49.6 Q650,51.2 685,53.5" stroke="#b4b4b4" stroke-width="1.1" fill="none"/>
<rect x="553" y="91" width="132" height="4.5" fill="#8e8e8e" filter="url(#blur05)"/>
<rect x="553" y="95" width="132" height="10" fill="url(#dbot)"/>
<rect x="553" y="89.6" width="132" height="1.8" fill="#c4c4c4" filter="url(#blur05)"/>
<g filter="url(#wig)">
<path d="M559.80,88.50 L559.40,88.66 L558.98,88.73 L558.52,88.76 L558.00,88.82 L557.35,88.97 L556.61,89.18 L555.90,89.31 L555.33,89.22 L554.90,88.84 L554.57,88.24 L554.37,87.57 L554.36,87.00 L554.61,86.56 L555.06,86.17 L555.60,85.80 L556.11,85.43 L556.56,84.98 L557.01,84.50 L557.48,84.11 L558.00,83.90 L558.63,83.95 L559.34,84.17 L560.01,84.51 L560.52,84.90 L560.87,85.36 L561.12,85.92 L561.23,86.49 L561.22,87.00 L561.02,87.45 L560.67,87.86 L560.23,88.22Z" fill="#777" stroke="#e6e6e6" stroke-width="0.9"/>
<path d="M566.25,86.50 L565.82,86.85 L565.23,87.19 L564.60,87.45 L564.00,87.55 L563.45,87.43 L562.91,87.14 L562.38,86.77 L561.88,86.41 L561.34,86.07 L560.78,85.71 L560.34,85.34 L560.19,85.00 L560.44,84.67 L560.98,84.36 L561.63,84.06 L562.21,83.80 L562.66,83.58 L563.08,83.38 L563.51,83.22 L564.00,83.13 L564.61,83.10 L565.30,83.12 L565.94,83.22 L566.40,83.40 L566.63,83.71 L566.70,84.12 L566.68,84.58 L566.65,85.00 L566.64,85.39 L566.61,85.78 L566.50,86.16Z" fill="#777" stroke="#e6e6e6" stroke-width="0.9"/>
<path d="M571.57,88.25 L571.25,88.61 L570.86,89.00 L570.43,89.31 L570.00,89.45 L569.56,89.35 L569.10,89.09 L568.65,88.74 L568.25,88.40 L567.85,88.07 L567.46,87.71 L567.16,87.34 L567.06,87.00 L567.24,86.67 L567.61,86.34 L568.08,86.04 L568.50,85.80 L568.87,85.63 L569.24,85.50 L569.62,85.43 L570.00,85.39 L570.42,85.40 L570.87,85.44 L571.29,85.54 L571.62,85.71 L571.84,85.96 L571.98,86.29 L572.06,86.66 L572.08,87.00 L572.05,87.32 L571.95,87.63 L571.79,87.94Z" fill="#777" stroke="#e6e6e6" stroke-width="0.9"/>
<path d="M585.72,86.72 L585.24,86.90 L584.52,86.87 L583.71,86.74 L583.00,86.62 L582.36,86.58 L581.74,86.54 L581.19,86.44 L580.80,86.20 L580.62,85.77 L580.60,85.21 L580.65,84.59 L580.69,84.00 L580.66,83.42 L580.62,82.82 L580.65,82.27 L580.84,81.84 L581.24,81.54 L581.80,81.34 L582.42,81.23 L583.00,81.21 L583.55,81.28 L584.11,81.44 L584.61,81.68 L585.00,82.00 L585.22,82.40 L585.32,82.88 L585.37,83.42 L585.44,84.00 L585.59,84.70 L585.78,85.49 L585.87,86.22Z" fill="#777" stroke="#e6e6e6" stroke-width="0.9"/>
<path d="M587.37,80.92 L587.09,81.56 L586.75,82.29 L586.38,82.90 L586.00,83.18 L585.59,83.00 L585.14,82.50 L584.72,81.86 L584.39,81.25 L584.16,80.71 L583.99,80.13 L583.90,79.55 L583.88,79.00 L583.95,78.46 L584.10,77.92 L584.31,77.41 L584.56,76.98 L584.87,76.61 L585.23,76.28 L585.62,76.05 L586.00,75.95 L586.40,76.03 L586.81,76.24 L587.20,76.55 L587.49,76.92 L587.68,77.36 L587.79,77.90 L587.84,78.46 L587.85,79.00 L587.81,79.48 L587.72,79.95 L587.57,80.42Z" fill="#777" stroke="#e6e6e6" stroke-width="0.9"/>
<path d="M592.33,87.94 L591.91,88.16 L591.28,88.28 L590.60,88.30 L590.00,88.26 L589.53,88.14 L589.12,87.94 L588.72,87.68 L588.32,87.40 L587.81,87.09 L587.26,86.73 L586.81,86.36 L586.63,86.00 L586.83,85.65 L587.31,85.30 L587.89,84.96 L588.40,84.66 L588.79,84.40 L589.15,84.17 L589.54,83.98 L590.00,83.85 L590.64,83.74 L591.40,83.68 L592.09,83.70 L592.55,83.88 L592.64,84.26 L592.50,84.82 L592.29,85.43 L592.16,86.00 L592.22,86.54 L592.37,87.08 L592.45,87.57Z" fill="#777" stroke="#e6e6e6" stroke-width="0.9"/>
<path d="M595.71,89.37 L595.39,89.69 L594.97,90.02 L594.49,90.28 L594.00,90.40 L593.45,90.37 L592.84,90.21 L592.29,89.96 L591.91,89.67 L591.77,89.31 L591.81,88.87 L591.91,88.41 L592.01,88.00 L592.06,87.64 L592.11,87.31 L592.20,87.00 L592.39,86.71 L592.70,86.40 L593.12,86.08 L593.57,85.83 L594.00,85.73 L594.44,85.83 L594.90,86.07 L595.32,86.38 L595.64,86.69 L595.82,86.99 L595.91,87.32 L595.93,87.66 L595.94,88.00 L595.96,88.35 L595.95,88.70 L595.88,89.05Z" fill="#777" stroke="#e6e6e6" stroke-width="0.9"/>
<path d="M587.75,89.87 L587.30,90.17 L586.88,90.50 L586.46,90.78 L586.00,90.91 L585.45,90.83 L584.85,90.62 L584.29,90.33 L583.87,90.06 L583.63,89.81 L583.52,89.54 L583.49,89.27 L583.49,89.00 L583.51,88.72 L583.56,88.43 L583.69,88.16 L583.94,87.97 L584.33,87.87 L584.85,87.84 L585.42,87.84 L586.00,87.83 L586.60,87.79 L587.23,87.74 L587.85,87.73 L588.38,87.81 L588.89,88.03 L589.38,88.35 L589.73,88.70 L589.83,89.00 L589.55,89.24 L588.99,89.45 L588.33,89.65Z" fill="#777" stroke="#e6e6e6" stroke-width="0.9"/>
<path d="M607.19,89.58 L606.79,89.77 L606.20,89.88 L605.56,89.92 L605.00,89.89 L604.53,89.80 L604.08,89.63 L603.69,89.41 L603.37,89.17 L603.15,88.91 L603.01,88.63 L602.93,88.32 L602.88,88.00 L602.85,87.65 L602.85,87.26 L602.93,86.90 L603.12,86.64 L603.47,86.52 L603.94,86.50 L604.47,86.51 L605.00,86.51 L605.57,86.45 L606.20,86.37 L606.77,86.34 L607.16,86.44 L607.31,86.72 L607.28,87.12 L607.19,87.57 L607.14,88.00 L607.20,88.42 L607.30,88.87 L607.33,89.27Z" fill="#777" stroke="#e6e6e6" stroke-width="0.9"/>
<path d="M614.14,88.43 L613.73,88.67 L613.17,88.88 L612.56,89.02 L612.00,89.05 L611.52,88.95 L611.06,88.75 L610.61,88.49 L610.17,88.22 L609.67,87.94 L609.13,87.64 L608.70,87.32 L608.51,87.00 L608.66,86.67 L609.04,86.32 L609.54,85.98 L610.03,85.68 L610.48,85.40 L610.97,85.12 L611.48,84.91 L612.00,84.81 L612.58,84.86 L613.22,85.02 L613.80,85.26 L614.21,85.53 L614.39,85.84 L614.41,86.22 L614.36,86.62 L614.32,87.00 L614.34,87.38 L614.37,87.77 L614.33,88.13Z" fill="#777" stroke="#e6e6e6" stroke-width="0.9"/>
<path d="M619.65,87.32 L619.31,87.46 L618.88,87.52 L618.42,87.52 L618.00,87.50 L617.63,87.47 L617.28,87.40 L616.94,87.30 L616.57,87.14 L616.12,86.91 L615.59,86.63 L615.16,86.31 L614.97,86.00 L615.12,85.69 L615.50,85.36 L615.98,85.03 L616.42,84.74 L616.81,84.43 L617.22,84.12 L617.62,83.89 L618.00,83.80 L618.37,83.94 L618.72,84.24 L619.05,84.59 L619.35,84.92 L619.64,85.18 L619.90,85.45 L620.11,85.71 L620.22,86.00 L620.20,86.34 L620.09,86.72 L619.90,87.07Z" fill="#777" stroke="#e6e6e6" stroke-width="0.9"/>
<path d="M626.95,89.17 L626.51,89.39 L626.02,89.60 L625.50,89.75 L625.00,89.80 L624.49,89.73 L623.97,89.57 L623.49,89.35 L623.14,89.12 L622.93,88.87 L622.82,88.59 L622.79,88.29 L622.78,88.00 L622.78,87.70 L622.81,87.39 L622.91,87.10 L623.12,86.87 L623.49,86.70 L623.98,86.58 L624.51,86.51 L625.00,86.50 L625.43,86.55 L625.85,86.67 L626.25,86.83 L626.65,87.01 L627.09,87.22 L627.55,87.47 L627.93,87.73 L628.11,88.00 L628.02,88.29 L627.74,88.61 L627.35,88.91Z" fill="#777" stroke="#e6e6e6" stroke-width="0.9"/>
<path d="M633.54,88.61 L633.19,88.81 L632.83,88.98 L632.44,89.11 L632.00,89.20 L631.46,89.25 L630.85,89.28 L630.26,89.23 L629.80,89.09 L629.48,88.79 L629.26,88.38 L629.13,87.93 L629.09,87.50 L629.14,87.09 L629.28,86.66 L629.51,86.26 L629.83,85.93 L630.29,85.67 L630.87,85.45 L631.48,85.32 L632.00,85.31 L632.40,85.49 L632.73,85.81 L633.05,86.18 L633.38,86.51 L633.80,86.77 L634.27,87.01 L634.65,87.25 L634.83,87.50 L634.70,87.78 L634.37,88.08 L633.94,88.36Z" fill="#777" stroke="#e6e6e6" stroke-width="0.9"/>
<path d="M652.27,85.12 L651.99,85.48 L651.70,85.89 L651.37,86.25 L651.00,86.44 L650.52,86.42 L649.97,86.26 L649.45,86.01 L649.06,85.71 L648.84,85.34 L648.73,84.90 L648.70,84.43 L648.72,84.00 L648.78,83.60 L648.90,83.21 L649.08,82.85 L649.32,82.53 L649.66,82.22 L650.08,81.92 L650.53,81.70 L651.00,81.59 L651.52,81.62 L652.08,81.76 L652.60,81.98 L652.98,82.26 L653.18,82.63 L653.25,83.10 L653.24,83.58 L653.16,84.00 L653.03,84.32 L652.81,84.58 L652.54,84.84Z" fill="#777" stroke="#e6e6e6" stroke-width="0.9"/>
</g>
</g>
<text x="680.6" y="18.7" font-size="11.3" text-anchor="end" fill="#f4f4f4" stroke="#f4f4f4" stroke-width="0.3">LZNC</text>
<text x="680.6" y="97.6" font-size="10.2" text-anchor="end" fill="#f4f4f4" stroke="#f4f4f4" stroke-width="0.3">50 μm</text>
<rect x="654" y="99.6" width="28.7" height="1.4" fill="#f4f4f4"/>
</svg>
</body></html>
